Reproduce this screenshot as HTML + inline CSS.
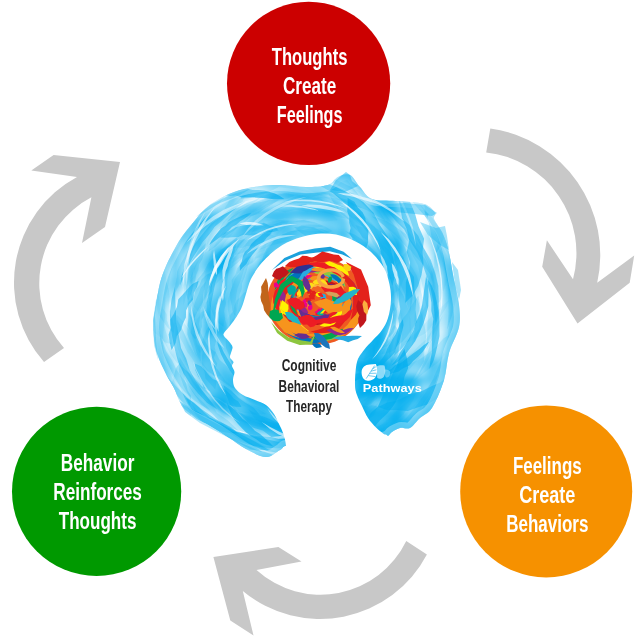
<!DOCTYPE html>
<html><head><meta charset="utf-8"><style>
html,body{margin:0;padding:0;background:#fff;}
svg{display:block;will-change:transform;}
.t{font-family:"Liberation Sans",sans-serif;font-weight:bold;fill:#fff;}
.c{font-family:"Liberation Sans",sans-serif;font-weight:bold;fill:#262626;}
</style></head><body>
<svg width="640" height="640" viewBox="0 0 640 640">
<rect width="640" height="640" fill="#fff"/>
<g fill="#c8c8c8">
<path d="M44,362 A120,120 0 0 1 77,177 L31.3,170.6 L53.6,155 L120,162 L105,227 L82,243 L91.4,197.3 A97,97 0 0 0 64,348 Z"/>
<path d="M490.3,128.4 A127.7,127.7 0 0 1 597.2,282.7 L634.2,255.6 L629.7,282.7 L577.5,323.4 L542.2,266.7 L546.9,240.3 L573,279.3 A101.3,101.3 0 0 0 486.2,152.4 Z"/>
<path d="M426.9,554.4 A120.6,120.6 0 0 1 242.8,591 L253.5,635.6 L230.3,620.6 L213.4,556.9 L278.4,547.1 L301.5,561.6 L256.5,570 A95.2,95.2 0 0 0 406.25,540.9 Z"/>
</g>
<circle cx="308.6" cy="83.4" r="81.6" fill="#cc0000"/>
<circle cx="96.6" cy="491.4" r="84.6" fill="#009900"/>
<circle cx="546.2" cy="491.4" r="86" fill="#f69100"/>
<filter id="bl" x="-10%" y="-10%" width="120%" height="120%"><feGaussianBlur stdDeviation="4"/></filter>
<clipPath id="bc"><path d="M192.0,224.0 C196.0,219.2 200.3,213.2 205.0,209.0 C209.7,204.8 214.2,201.7 220.0,198.5 C225.8,195.3 233.2,192.1 240.0,190.0 C246.8,187.9 254.2,186.8 261.0,186.0 C267.8,185.2 273.5,184.8 281.0,185.0 C288.5,185.2 298.2,187.0 306.0,187.0 C313.8,187.0 322.7,186.7 328.0,185.0 C333.3,183.3 334.3,178.7 338.0,177.0 C341.7,175.3 346.3,173.3 350.0,175.0 C353.7,176.7 356.3,183.0 360.0,187.0 C363.7,191.0 366.0,196.7 372.0,199.0 C378.0,201.3 387.3,200.2 396.0,201.0 C404.7,201.8 417.5,202.0 424.0,204.0 C430.5,206.0 433.3,210.5 435.0,213.0 C436.7,215.5 432.7,215.5 434.0,219.0 C435.3,222.5 440.5,228.3 443.0,234.0 C445.5,239.7 447.2,245.3 449.0,253.0 C450.8,260.7 452.3,271.3 454.0,280.0 C455.7,288.7 458.2,297.2 459.0,305.0 C459.8,312.8 460.7,319.0 459.0,327.0 C457.3,335.0 451.5,344.2 449.0,353.0 C446.5,361.8 446.8,370.8 444.0,380.0 C441.2,389.2 436.0,401.7 432.0,408.0 C428.0,414.3 423.7,414.7 420.0,418.0 C416.3,421.3 413.3,426.3 410.0,428.0 C406.7,429.7 403.0,427.3 400.0,428.0 C397.0,428.7 394.3,430.5 392.0,432.0 C389.7,433.5 389.7,435.5 386.0,437.0 C382.3,438.5 379.3,439.2 370.0,441.0 C360.7,442.8 343.3,447.3 330.0,448.0 C316.7,448.7 298.3,444.7 290.0,445.0 C281.7,445.3 284.0,448.0 280.0,450.0 C276.0,452.0 271.7,457.2 266.0,457.0 C260.3,456.8 252.3,452.3 246.0,449.0 C239.7,445.7 234.2,441.0 228.0,437.0 C221.8,433.0 215.7,428.8 209.0,425.0 C202.3,421.2 192.8,417.8 188.0,414.0 C183.2,410.2 182.3,406.3 180.0,402.0 C177.7,397.7 176.3,392.7 174.0,388.0 C171.7,383.3 168.8,379.8 166.0,374.0 C163.2,368.2 159.2,360.8 157.0,353.0 C154.8,345.2 153.2,335.0 153.0,327.0 C152.8,319.0 154.8,312.3 156.0,305.0 C157.2,297.7 158.3,289.5 160.0,283.0 C161.7,276.5 163.8,271.2 166.0,266.0 C168.2,260.8 170.5,256.7 173.0,252.0 C175.5,247.3 177.8,242.7 181.0,238.0 C184.2,233.3 188.0,228.8 192.0,224.0Z"/></clipPath>
<g clip-path="url(#bc)">
<g fill="#00aeef" filter="url(#bl)"><rect x="148" y="168" width="8" height="8" fill-opacity="0.37"/>
<rect x="156" y="168" width="8" height="8" fill-opacity="0.36"/>
<rect x="164" y="168" width="8" height="8" fill-opacity="0.34"/>
<rect x="172" y="168" width="8" height="8" fill-opacity="0.33"/>
<rect x="180" y="168" width="8" height="8" fill-opacity="0.31"/>
<rect x="188" y="168" width="8" height="8" fill-opacity="0.30"/>
<rect x="196" y="168" width="8" height="8" fill-opacity="0.28"/>
<rect x="204" y="168" width="8" height="8" fill-opacity="0.28"/>
<rect x="212" y="168" width="8" height="8" fill-opacity="0.29"/>
<rect x="220" y="168" width="8" height="8" fill-opacity="0.31"/>
<rect x="228" y="168" width="8" height="8" fill-opacity="0.34"/>
<rect x="236" y="168" width="8" height="8" fill-opacity="0.35"/>
<rect x="244" y="168" width="8" height="8" fill-opacity="0.35"/>
<rect x="252" y="168" width="8" height="8" fill-opacity="0.37"/>
<rect x="260" y="168" width="8" height="8" fill-opacity="0.39"/>
<rect x="268" y="168" width="8" height="8" fill-opacity="0.41"/>
<rect x="276" y="168" width="8" height="8" fill-opacity="0.42"/>
<rect x="284" y="168" width="8" height="8" fill-opacity="0.43"/>
<rect x="292" y="168" width="8" height="8" fill-opacity="0.44"/>
<rect x="300" y="168" width="8" height="8" fill-opacity="0.44"/>
<rect x="308" y="168" width="8" height="8" fill-opacity="0.44"/>
<rect x="316" y="168" width="8" height="8" fill-opacity="0.44"/>
<rect x="324" y="168" width="8" height="8" fill-opacity="1.00"/>
<rect x="332" y="168" width="8" height="8" fill-opacity="1.00"/>
<rect x="340" y="168" width="8" height="8" fill-opacity="1.00"/>
<rect x="348" y="168" width="8" height="8" fill-opacity="0.89"/>
<rect x="356" y="168" width="8" height="8" fill-opacity="1.00"/>
<rect x="364" y="168" width="8" height="8" fill-opacity="0.44"/>
<rect x="372" y="168" width="8" height="8" fill-opacity="0.44"/>
<rect x="380" y="168" width="8" height="8" fill-opacity="0.45"/>
<rect x="388" y="168" width="8" height="8" fill-opacity="0.45"/>
<rect x="396" y="168" width="8" height="8" fill-opacity="0.44"/>
<rect x="404" y="168" width="8" height="8" fill-opacity="0.42"/>
<rect x="412" y="168" width="8" height="8" fill-opacity="0.41"/>
<rect x="420" y="168" width="8" height="8" fill-opacity="0.39"/>
<rect x="428" y="168" width="8" height="8" fill-opacity="0.39"/>
<rect x="436" y="168" width="8" height="8" fill-opacity="0.39"/>
<rect x="444" y="168" width="8" height="8" fill-opacity="0.39"/>
<rect x="452" y="168" width="8" height="8" fill-opacity="0.40"/>
<rect x="460" y="168" width="8" height="8" fill-opacity="0.40"/>
<rect x="148" y="176" width="8" height="8" fill-opacity="0.37"/>
<rect x="156" y="176" width="8" height="8" fill-opacity="0.36"/>
<rect x="164" y="176" width="8" height="8" fill-opacity="0.34"/>
<rect x="172" y="176" width="8" height="8" fill-opacity="0.32"/>
<rect x="180" y="176" width="8" height="8" fill-opacity="0.30"/>
<rect x="188" y="176" width="8" height="8" fill-opacity="0.28"/>
<rect x="196" y="176" width="8" height="8" fill-opacity="0.26"/>
<rect x="204" y="176" width="8" height="8" fill-opacity="0.26"/>
<rect x="212" y="176" width="8" height="8" fill-opacity="0.27"/>
<rect x="220" y="176" width="8" height="8" fill-opacity="0.29"/>
<rect x="228" y="176" width="8" height="8" fill-opacity="0.91"/>
<rect x="236" y="176" width="8" height="8" fill-opacity="0.91"/>
<rect x="244" y="176" width="8" height="8" fill-opacity="1.00"/>
<rect x="252" y="176" width="8" height="8" fill-opacity="1.00"/>
<rect x="260" y="176" width="8" height="8" fill-opacity="1.00"/>
<rect x="268" y="176" width="8" height="8" fill-opacity="1.00"/>
<rect x="276" y="176" width="8" height="8" fill-opacity="1.00"/>
<rect x="284" y="176" width="8" height="8" fill-opacity="1.00"/>
<rect x="292" y="176" width="8" height="8" fill-opacity="1.00"/>
<rect x="300" y="176" width="8" height="8" fill-opacity="1.00"/>
<rect x="308" y="176" width="8" height="8" fill-opacity="1.00"/>
<rect x="316" y="176" width="8" height="8" fill-opacity="1.00"/>
<rect x="324" y="176" width="8" height="8" fill-opacity="0.90"/>
<rect x="332" y="176" width="8" height="8" fill-opacity="0.16"/>
<rect x="340" y="176" width="8" height="8" fill-opacity="0.13"/>
<rect x="348" y="176" width="8" height="8" fill-opacity="0.53"/>
<rect x="356" y="176" width="8" height="8" fill-opacity="1.00"/>
<rect x="364" y="176" width="8" height="8" fill-opacity="1.00"/>
<rect x="372" y="176" width="8" height="8" fill-opacity="1.00"/>
<rect x="380" y="176" width="8" height="8" fill-opacity="0.45"/>
<rect x="388" y="176" width="8" height="8" fill-opacity="0.45"/>
<rect x="396" y="176" width="8" height="8" fill-opacity="0.44"/>
<rect x="404" y="176" width="8" height="8" fill-opacity="0.41"/>
<rect x="412" y="176" width="8" height="8" fill-opacity="0.39"/>
<rect x="420" y="176" width="8" height="8" fill-opacity="0.37"/>
<rect x="428" y="176" width="8" height="8" fill-opacity="0.37"/>
<rect x="436" y="176" width="8" height="8" fill-opacity="0.37"/>
<rect x="444" y="176" width="8" height="8" fill-opacity="0.38"/>
<rect x="452" y="176" width="8" height="8" fill-opacity="0.39"/>
<rect x="460" y="176" width="8" height="8" fill-opacity="0.39"/>
<rect x="148" y="184" width="8" height="8" fill-opacity="0.37"/>
<rect x="156" y="184" width="8" height="8" fill-opacity="0.36"/>
<rect x="164" y="184" width="8" height="8" fill-opacity="0.34"/>
<rect x="172" y="184" width="8" height="8" fill-opacity="0.32"/>
<rect x="180" y="184" width="8" height="8" fill-opacity="0.30"/>
<rect x="188" y="184" width="8" height="8" fill-opacity="0.27"/>
<rect x="196" y="184" width="8" height="8" fill-opacity="0.25"/>
<rect x="204" y="184" width="8" height="8" fill-opacity="0.24"/>
<rect x="212" y="184" width="8" height="8" fill-opacity="0.44"/>
<rect x="260" y="184" width="8" height="8" fill-opacity="0.04"/>
<rect x="268" y="184" width="8" height="8" fill-opacity="0.40"/>
<rect x="276" y="184" width="8" height="8" fill-opacity="0.30"/>
<rect x="284" y="184" width="8" height="8" fill-opacity="0.34"/>
<rect x="292" y="184" width="8" height="8" fill-opacity="0.43"/>
<rect x="300" y="184" width="8" height="8" fill-opacity="0.27"/>
<rect x="308" y="184" width="8" height="8" fill-opacity="0.19"/>
<rect x="316" y="184" width="8" height="8" fill-opacity="0.28"/>
<rect x="324" y="184" width="8" height="8" fill-opacity="0.11"/>
<rect x="348" y="184" width="8" height="8" fill-opacity="0.19"/>
<rect x="356" y="184" width="8" height="8" fill-opacity="1.00"/>
<rect x="364" y="184" width="8" height="8" fill-opacity="1.00"/>
<rect x="372" y="184" width="8" height="8" fill-opacity="1.00"/>
<rect x="380" y="184" width="8" height="8" fill-opacity="1.00"/>
<rect x="388" y="184" width="8" height="8" fill-opacity="1.00"/>
<rect x="396" y="184" width="8" height="8" fill-opacity="0.44"/>
<rect x="404" y="184" width="8" height="8" fill-opacity="0.40"/>
<rect x="412" y="184" width="8" height="8" fill-opacity="0.36"/>
<rect x="420" y="184" width="8" height="8" fill-opacity="0.34"/>
<rect x="428" y="184" width="8" height="8" fill-opacity="0.34"/>
<rect x="436" y="184" width="8" height="8" fill-opacity="0.35"/>
<rect x="444" y="184" width="8" height="8" fill-opacity="0.36"/>
<rect x="452" y="184" width="8" height="8" fill-opacity="0.37"/>
<rect x="460" y="184" width="8" height="8" fill-opacity="0.39"/>
<rect x="148" y="192" width="8" height="8" fill-opacity="0.37"/>
<rect x="156" y="192" width="8" height="8" fill-opacity="0.36"/>
<rect x="164" y="192" width="8" height="8" fill-opacity="0.35"/>
<rect x="172" y="192" width="8" height="8" fill-opacity="0.33"/>
<rect x="180" y="192" width="8" height="8" fill-opacity="0.30"/>
<rect x="188" y="192" width="8" height="8" fill-opacity="0.27"/>
<rect x="196" y="192" width="8" height="8" fill-opacity="0.25"/>
<rect x="204" y="192" width="8" height="8" fill-opacity="0.14"/>
<rect x="212" y="192" width="8" height="8" fill-opacity="0.06"/>
<rect x="220" y="192" width="8" height="8" fill-opacity="0.07"/>
<rect x="228" y="192" width="8" height="8" fill-opacity="0.69"/>
<rect x="236" y="192" width="8" height="8" fill-opacity="0.47"/>
<rect x="244" y="192" width="8" height="8" fill-opacity="0.10"/>
<rect x="268" y="192" width="8" height="8" fill-opacity="0.46"/>
<rect x="276" y="192" width="8" height="8" fill-opacity="0.70"/>
<rect x="284" y="192" width="8" height="8" fill-opacity="0.95"/>
<rect x="292" y="192" width="8" height="8" fill-opacity="1.00"/>
<rect x="300" y="192" width="8" height="8" fill-opacity="1.00"/>
<rect x="308" y="192" width="8" height="8" fill-opacity="1.00"/>
<rect x="316" y="192" width="8" height="8" fill-opacity="0.98"/>
<rect x="324" y="192" width="8" height="8" fill-opacity="0.44"/>
<rect x="356" y="192" width="8" height="8" fill-opacity="0.06"/>
<rect x="364" y="192" width="8" height="8" fill-opacity="0.81"/>
<rect x="372" y="192" width="8" height="8" fill-opacity="1.00"/>
<rect x="380" y="192" width="8" height="8" fill-opacity="1.00"/>
<rect x="388" y="192" width="8" height="8" fill-opacity="1.00"/>
<rect x="396" y="192" width="8" height="8" fill-opacity="0.45"/>
<rect x="404" y="192" width="8" height="8" fill-opacity="0.48"/>
<rect x="412" y="192" width="8" height="8" fill-opacity="0.48"/>
<rect x="420" y="192" width="8" height="8" fill-opacity="0.96"/>
<rect x="428" y="192" width="8" height="8" fill-opacity="1.00"/>
<rect x="436" y="192" width="8" height="8" fill-opacity="0.32"/>
<rect x="444" y="192" width="8" height="8" fill-opacity="0.34"/>
<rect x="452" y="192" width="8" height="8" fill-opacity="0.36"/>
<rect x="460" y="192" width="8" height="8" fill-opacity="0.38"/>
<rect x="148" y="200" width="8" height="8" fill-opacity="0.37"/>
<rect x="156" y="200" width="8" height="8" fill-opacity="0.37"/>
<rect x="164" y="200" width="8" height="8" fill-opacity="0.36"/>
<rect x="172" y="200" width="8" height="8" fill-opacity="0.34"/>
<rect x="180" y="200" width="8" height="8" fill-opacity="0.32"/>
<rect x="212" y="200" width="8" height="8" fill-opacity="0.12"/>
<rect x="220" y="200" width="8" height="8" fill-opacity="0.42"/>
<rect x="228" y="200" width="8" height="8" fill-opacity="0.58"/>
<rect x="268" y="200" width="8" height="8" fill-opacity="0.06"/>
<rect x="284" y="200" width="8" height="8" fill-opacity="0.01"/>
<rect x="292" y="200" width="8" height="8" fill-opacity="0.11"/>
<rect x="300" y="200" width="8" height="8" fill-opacity="0.21"/>
<rect x="308" y="200" width="8" height="8" fill-opacity="0.14"/>
<rect x="316" y="200" width="8" height="8" fill-opacity="0.25"/>
<rect x="324" y="200" width="8" height="8" fill-opacity="0.43"/>
<rect x="332" y="200" width="8" height="8" fill-opacity="0.54"/>
<rect x="372" y="200" width="8" height="8" fill-opacity="0.96"/>
<rect x="380" y="200" width="8" height="8" fill-opacity="1.00"/>
<rect x="388" y="200" width="8" height="8" fill-opacity="0.88"/>
<rect x="396" y="200" width="8" height="8" fill-opacity="0.07"/>
<rect x="444" y="200" width="8" height="8" fill-opacity="0.33"/>
<rect x="452" y="200" width="8" height="8" fill-opacity="0.36"/>
<rect x="460" y="200" width="8" height="8" fill-opacity="0.38"/>
<rect x="148" y="208" width="8" height="8" fill-opacity="0.38"/>
<rect x="156" y="208" width="8" height="8" fill-opacity="0.37"/>
<rect x="164" y="208" width="8" height="8" fill-opacity="0.37"/>
<rect x="172" y="208" width="8" height="8" fill-opacity="0.36"/>
<rect x="180" y="208" width="8" height="8" fill-opacity="0.35"/>
<rect x="188" y="208" width="8" height="8" fill-opacity="0.15"/>
<rect x="196" y="208" width="8" height="8" fill-opacity="0.42"/>
<rect x="204" y="208" width="8" height="8" fill-opacity="0.46"/>
<rect x="212" y="208" width="8" height="8" fill-opacity="0.65"/>
<rect x="220" y="208" width="8" height="8" fill-opacity="0.49"/>
<rect x="228" y="208" width="8" height="8" fill-opacity="0.44"/>
<rect x="236" y="208" width="8" height="8" fill-opacity="0.39"/>
<rect x="244" y="208" width="8" height="8" fill-opacity="0.61"/>
<rect x="252" y="208" width="8" height="8" fill-opacity="0.69"/>
<rect x="260" y="208" width="8" height="8" fill-opacity="0.71"/>
<rect x="268" y="208" width="8" height="8" fill-opacity="0.75"/>
<rect x="276" y="208" width="8" height="8" fill-opacity="0.82"/>
<rect x="284" y="208" width="8" height="8" fill-opacity="0.86"/>
<rect x="292" y="208" width="8" height="8" fill-opacity="0.87"/>
<rect x="300" y="208" width="8" height="8" fill-opacity="1.00"/>
<rect x="308" y="208" width="8" height="8" fill-opacity="1.00"/>
<rect x="316" y="208" width="8" height="8" fill-opacity="1.00"/>
<rect x="324" y="208" width="8" height="8" fill-opacity="1.00"/>
<rect x="332" y="208" width="8" height="8" fill-opacity="0.85"/>
<rect x="340" y="208" width="8" height="8" fill-opacity="0.22"/>
<rect x="372" y="208" width="8" height="8" fill-opacity="0.68"/>
<rect x="380" y="208" width="8" height="8" fill-opacity="0.95"/>
<rect x="388" y="208" width="8" height="8" fill-opacity="1.00"/>
<rect x="396" y="208" width="8" height="8" fill-opacity="0.38"/>
<rect x="436" y="208" width="8" height="8" fill-opacity="0.41"/>
<rect x="444" y="208" width="8" height="8" fill-opacity="0.33"/>
<rect x="452" y="208" width="8" height="8" fill-opacity="0.36"/>
<rect x="460" y="208" width="8" height="8" fill-opacity="0.38"/>
<rect x="148" y="216" width="8" height="8" fill-opacity="0.38"/>
<rect x="156" y="216" width="8" height="8" fill-opacity="0.38"/>
<rect x="164" y="216" width="8" height="8" fill-opacity="0.38"/>
<rect x="172" y="216" width="8" height="8" fill-opacity="0.38"/>
<rect x="188" y="216" width="8" height="8" fill-opacity="1.00"/>
<rect x="196" y="216" width="8" height="8" fill-opacity="0.92"/>
<rect x="204" y="216" width="8" height="8" fill-opacity="1.00"/>
<rect x="212" y="216" width="8" height="8" fill-opacity="0.74"/>
<rect x="220" y="216" width="8" height="8" fill-opacity="0.30"/>
<rect x="236" y="216" width="8" height="8" fill-opacity="0.01"/>
<rect x="244" y="216" width="8" height="8" fill-opacity="0.36"/>
<rect x="252" y="216" width="8" height="8" fill-opacity="0.59"/>
<rect x="260" y="216" width="8" height="8" fill-opacity="0.58"/>
<rect x="268" y="216" width="8" height="8" fill-opacity="0.72"/>
<rect x="276" y="216" width="8" height="8" fill-opacity="0.65"/>
<rect x="284" y="216" width="8" height="8" fill-opacity="0.55"/>
<rect x="292" y="216" width="8" height="8" fill-opacity="0.32"/>
<rect x="300" y="216" width="8" height="8" fill-opacity="0.33"/>
<rect x="308" y="216" width="8" height="8" fill-opacity="0.33"/>
<rect x="316" y="216" width="8" height="8" fill-opacity="0.41"/>
<rect x="324" y="216" width="8" height="8" fill-opacity="0.56"/>
<rect x="332" y="216" width="8" height="8" fill-opacity="0.64"/>
<rect x="340" y="216" width="8" height="8" fill-opacity="0.75"/>
<rect x="348" y="216" width="8" height="8" fill-opacity="0.24"/>
<rect x="372" y="216" width="8" height="8" fill-opacity="0.25"/>
<rect x="380" y="216" width="8" height="8" fill-opacity="0.62"/>
<rect x="388" y="216" width="8" height="8" fill-opacity="0.74"/>
<rect x="396" y="216" width="8" height="8" fill-opacity="0.29"/>
<rect x="436" y="216" width="8" height="8" fill-opacity="0.01"/>
<rect x="444" y="216" width="8" height="8" fill-opacity="1.00"/>
<rect x="452" y="216" width="8" height="8" fill-opacity="0.36"/>
<rect x="460" y="216" width="8" height="8" fill-opacity="0.38"/>
<rect x="148" y="224" width="8" height="8" fill-opacity="0.38"/>
<rect x="156" y="224" width="8" height="8" fill-opacity="0.38"/>
<rect x="164" y="224" width="8" height="8" fill-opacity="0.38"/>
<rect x="172" y="224" width="8" height="8" fill-opacity="0.61"/>
<rect x="180" y="224" width="8" height="8" fill-opacity="0.78"/>
<rect x="188" y="224" width="8" height="8" fill-opacity="1.00"/>
<rect x="196" y="224" width="8" height="8" fill-opacity="0.85"/>
<rect x="204" y="224" width="8" height="8" fill-opacity="0.67"/>
<rect x="212" y="224" width="8" height="8" fill-opacity="0.01"/>
<rect x="236" y="224" width="8" height="8" fill-opacity="0.43"/>
<rect x="244" y="224" width="8" height="8" fill-opacity="0.88"/>
<rect x="252" y="224" width="8" height="8" fill-opacity="0.70"/>
<rect x="260" y="224" width="8" height="8" fill-opacity="0.34"/>
<rect x="268" y="224" width="8" height="8" fill-opacity="0.43"/>
<rect x="276" y="224" width="8" height="8" fill-opacity="0.63"/>
<rect x="284" y="224" width="8" height="8" fill-opacity="0.67"/>
<rect x="292" y="224" width="8" height="8" fill-opacity="0.44"/>
<rect x="300" y="224" width="8" height="8" fill-opacity="0.42"/>
<rect x="308" y="224" width="8" height="8" fill-opacity="0.47"/>
<rect x="316" y="224" width="8" height="8" fill-opacity="0.51"/>
<rect x="324" y="224" width="8" height="8" fill-opacity="0.59"/>
<rect x="332" y="224" width="8" height="8" fill-opacity="0.49"/>
<rect x="340" y="224" width="8" height="8" fill-opacity="0.67"/>
<rect x="348" y="224" width="8" height="8" fill-opacity="0.30"/>
<rect x="372" y="224" width="8" height="8" fill-opacity="0.10"/>
<rect x="380" y="224" width="8" height="8" fill-opacity="0.50"/>
<rect x="388" y="224" width="8" height="8" fill-opacity="0.57"/>
<rect x="396" y="224" width="8" height="8" fill-opacity="0.27"/>
<rect x="428" y="224" width="8" height="8" fill-opacity="0.23"/>
<rect x="444" y="224" width="8" height="8" fill-opacity="0.16"/>
<rect x="452" y="224" width="8" height="8" fill-opacity="1.00"/>
<rect x="460" y="224" width="8" height="8" fill-opacity="0.39"/>
<rect x="148" y="232" width="8" height="8" fill-opacity="0.38"/>
<rect x="156" y="232" width="8" height="8" fill-opacity="0.37"/>
<rect x="164" y="232" width="8" height="8" fill-opacity="1.00"/>
<rect x="172" y="232" width="8" height="8" fill-opacity="0.49"/>
<rect x="180" y="232" width="8" height="8" fill-opacity="0.95"/>
<rect x="188" y="232" width="8" height="8" fill-opacity="0.75"/>
<rect x="196" y="232" width="8" height="8" fill-opacity="0.63"/>
<rect x="204" y="232" width="8" height="8" fill-opacity="0.28"/>
<rect x="212" y="232" width="8" height="8" fill-opacity="0.03"/>
<rect x="220" y="232" width="8" height="8" fill-opacity="0.27"/>
<rect x="228" y="232" width="8" height="8" fill-opacity="0.21"/>
<rect x="236" y="232" width="8" height="8" fill-opacity="0.56"/>
<rect x="244" y="232" width="8" height="8" fill-opacity="0.21"/>
<rect x="252" y="232" width="8" height="8" fill-opacity="0.02"/>
<rect x="268" y="232" width="8" height="8" fill-opacity="0.32"/>
<rect x="276" y="232" width="8" height="8" fill-opacity="0.59"/>
<rect x="284" y="232" width="8" height="8" fill-opacity="0.63"/>
<rect x="292" y="232" width="8" height="8" fill-opacity="0.44"/>
<rect x="300" y="232" width="8" height="8" fill-opacity="0.25"/>
<rect x="308" y="232" width="8" height="8" fill-opacity="0.31"/>
<rect x="316" y="232" width="8" height="8" fill-opacity="0.55"/>
<rect x="324" y="232" width="8" height="8" fill-opacity="0.93"/>
<rect x="332" y="232" width="8" height="8" fill-opacity="0.74"/>
<rect x="340" y="232" width="8" height="8" fill-opacity="0.92"/>
<rect x="348" y="232" width="8" height="8" fill-opacity="0.41"/>
<rect x="356" y="232" width="8" height="8" fill-opacity="0.01"/>
<rect x="364" y="232" width="8" height="8" fill-opacity="0.04"/>
<rect x="372" y="232" width="8" height="8" fill-opacity="0.18"/>
<rect x="380" y="232" width="8" height="8" fill-opacity="0.67"/>
<rect x="388" y="232" width="8" height="8" fill-opacity="0.76"/>
<rect x="396" y="232" width="8" height="8" fill-opacity="0.62"/>
<rect x="420" y="232" width="8" height="8" fill-opacity="0.25"/>
<rect x="428" y="232" width="8" height="8" fill-opacity="0.49"/>
<rect x="436" y="232" width="8" height="8" fill-opacity="0.19"/>
<rect x="452" y="232" width="8" height="8" fill-opacity="1.00"/>
<rect x="460" y="232" width="8" height="8" fill-opacity="0.39"/>
<rect x="148" y="240" width="8" height="8" fill-opacity="0.37"/>
<rect x="156" y="240" width="8" height="8" fill-opacity="0.36"/>
<rect x="164" y="240" width="8" height="8" fill-opacity="1.00"/>
<rect x="172" y="240" width="8" height="8" fill-opacity="0.37"/>
<rect x="180" y="240" width="8" height="8" fill-opacity="0.82"/>
<rect x="188" y="240" width="8" height="8" fill-opacity="0.35"/>
<rect x="196" y="240" width="8" height="8" fill-opacity="0.75"/>
<rect x="204" y="240" width="8" height="8" fill-opacity="0.10"/>
<rect x="212" y="240" width="8" height="8" fill-opacity="0.34"/>
<rect x="220" y="240" width="8" height="8" fill-opacity="0.51"/>
<rect x="228" y="240" width="8" height="8" fill-opacity="0.51"/>
<rect x="236" y="240" width="8" height="8" fill-opacity="0.42"/>
<rect x="244" y="240" width="8" height="8" fill-opacity="0.12"/>
<rect x="252" y="240" width="8" height="8" fill-opacity="0.19"/>
<rect x="260" y="240" width="8" height="8" fill-opacity="0.36"/>
<rect x="268" y="240" width="8" height="8" fill-opacity="0.43"/>
<rect x="276" y="240" width="8" height="8" fill-opacity="0.51"/>
<rect x="284" y="240" width="8" height="8" fill-opacity="0.13"/>
<rect x="340" y="240" width="8" height="8" fill-opacity="0.41"/>
<rect x="348" y="240" width="8" height="8" fill-opacity="0.52"/>
<rect x="356" y="240" width="8" height="8" fill-opacity="0.32"/>
<rect x="364" y="240" width="8" height="8" fill-opacity="0.37"/>
<rect x="372" y="240" width="8" height="8" fill-opacity="0.37"/>
<rect x="380" y="240" width="8" height="8" fill-opacity="0.75"/>
<rect x="388" y="240" width="8" height="8" fill-opacity="0.88"/>
<rect x="396" y="240" width="8" height="8" fill-opacity="1.00"/>
<rect x="420" y="240" width="8" height="8" fill-opacity="0.11"/>
<rect x="428" y="240" width="8" height="8" fill-opacity="0.41"/>
<rect x="436" y="240" width="8" height="8" fill-opacity="0.59"/>
<rect x="452" y="240" width="8" height="8" fill-opacity="1.00"/>
<rect x="460" y="240" width="8" height="8" fill-opacity="0.40"/>
<rect x="148" y="248" width="8" height="8" fill-opacity="0.37"/>
<rect x="156" y="248" width="8" height="8" fill-opacity="1.00"/>
<rect x="164" y="248" width="8" height="8" fill-opacity="0.88"/>
<rect x="172" y="248" width="8" height="8" fill-opacity="0.48"/>
<rect x="180" y="248" width="8" height="8" fill-opacity="0.54"/>
<rect x="188" y="248" width="8" height="8" fill-opacity="0.22"/>
<rect x="196" y="248" width="8" height="8" fill-opacity="0.52"/>
<rect x="204" y="248" width="8" height="8" fill-opacity="0.24"/>
<rect x="212" y="248" width="8" height="8" fill-opacity="0.80"/>
<rect x="220" y="248" width="8" height="8" fill-opacity="0.87"/>
<rect x="228" y="248" width="8" height="8" fill-opacity="0.81"/>
<rect x="236" y="248" width="8" height="8" fill-opacity="0.14"/>
<rect x="252" y="248" width="8" height="8" fill-opacity="0.08"/>
<rect x="260" y="248" width="8" height="8" fill-opacity="0.37"/>
<rect x="268" y="248" width="8" height="8" fill-opacity="0.29"/>
<rect x="340" y="248" width="8" height="8" fill-opacity="0.19"/>
<rect x="348" y="248" width="8" height="8" fill-opacity="1.00"/>
<rect x="356" y="248" width="8" height="8" fill-opacity="1.00"/>
<rect x="364" y="248" width="8" height="8" fill-opacity="0.92"/>
<rect x="372" y="248" width="8" height="8" fill-opacity="0.52"/>
<rect x="380" y="248" width="8" height="8" fill-opacity="0.53"/>
<rect x="388" y="248" width="8" height="8" fill-opacity="0.68"/>
<rect x="396" y="248" width="8" height="8" fill-opacity="1.00"/>
<rect x="404" y="248" width="8" height="8" fill-opacity="0.21"/>
<rect x="428" y="248" width="8" height="8" fill-opacity="0.29"/>
<rect x="436" y="248" width="8" height="8" fill-opacity="0.86"/>
<rect x="444" y="248" width="8" height="8" fill-opacity="0.09"/>
<rect x="452" y="248" width="8" height="8" fill-opacity="1.00"/>
<rect x="460" y="248" width="8" height="8" fill-opacity="0.40"/>
<rect x="148" y="256" width="8" height="8" fill-opacity="0.36"/>
<rect x="156" y="256" width="8" height="8" fill-opacity="1.00"/>
<rect x="164" y="256" width="8" height="8" fill-opacity="0.51"/>
<rect x="172" y="256" width="8" height="8" fill-opacity="0.68"/>
<rect x="180" y="256" width="8" height="8" fill-opacity="0.27"/>
<rect x="188" y="256" width="8" height="8" fill-opacity="0.43"/>
<rect x="196" y="256" width="8" height="8" fill-opacity="0.38"/>
<rect x="204" y="256" width="8" height="8" fill-opacity="0.68"/>
<rect x="212" y="256" width="8" height="8" fill-opacity="0.90"/>
<rect x="220" y="256" width="8" height="8" fill-opacity="1.00"/>
<rect x="228" y="256" width="8" height="8" fill-opacity="0.71"/>
<rect x="236" y="256" width="8" height="8" fill-opacity="0.01"/>
<rect x="244" y="256" width="8" height="8" fill-opacity="0.36"/>
<rect x="252" y="256" width="8" height="8" fill-opacity="0.27"/>
<rect x="260" y="256" width="8" height="8" fill-opacity="0.94"/>
<rect x="268" y="256" width="8" height="8" fill-opacity="0.95"/>
<rect x="276" y="256" width="8" height="8" fill-opacity="1.00"/>
<rect x="348" y="256" width="8" height="8" fill-opacity="1.00"/>
<rect x="356" y="256" width="8" height="8" fill-opacity="1.00"/>
<rect x="364" y="256" width="8" height="8" fill-opacity="0.79"/>
<rect x="372" y="256" width="8" height="8" fill-opacity="1.00"/>
<rect x="380" y="256" width="8" height="8" fill-opacity="0.57"/>
<rect x="388" y="256" width="8" height="8" fill-opacity="0.84"/>
<rect x="396" y="256" width="8" height="8" fill-opacity="0.72"/>
<rect x="404" y="256" width="8" height="8" fill-opacity="0.43"/>
<rect x="428" y="256" width="8" height="8" fill-opacity="0.15"/>
<rect x="436" y="256" width="8" height="8" fill-opacity="0.74"/>
<rect x="444" y="256" width="8" height="8" fill-opacity="0.71"/>
<rect x="452" y="256" width="8" height="8" fill-opacity="1.00"/>
<rect x="460" y="256" width="8" height="8" fill-opacity="1.00"/>
<rect x="148" y="264" width="8" height="8" fill-opacity="0.37"/>
<rect x="156" y="264" width="8" height="8" fill-opacity="1.00"/>
<rect x="164" y="264" width="8" height="8" fill-opacity="0.22"/>
<rect x="172" y="264" width="8" height="8" fill-opacity="0.70"/>
<rect x="180" y="264" width="8" height="8" fill-opacity="0.09"/>
<rect x="188" y="264" width="8" height="8" fill-opacity="0.78"/>
<rect x="196" y="264" width="8" height="8" fill-opacity="0.31"/>
<rect x="204" y="264" width="8" height="8" fill-opacity="0.76"/>
<rect x="212" y="264" width="8" height="8" fill-opacity="0.84"/>
<rect x="220" y="264" width="8" height="8" fill-opacity="0.99"/>
<rect x="228" y="264" width="8" height="8" fill-opacity="0.66"/>
<rect x="236" y="264" width="8" height="8" fill-opacity="0.08"/>
<rect x="244" y="264" width="8" height="8" fill-opacity="0.56"/>
<rect x="252" y="264" width="8" height="8" fill-opacity="0.51"/>
<rect x="260" y="264" width="8" height="8" fill-opacity="1.00"/>
<rect x="268" y="264" width="8" height="8" fill-opacity="1.00"/>
<rect x="276" y="264" width="8" height="8" fill-opacity="0.90"/>
<rect x="284" y="264" width="8" height="8" fill-opacity="0.05"/>
<rect x="340" y="264" width="8" height="8" fill-opacity="0.52"/>
<rect x="348" y="264" width="8" height="8" fill-opacity="0.53"/>
<rect x="356" y="264" width="8" height="8" fill-opacity="0.54"/>
<rect x="364" y="264" width="8" height="8" fill-opacity="0.55"/>
<rect x="372" y="264" width="8" height="8" fill-opacity="1.00"/>
<rect x="380" y="264" width="8" height="8" fill-opacity="0.63"/>
<rect x="388" y="264" width="8" height="8" fill-opacity="0.67"/>
<rect x="396" y="264" width="8" height="8" fill-opacity="0.38"/>
<rect x="404" y="264" width="8" height="8" fill-opacity="0.49"/>
<rect x="412" y="264" width="8" height="8" fill-opacity="0.03"/>
<rect x="428" y="264" width="8" height="8" fill-opacity="0.32"/>
<rect x="436" y="264" width="8" height="8" fill-opacity="0.29"/>
<rect x="444" y="264" width="8" height="8" fill-opacity="0.99"/>
<rect x="452" y="264" width="8" height="8" fill-opacity="1.00"/>
<rect x="460" y="264" width="8" height="8" fill-opacity="1.00"/>
<rect x="148" y="272" width="8" height="8" fill-opacity="1.00"/>
<rect x="156" y="272" width="8" height="8" fill-opacity="0.90"/>
<rect x="164" y="272" width="8" height="8" fill-opacity="0.20"/>
<rect x="172" y="272" width="8" height="8" fill-opacity="0.73"/>
<rect x="180" y="272" width="8" height="8" fill-opacity="0.13"/>
<rect x="188" y="272" width="8" height="8" fill-opacity="0.88"/>
<rect x="196" y="272" width="8" height="8" fill-opacity="0.04"/>
<rect x="204" y="272" width="8" height="8" fill-opacity="0.54"/>
<rect x="212" y="272" width="8" height="8" fill-opacity="0.43"/>
<rect x="220" y="272" width="8" height="8" fill-opacity="0.66"/>
<rect x="228" y="272" width="8" height="8" fill-opacity="0.49"/>
<rect x="236" y="272" width="8" height="8" fill-opacity="0.26"/>
<rect x="244" y="272" width="8" height="8" fill-opacity="0.60"/>
<rect x="252" y="272" width="8" height="8" fill-opacity="0.85"/>
<rect x="260" y="272" width="8" height="8" fill-opacity="1.00"/>
<rect x="268" y="272" width="8" height="8" fill-opacity="1.00"/>
<rect x="276" y="272" width="8" height="8" fill-opacity="0.80"/>
<rect x="316" y="272" width="8" height="8" fill-opacity="0.50"/>
<rect x="324" y="272" width="8" height="8" fill-opacity="0.51"/>
<rect x="332" y="272" width="8" height="8" fill-opacity="0.51"/>
<rect x="340" y="272" width="8" height="8" fill-opacity="0.52"/>
<rect x="348" y="272" width="8" height="8" fill-opacity="0.53"/>
<rect x="356" y="272" width="8" height="8" fill-opacity="0.53"/>
<rect x="364" y="272" width="8" height="8" fill-opacity="0.54"/>
<rect x="372" y="272" width="8" height="8" fill-opacity="1.00"/>
<rect x="380" y="272" width="8" height="8" fill-opacity="0.95"/>
<rect x="388" y="272" width="8" height="8" fill-opacity="0.72"/>
<rect x="396" y="272" width="8" height="8" fill-opacity="0.54"/>
<rect x="404" y="272" width="8" height="8" fill-opacity="0.38"/>
<rect x="412" y="272" width="8" height="8" fill-opacity="0.46"/>
<rect x="428" y="272" width="8" height="8" fill-opacity="0.49"/>
<rect x="444" y="272" width="8" height="8" fill-opacity="1.00"/>
<rect x="452" y="272" width="8" height="8" fill-opacity="0.91"/>
<rect x="460" y="272" width="8" height="8" fill-opacity="1.00"/>
<rect x="148" y="280" width="8" height="8" fill-opacity="1.00"/>
<rect x="156" y="280" width="8" height="8" fill-opacity="0.60"/>
<rect x="164" y="280" width="8" height="8" fill-opacity="0.37"/>
<rect x="172" y="280" width="8" height="8" fill-opacity="0.79"/>
<rect x="180" y="280" width="8" height="8" fill-opacity="0.26"/>
<rect x="188" y="280" width="8" height="8" fill-opacity="0.55"/>
<rect x="204" y="280" width="8" height="8" fill-opacity="0.15"/>
<rect x="212" y="280" width="8" height="8" fill-opacity="0.35"/>
<rect x="220" y="280" width="8" height="8" fill-opacity="0.50"/>
<rect x="228" y="280" width="8" height="8" fill-opacity="0.66"/>
<rect x="236" y="280" width="8" height="8" fill-opacity="0.37"/>
<rect x="244" y="280" width="8" height="8" fill-opacity="0.64"/>
<rect x="252" y="280" width="8" height="8" fill-opacity="1.00"/>
<rect x="260" y="280" width="8" height="8" fill-opacity="0.45"/>
<rect x="268" y="280" width="8" height="8" fill-opacity="0.46"/>
<rect x="276" y="280" width="8" height="8" fill-opacity="0.47"/>
<rect x="284" y="280" width="8" height="8" fill-opacity="0.47"/>
<rect x="316" y="280" width="8" height="8" fill-opacity="0.50"/>
<rect x="324" y="280" width="8" height="8" fill-opacity="0.51"/>
<rect x="332" y="280" width="8" height="8" fill-opacity="0.52"/>
<rect x="364" y="280" width="8" height="8" fill-opacity="0.54"/>
<rect x="372" y="280" width="8" height="8" fill-opacity="0.55"/>
<rect x="380" y="280" width="8" height="8" fill-opacity="0.24"/>
<rect x="388" y="280" width="8" height="8" fill-opacity="0.60"/>
<rect x="396" y="280" width="8" height="8" fill-opacity="0.42"/>
<rect x="404" y="280" width="8" height="8" fill-opacity="0.49"/>
<rect x="412" y="280" width="8" height="8" fill-opacity="0.48"/>
<rect x="428" y="280" width="8" height="8" fill-opacity="0.34"/>
<rect x="444" y="280" width="8" height="8" fill-opacity="0.97"/>
<rect x="452" y="280" width="8" height="8" fill-opacity="0.73"/>
<rect x="460" y="280" width="8" height="8" fill-opacity="1.00"/>
<rect x="148" y="288" width="8" height="8" fill-opacity="1.00"/>
<rect x="156" y="288" width="8" height="8" fill-opacity="0.51"/>
<rect x="164" y="288" width="8" height="8" fill-opacity="0.41"/>
<rect x="172" y="288" width="8" height="8" fill-opacity="0.51"/>
<rect x="180" y="288" width="8" height="8" fill-opacity="0.04"/>
<rect x="188" y="288" width="8" height="8" fill-opacity="0.04"/>
<rect x="204" y="288" width="8" height="8" fill-opacity="0.06"/>
<rect x="212" y="288" width="8" height="8" fill-opacity="0.42"/>
<rect x="220" y="288" width="8" height="8" fill-opacity="0.58"/>
<rect x="228" y="288" width="8" height="8" fill-opacity="0.60"/>
<rect x="236" y="288" width="8" height="8" fill-opacity="0.37"/>
<rect x="244" y="288" width="8" height="8" fill-opacity="0.71"/>
<rect x="252" y="288" width="8" height="8" fill-opacity="1.00"/>
<rect x="260" y="288" width="8" height="8" fill-opacity="0.46"/>
<rect x="268" y="288" width="8" height="8" fill-opacity="0.46"/>
<rect x="276" y="288" width="8" height="8" fill-opacity="0.47"/>
<rect x="284" y="288" width="8" height="8" fill-opacity="0.48"/>
<rect x="292" y="288" width="8" height="8" fill-opacity="0.49"/>
<rect x="300" y="288" width="8" height="8" fill-opacity="0.50"/>
<rect x="308" y="288" width="8" height="8" fill-opacity="0.50"/>
<rect x="316" y="288" width="8" height="8" fill-opacity="0.51"/>
<rect x="364" y="288" width="8" height="8" fill-opacity="0.53"/>
<rect x="372" y="288" width="8" height="8" fill-opacity="0.54"/>
<rect x="380" y="288" width="8" height="8" fill-opacity="0.48"/>
<rect x="388" y="288" width="8" height="8" fill-opacity="0.88"/>
<rect x="396" y="288" width="8" height="8" fill-opacity="0.39"/>
<rect x="404" y="288" width="8" height="8" fill-opacity="0.53"/>
<rect x="412" y="288" width="8" height="8" fill-opacity="0.22"/>
<rect x="428" y="288" width="8" height="8" fill-opacity="0.15"/>
<rect x="444" y="288" width="8" height="8" fill-opacity="0.83"/>
<rect x="452" y="288" width="8" height="8" fill-opacity="0.60"/>
<rect x="460" y="288" width="8" height="8" fill-opacity="1.00"/>
<rect x="148" y="296" width="8" height="8" fill-opacity="0.59"/>
<rect x="156" y="296" width="8" height="8" fill-opacity="0.59"/>
<rect x="164" y="296" width="8" height="8" fill-opacity="0.30"/>
<rect x="172" y="296" width="8" height="8" fill-opacity="0.26"/>
<rect x="204" y="296" width="8" height="8" fill-opacity="0.42"/>
<rect x="212" y="296" width="8" height="8" fill-opacity="0.64"/>
<rect x="220" y="296" width="8" height="8" fill-opacity="0.75"/>
<rect x="228" y="296" width="8" height="8" fill-opacity="0.51"/>
<rect x="236" y="296" width="8" height="8" fill-opacity="0.37"/>
<rect x="244" y="296" width="8" height="8" fill-opacity="0.84"/>
<rect x="252" y="296" width="8" height="8" fill-opacity="1.00"/>
<rect x="260" y="296" width="8" height="8" fill-opacity="0.47"/>
<rect x="268" y="296" width="8" height="8" fill-opacity="0.47"/>
<rect x="276" y="296" width="8" height="8" fill-opacity="0.48"/>
<rect x="284" y="296" width="8" height="8" fill-opacity="0.48"/>
<rect x="292" y="296" width="8" height="8" fill-opacity="0.49"/>
<rect x="300" y="296" width="8" height="8" fill-opacity="0.50"/>
<rect x="364" y="296" width="8" height="8" fill-opacity="0.53"/>
<rect x="372" y="296" width="8" height="8" fill-opacity="0.53"/>
<rect x="380" y="296" width="8" height="8" fill-opacity="0.70"/>
<rect x="388" y="296" width="8" height="8" fill-opacity="0.75"/>
<rect x="404" y="296" width="8" height="8" fill-opacity="0.44"/>
<rect x="428" y="296" width="8" height="8" fill-opacity="0.03"/>
<rect x="444" y="296" width="8" height="8" fill-opacity="0.73"/>
<rect x="452" y="296" width="8" height="8" fill-opacity="0.60"/>
<rect x="460" y="296" width="8" height="8" fill-opacity="1.00"/>
<rect x="148" y="304" width="8" height="8" fill-opacity="0.25"/>
<rect x="156" y="304" width="8" height="8" fill-opacity="0.66"/>
<rect x="188" y="304" width="8" height="8" fill-opacity="0.17"/>
<rect x="196" y="304" width="8" height="8" fill-opacity="0.10"/>
<rect x="204" y="304" width="8" height="8" fill-opacity="0.70"/>
<rect x="212" y="304" width="8" height="8" fill-opacity="0.62"/>
<rect x="220" y="304" width="8" height="8" fill-opacity="0.64"/>
<rect x="228" y="304" width="8" height="8" fill-opacity="0.37"/>
<rect x="236" y="304" width="8" height="8" fill-opacity="0.47"/>
<rect x="244" y="304" width="8" height="8" fill-opacity="1.00"/>
<rect x="252" y="304" width="8" height="8" fill-opacity="0.48"/>
<rect x="260" y="304" width="8" height="8" fill-opacity="0.48"/>
<rect x="268" y="304" width="8" height="8" fill-opacity="0.48"/>
<rect x="276" y="304" width="8" height="8" fill-opacity="0.49"/>
<rect x="284" y="304" width="8" height="8" fill-opacity="0.49"/>
<rect x="292" y="304" width="8" height="8" fill-opacity="0.50"/>
<rect x="300" y="304" width="8" height="8" fill-opacity="0.51"/>
<rect x="356" y="304" width="8" height="8" fill-opacity="0.54"/>
<rect x="364" y="304" width="8" height="8" fill-opacity="0.53"/>
<rect x="372" y="304" width="8" height="8" fill-opacity="0.51"/>
<rect x="380" y="304" width="8" height="8" fill-opacity="0.71"/>
<rect x="388" y="304" width="8" height="8" fill-opacity="0.58"/>
<rect x="396" y="304" width="8" height="8" fill-opacity="0.07"/>
<rect x="404" y="304" width="8" height="8" fill-opacity="0.28"/>
<rect x="436" y="304" width="8" height="8" fill-opacity="0.10"/>
<rect x="444" y="304" width="8" height="8" fill-opacity="0.53"/>
<rect x="452" y="304" width="8" height="8" fill-opacity="0.53"/>
<rect x="460" y="304" width="8" height="8" fill-opacity="1.00"/>
<rect x="156" y="312" width="8" height="8" fill-opacity="0.57"/>
<rect x="188" y="312" width="8" height="8" fill-opacity="0.50"/>
<rect x="196" y="312" width="8" height="8" fill-opacity="0.27"/>
<rect x="204" y="312" width="8" height="8" fill-opacity="0.88"/>
<rect x="212" y="312" width="8" height="8" fill-opacity="0.60"/>
<rect x="220" y="312" width="8" height="8" fill-opacity="0.75"/>
<rect x="228" y="312" width="8" height="8" fill-opacity="0.26"/>
<rect x="236" y="312" width="8" height="8" fill-opacity="0.81"/>
<rect x="244" y="312" width="8" height="8" fill-opacity="1.00"/>
<rect x="252" y="312" width="8" height="8" fill-opacity="0.49"/>
<rect x="260" y="312" width="8" height="8" fill-opacity="0.49"/>
<rect x="268" y="312" width="8" height="8" fill-opacity="0.49"/>
<rect x="276" y="312" width="8" height="8" fill-opacity="0.49"/>
<rect x="284" y="312" width="8" height="8" fill-opacity="0.50"/>
<rect x="292" y="312" width="8" height="8" fill-opacity="0.51"/>
<rect x="300" y="312" width="8" height="8" fill-opacity="0.52"/>
<rect x="332" y="312" width="8" height="8" fill-opacity="0.56"/>
<rect x="340" y="312" width="8" height="8" fill-opacity="0.57"/>
<rect x="348" y="312" width="8" height="8" fill-opacity="0.57"/>
<rect x="356" y="312" width="8" height="8" fill-opacity="0.56"/>
<rect x="364" y="312" width="8" height="8" fill-opacity="0.55"/>
<rect x="372" y="312" width="8" height="8" fill-opacity="1.00"/>
<rect x="380" y="312" width="8" height="8" fill-opacity="1.00"/>
<rect x="388" y="312" width="8" height="8" fill-opacity="0.70"/>
<rect x="396" y="312" width="8" height="8" fill-opacity="0.42"/>
<rect x="428" y="312" width="8" height="8" fill-opacity="0.03"/>
<rect x="436" y="312" width="8" height="8" fill-opacity="0.26"/>
<rect x="444" y="312" width="8" height="8" fill-opacity="0.47"/>
<rect x="452" y="312" width="8" height="8" fill-opacity="0.68"/>
<rect x="460" y="312" width="8" height="8" fill-opacity="0.87"/>
<rect x="148" y="320" width="8" height="8" fill-opacity="0.02"/>
<rect x="156" y="320" width="8" height="8" fill-opacity="0.52"/>
<rect x="188" y="320" width="8" height="8" fill-opacity="0.63"/>
<rect x="196" y="320" width="8" height="8" fill-opacity="0.13"/>
<rect x="204" y="320" width="8" height="8" fill-opacity="0.83"/>
<rect x="212" y="320" width="8" height="8" fill-opacity="0.72"/>
<rect x="220" y="320" width="8" height="8" fill-opacity="0.93"/>
<rect x="228" y="320" width="8" height="8" fill-opacity="0.16"/>
<rect x="236" y="320" width="8" height="8" fill-opacity="1.00"/>
<rect x="244" y="320" width="8" height="8" fill-opacity="0.50"/>
<rect x="252" y="320" width="8" height="8" fill-opacity="0.50"/>
<rect x="260" y="320" width="8" height="8" fill-opacity="0.49"/>
<rect x="268" y="320" width="8" height="8" fill-opacity="0.50"/>
<rect x="276" y="320" width="8" height="8" fill-opacity="0.50"/>
<rect x="284" y="320" width="8" height="8" fill-opacity="0.51"/>
<rect x="292" y="320" width="8" height="8" fill-opacity="0.52"/>
<rect x="300" y="320" width="8" height="8" fill-opacity="0.53"/>
<rect x="308" y="320" width="8" height="8" fill-opacity="0.54"/>
<rect x="316" y="320" width="8" height="8" fill-opacity="0.56"/>
<rect x="324" y="320" width="8" height="8" fill-opacity="0.57"/>
<rect x="332" y="320" width="8" height="8" fill-opacity="0.58"/>
<rect x="340" y="320" width="8" height="8" fill-opacity="0.60"/>
<rect x="348" y="320" width="8" height="8" fill-opacity="0.60"/>
<rect x="356" y="320" width="8" height="8" fill-opacity="0.60"/>
<rect x="364" y="320" width="8" height="8" fill-opacity="0.59"/>
<rect x="372" y="320" width="8" height="8" fill-opacity="0.86"/>
<rect x="380" y="320" width="8" height="8" fill-opacity="1.00"/>
<rect x="388" y="320" width="8" height="8" fill-opacity="0.36"/>
<rect x="396" y="320" width="8" height="8" fill-opacity="0.11"/>
<rect x="428" y="320" width="8" height="8" fill-opacity="0.34"/>
<rect x="436" y="320" width="8" height="8" fill-opacity="0.19"/>
<rect x="444" y="320" width="8" height="8" fill-opacity="0.42"/>
<rect x="452" y="320" width="8" height="8" fill-opacity="0.70"/>
<rect x="460" y="320" width="8" height="8" fill-opacity="0.89"/>
<rect x="148" y="328" width="8" height="8" fill-opacity="0.25"/>
<rect x="156" y="328" width="8" height="8" fill-opacity="0.51"/>
<rect x="172" y="328" width="8" height="8" fill-opacity="0.03"/>
<rect x="188" y="328" width="8" height="8" fill-opacity="0.72"/>
<rect x="196" y="328" width="8" height="8" fill-opacity="0.17"/>
<rect x="204" y="328" width="8" height="8" fill-opacity="0.95"/>
<rect x="212" y="328" width="8" height="8" fill-opacity="0.77"/>
<rect x="220" y="328" width="8" height="8" fill-opacity="1.00"/>
<rect x="228" y="328" width="8" height="8" fill-opacity="0.17"/>
<rect x="236" y="328" width="8" height="8" fill-opacity="1.00"/>
<rect x="244" y="328" width="8" height="8" fill-opacity="0.51"/>
<rect x="252" y="328" width="8" height="8" fill-opacity="0.50"/>
<rect x="260" y="328" width="8" height="8" fill-opacity="0.50"/>
<rect x="268" y="328" width="8" height="8" fill-opacity="0.50"/>
<rect x="276" y="328" width="8" height="8" fill-opacity="0.51"/>
<rect x="284" y="328" width="8" height="8" fill-opacity="0.52"/>
<rect x="292" y="328" width="8" height="8" fill-opacity="0.53"/>
<rect x="300" y="328" width="8" height="8" fill-opacity="0.54"/>
<rect x="308" y="328" width="8" height="8" fill-opacity="0.55"/>
<rect x="316" y="328" width="8" height="8" fill-opacity="0.57"/>
<rect x="324" y="328" width="8" height="8" fill-opacity="0.59"/>
<rect x="340" y="328" width="8" height="8" fill-opacity="0.96"/>
<rect x="348" y="328" width="8" height="8" fill-opacity="1.00"/>
<rect x="356" y="328" width="8" height="8" fill-opacity="1.00"/>
<rect x="364" y="328" width="8" height="8" fill-opacity="0.82"/>
<rect x="372" y="328" width="8" height="8" fill-opacity="0.96"/>
<rect x="380" y="328" width="8" height="8" fill-opacity="0.84"/>
<rect x="428" y="328" width="8" height="8" fill-opacity="0.25"/>
<rect x="436" y="328" width="8" height="8" fill-opacity="0.03"/>
<rect x="444" y="328" width="8" height="8" fill-opacity="0.43"/>
<rect x="452" y="328" width="8" height="8" fill-opacity="0.80"/>
<rect x="460" y="328" width="8" height="8" fill-opacity="0.96"/>
<rect x="148" y="336" width="8" height="8" fill-opacity="0.37"/>
<rect x="156" y="336" width="8" height="8" fill-opacity="0.57"/>
<rect x="172" y="336" width="8" height="8" fill-opacity="0.08"/>
<rect x="188" y="336" width="8" height="8" fill-opacity="0.67"/>
<rect x="196" y="336" width="8" height="8" fill-opacity="0.21"/>
<rect x="204" y="336" width="8" height="8" fill-opacity="0.58"/>
<rect x="212" y="336" width="8" height="8" fill-opacity="0.42"/>
<rect x="220" y="336" width="8" height="8" fill-opacity="0.79"/>
<rect x="228" y="336" width="8" height="8" fill-opacity="0.55"/>
<rect x="236" y="336" width="8" height="8" fill-opacity="0.73"/>
<rect x="244" y="336" width="8" height="8" fill-opacity="0.51"/>
<rect x="252" y="336" width="8" height="8" fill-opacity="0.51"/>
<rect x="260" y="336" width="8" height="8" fill-opacity="0.51"/>
<rect x="268" y="336" width="8" height="8" fill-opacity="0.51"/>
<rect x="276" y="336" width="8" height="8" fill-opacity="0.51"/>
<rect x="284" y="336" width="8" height="8" fill-opacity="0.52"/>
<rect x="292" y="336" width="8" height="8" fill-opacity="0.53"/>
<rect x="300" y="336" width="8" height="8" fill-opacity="0.55"/>
<rect x="308" y="336" width="8" height="8" fill-opacity="0.57"/>
<rect x="316" y="336" width="8" height="8" fill-opacity="1.00"/>
<rect x="324" y="336" width="8" height="8" fill-opacity="1.00"/>
<rect x="332" y="336" width="8" height="8" fill-opacity="1.00"/>
<rect x="340" y="336" width="8" height="8" fill-opacity="1.00"/>
<rect x="348" y="336" width="8" height="8" fill-opacity="1.00"/>
<rect x="356" y="336" width="8" height="8" fill-opacity="1.00"/>
<rect x="364" y="336" width="8" height="8" fill-opacity="0.80"/>
<rect x="372" y="336" width="8" height="8" fill-opacity="1.00"/>
<rect x="380" y="336" width="8" height="8" fill-opacity="0.89"/>
<rect x="420" y="336" width="8" height="8" fill-opacity="0.09"/>
<rect x="428" y="336" width="8" height="8" fill-opacity="0.23"/>
<rect x="436" y="336" width="8" height="8" fill-opacity="0.13"/>
<rect x="444" y="336" width="8" height="8" fill-opacity="0.52"/>
<rect x="452" y="336" width="8" height="8" fill-opacity="1.00"/>
<rect x="460" y="336" width="8" height="8" fill-opacity="1.00"/>
<rect x="148" y="344" width="8" height="8" fill-opacity="0.60"/>
<rect x="156" y="344" width="8" height="8" fill-opacity="0.68"/>
<rect x="172" y="344" width="8" height="8" fill-opacity="0.16"/>
<rect x="188" y="344" width="8" height="8" fill-opacity="0.49"/>
<rect x="196" y="344" width="8" height="8" fill-opacity="0.58"/>
<rect x="204" y="344" width="8" height="8" fill-opacity="0.61"/>
<rect x="212" y="344" width="8" height="8" fill-opacity="0.53"/>
<rect x="220" y="344" width="8" height="8" fill-opacity="0.51"/>
<rect x="228" y="344" width="8" height="8" fill-opacity="0.79"/>
<rect x="236" y="344" width="8" height="8" fill-opacity="1.00"/>
<rect x="244" y="344" width="8" height="8" fill-opacity="0.51"/>
<rect x="252" y="344" width="8" height="8" fill-opacity="0.51"/>
<rect x="260" y="344" width="8" height="8" fill-opacity="0.51"/>
<rect x="268" y="344" width="8" height="8" fill-opacity="0.52"/>
<rect x="276" y="344" width="8" height="8" fill-opacity="0.52"/>
<rect x="284" y="344" width="8" height="8" fill-opacity="0.53"/>
<rect x="292" y="344" width="8" height="8" fill-opacity="0.54"/>
<rect x="300" y="344" width="8" height="8" fill-opacity="0.56"/>
<rect x="308" y="344" width="8" height="8" fill-opacity="0.58"/>
<rect x="316" y="344" width="8" height="8" fill-opacity="1.00"/>
<rect x="324" y="344" width="8" height="8" fill-opacity="1.00"/>
<rect x="332" y="344" width="8" height="8" fill-opacity="1.00"/>
<rect x="340" y="344" width="8" height="8" fill-opacity="1.00"/>
<rect x="348" y="344" width="8" height="8" fill-opacity="1.00"/>
<rect x="356" y="344" width="8" height="8" fill-opacity="1.00"/>
<rect x="364" y="344" width="8" height="8" fill-opacity="0.79"/>
<rect x="372" y="344" width="8" height="8" fill-opacity="1.00"/>
<rect x="380" y="344" width="8" height="8" fill-opacity="0.76"/>
<rect x="420" y="344" width="8" height="8" fill-opacity="0.01"/>
<rect x="428" y="344" width="8" height="8" fill-opacity="0.31"/>
<rect x="436" y="344" width="8" height="8" fill-opacity="0.08"/>
<rect x="444" y="344" width="8" height="8" fill-opacity="0.67"/>
<rect x="452" y="344" width="8" height="8" fill-opacity="1.00"/>
<rect x="460" y="344" width="8" height="8" fill-opacity="1.00"/>
<rect x="148" y="352" width="8" height="8" fill-opacity="0.79"/>
<rect x="156" y="352" width="8" height="8" fill-opacity="0.78"/>
<rect x="164" y="352" width="8" height="8" fill-opacity="0.33"/>
<rect x="172" y="352" width="8" height="8" fill-opacity="0.22"/>
<rect x="180" y="352" width="8" height="8" fill-opacity="0.07"/>
<rect x="188" y="352" width="8" height="8" fill-opacity="0.25"/>
<rect x="196" y="352" width="8" height="8" fill-opacity="0.69"/>
<rect x="204" y="352" width="8" height="8" fill-opacity="0.44"/>
<rect x="212" y="352" width="8" height="8" fill-opacity="0.62"/>
<rect x="220" y="352" width="8" height="8" fill-opacity="0.35"/>
<rect x="228" y="352" width="8" height="8" fill-opacity="0.67"/>
<rect x="236" y="352" width="8" height="8" fill-opacity="0.96"/>
<rect x="244" y="352" width="8" height="8" fill-opacity="0.51"/>
<rect x="252" y="352" width="8" height="8" fill-opacity="0.52"/>
<rect x="260" y="352" width="8" height="8" fill-opacity="0.52"/>
<rect x="268" y="352" width="8" height="8" fill-opacity="0.52"/>
<rect x="276" y="352" width="8" height="8" fill-opacity="0.53"/>
<rect x="284" y="352" width="8" height="8" fill-opacity="1.00"/>
<rect x="292" y="352" width="8" height="8" fill-opacity="1.00"/>
<rect x="300" y="352" width="8" height="8" fill-opacity="1.00"/>
<rect x="308" y="352" width="8" height="8" fill-opacity="1.00"/>
<rect x="316" y="352" width="8" height="8" fill-opacity="1.00"/>
<rect x="324" y="352" width="8" height="8" fill-opacity="1.00"/>
<rect x="332" y="352" width="8" height="8" fill-opacity="1.00"/>
<rect x="340" y="352" width="8" height="8" fill-opacity="0.69"/>
<rect x="348" y="352" width="8" height="8" fill-opacity="0.80"/>
<rect x="356" y="352" width="8" height="8" fill-opacity="0.47"/>
<rect x="364" y="352" width="8" height="8" fill-opacity="0.84"/>
<rect x="372" y="352" width="8" height="8" fill-opacity="0.92"/>
<rect x="380" y="352" width="8" height="8" fill-opacity="0.64"/>
<rect x="388" y="352" width="8" height="8" fill-opacity="0.38"/>
<rect x="396" y="352" width="8" height="8" fill-opacity="0.12"/>
<rect x="412" y="352" width="8" height="8" fill-opacity="0.36"/>
<rect x="420" y="352" width="8" height="8" fill-opacity="0.30"/>
<rect x="428" y="352" width="8" height="8" fill-opacity="0.43"/>
<rect x="436" y="352" width="8" height="8" fill-opacity="0.13"/>
<rect x="444" y="352" width="8" height="8" fill-opacity="1.00"/>
<rect x="452" y="352" width="8" height="8" fill-opacity="1.00"/>
<rect x="460" y="352" width="8" height="8" fill-opacity="0.41"/>
<rect x="148" y="360" width="8" height="8" fill-opacity="1.00"/>
<rect x="156" y="360" width="8" height="8" fill-opacity="0.90"/>
<rect x="164" y="360" width="8" height="8" fill-opacity="0.55"/>
<rect x="172" y="360" width="8" height="8" fill-opacity="0.13"/>
<rect x="180" y="360" width="8" height="8" fill-opacity="0.24"/>
<rect x="196" y="360" width="8" height="8" fill-opacity="0.47"/>
<rect x="204" y="360" width="8" height="8" fill-opacity="0.24"/>
<rect x="212" y="360" width="8" height="8" fill-opacity="0.52"/>
<rect x="220" y="360" width="8" height="8" fill-opacity="0.42"/>
<rect x="228" y="360" width="8" height="8" fill-opacity="0.51"/>
<rect x="236" y="360" width="8" height="8" fill-opacity="0.94"/>
<rect x="244" y="360" width="8" height="8" fill-opacity="0.53"/>
<rect x="252" y="360" width="8" height="8" fill-opacity="0.53"/>
<rect x="260" y="360" width="8" height="8" fill-opacity="0.53"/>
<rect x="268" y="360" width="8" height="8" fill-opacity="0.54"/>
<rect x="276" y="360" width="8" height="8" fill-opacity="0.54"/>
<rect x="284" y="360" width="8" height="8" fill-opacity="1.00"/>
<rect x="292" y="360" width="8" height="8" fill-opacity="1.00"/>
<rect x="300" y="360" width="8" height="8" fill-opacity="1.00"/>
<rect x="308" y="360" width="8" height="8" fill-opacity="1.00"/>
<rect x="316" y="360" width="8" height="8" fill-opacity="1.00"/>
<rect x="324" y="360" width="8" height="8" fill-opacity="1.00"/>
<rect x="332" y="360" width="8" height="8" fill-opacity="1.00"/>
<rect x="340" y="360" width="8" height="8" fill-opacity="1.00"/>
<rect x="348" y="360" width="8" height="8" fill-opacity="0.94"/>
<rect x="356" y="360" width="8" height="8" fill-opacity="1.00"/>
<rect x="364" y="360" width="8" height="8" fill-opacity="1.00"/>
<rect x="372" y="360" width="8" height="8" fill-opacity="1.00"/>
<rect x="380" y="360" width="8" height="8" fill-opacity="1.00"/>
<rect x="388" y="360" width="8" height="8" fill-opacity="1.00"/>
<rect x="396" y="360" width="8" height="8" fill-opacity="0.81"/>
<rect x="404" y="360" width="8" height="8" fill-opacity="0.43"/>
<rect x="412" y="360" width="8" height="8" fill-opacity="0.41"/>
<rect x="420" y="360" width="8" height="8" fill-opacity="0.45"/>
<rect x="428" y="360" width="8" height="8" fill-opacity="0.85"/>
<rect x="436" y="360" width="8" height="8" fill-opacity="0.56"/>
<rect x="444" y="360" width="8" height="8" fill-opacity="1.00"/>
<rect x="452" y="360" width="8" height="8" fill-opacity="1.00"/>
<rect x="460" y="360" width="8" height="8" fill-opacity="0.44"/>
<rect x="148" y="368" width="8" height="8" fill-opacity="0.99"/>
<rect x="156" y="368" width="8" height="8" fill-opacity="0.99"/>
<rect x="164" y="368" width="8" height="8" fill-opacity="0.74"/>
<rect x="172" y="368" width="8" height="8" fill-opacity="0.24"/>
<rect x="180" y="368" width="8" height="8" fill-opacity="0.18"/>
<rect x="188" y="368" width="8" height="8" fill-opacity="0.12"/>
<rect x="196" y="368" width="8" height="8" fill-opacity="0.21"/>
<rect x="204" y="368" width="8" height="8" fill-opacity="0.40"/>
<rect x="212" y="368" width="8" height="8" fill-opacity="0.41"/>
<rect x="220" y="368" width="8" height="8" fill-opacity="0.73"/>
<rect x="228" y="368" width="8" height="8" fill-opacity="0.45"/>
<rect x="236" y="368" width="8" height="8" fill-opacity="0.80"/>
<rect x="244" y="368" width="8" height="8" fill-opacity="0.55"/>
<rect x="252" y="368" width="8" height="8" fill-opacity="0.55"/>
<rect x="260" y="368" width="8" height="8" fill-opacity="0.55"/>
<rect x="268" y="368" width="8" height="8" fill-opacity="0.55"/>
<rect x="276" y="368" width="8" height="8" fill-opacity="1.00"/>
<rect x="284" y="368" width="8" height="8" fill-opacity="1.00"/>
<rect x="292" y="368" width="8" height="8" fill-opacity="1.00"/>
<rect x="300" y="368" width="8" height="8" fill-opacity="1.00"/>
<rect x="308" y="368" width="8" height="8" fill-opacity="1.00"/>
<rect x="316" y="368" width="8" height="8" fill-opacity="1.00"/>
<rect x="324" y="368" width="8" height="8" fill-opacity="1.00"/>
<rect x="332" y="368" width="8" height="8" fill-opacity="1.00"/>
<rect x="340" y="368" width="8" height="8" fill-opacity="1.00"/>
<rect x="348" y="368" width="8" height="8" fill-opacity="0.50"/>
<rect x="356" y="368" width="8" height="8" fill-opacity="1.00"/>
<rect x="364" y="368" width="8" height="8" fill-opacity="1.00"/>
<rect x="372" y="368" width="8" height="8" fill-opacity="1.00"/>
<rect x="380" y="368" width="8" height="8" fill-opacity="1.00"/>
<rect x="388" y="368" width="8" height="8" fill-opacity="0.54"/>
<rect x="396" y="368" width="8" height="8" fill-opacity="0.14"/>
<rect x="404" y="368" width="8" height="8" fill-opacity="0.14"/>
<rect x="420" y="368" width="8" height="8" fill-opacity="0.35"/>
<rect x="428" y="368" width="8" height="8" fill-opacity="0.70"/>
<rect x="436" y="368" width="8" height="8" fill-opacity="0.55"/>
<rect x="444" y="368" width="8" height="8" fill-opacity="1.00"/>
<rect x="452" y="368" width="8" height="8" fill-opacity="1.00"/>
<rect x="460" y="368" width="8" height="8" fill-opacity="0.46"/>
<rect x="148" y="376" width="8" height="8" fill-opacity="0.37"/>
<rect x="156" y="376" width="8" height="8" fill-opacity="1.00"/>
<rect x="164" y="376" width="8" height="8" fill-opacity="0.57"/>
<rect x="172" y="376" width="8" height="8" fill-opacity="0.07"/>
<rect x="188" y="376" width="8" height="8" fill-opacity="0.19"/>
<rect x="196" y="376" width="8" height="8" fill-opacity="0.25"/>
<rect x="204" y="376" width="8" height="8" fill-opacity="0.28"/>
<rect x="212" y="376" width="8" height="8" fill-opacity="0.30"/>
<rect x="220" y="376" width="8" height="8" fill-opacity="0.76"/>
<rect x="228" y="376" width="8" height="8" fill-opacity="0.74"/>
<rect x="236" y="376" width="8" height="8" fill-opacity="0.89"/>
<rect x="244" y="376" width="8" height="8" fill-opacity="0.57"/>
<rect x="252" y="376" width="8" height="8" fill-opacity="0.57"/>
<rect x="260" y="376" width="8" height="8" fill-opacity="0.57"/>
<rect x="268" y="376" width="8" height="8" fill-opacity="0.57"/>
<rect x="276" y="376" width="8" height="8" fill-opacity="1.00"/>
<rect x="284" y="376" width="8" height="8" fill-opacity="1.00"/>
<rect x="292" y="376" width="8" height="8" fill-opacity="1.00"/>
<rect x="300" y="376" width="8" height="8" fill-opacity="1.00"/>
<rect x="308" y="376" width="8" height="8" fill-opacity="1.00"/>
<rect x="316" y="376" width="8" height="8" fill-opacity="1.00"/>
<rect x="324" y="376" width="8" height="8" fill-opacity="1.00"/>
<rect x="332" y="376" width="8" height="8" fill-opacity="1.00"/>
<rect x="340" y="376" width="8" height="8" fill-opacity="1.00"/>
<rect x="348" y="376" width="8" height="8" fill-opacity="0.73"/>
<rect x="356" y="376" width="8" height="8" fill-opacity="1.00"/>
<rect x="364" y="376" width="8" height="8" fill-opacity="1.00"/>
<rect x="372" y="376" width="8" height="8" fill-opacity="1.00"/>
<rect x="380" y="376" width="8" height="8" fill-opacity="1.00"/>
<rect x="388" y="376" width="8" height="8" fill-opacity="1.00"/>
<rect x="396" y="376" width="8" height="8" fill-opacity="1.00"/>
<rect x="404" y="376" width="8" height="8" fill-opacity="1.00"/>
<rect x="412" y="376" width="8" height="8" fill-opacity="1.00"/>
<rect x="420" y="376" width="8" height="8" fill-opacity="0.67"/>
<rect x="428" y="376" width="8" height="8" fill-opacity="0.72"/>
<rect x="436" y="376" width="8" height="8" fill-opacity="0.53"/>
<rect x="444" y="376" width="8" height="8" fill-opacity="1.00"/>
<rect x="452" y="376" width="8" height="8" fill-opacity="1.00"/>
<rect x="460" y="376" width="8" height="8" fill-opacity="0.49"/>
<rect x="148" y="384" width="8" height="8" fill-opacity="0.36"/>
<rect x="156" y="384" width="8" height="8" fill-opacity="1.00"/>
<rect x="164" y="384" width="8" height="8" fill-opacity="0.89"/>
<rect x="172" y="384" width="8" height="8" fill-opacity="0.22"/>
<rect x="188" y="384" width="8" height="8" fill-opacity="0.44"/>
<rect x="196" y="384" width="8" height="8" fill-opacity="0.46"/>
<rect x="204" y="384" width="8" height="8" fill-opacity="0.07"/>
<rect x="212" y="384" width="8" height="8" fill-opacity="0.05"/>
<rect x="220" y="384" width="8" height="8" fill-opacity="0.63"/>
<rect x="228" y="384" width="8" height="8" fill-opacity="0.72"/>
<rect x="236" y="384" width="8" height="8" fill-opacity="0.91"/>
<rect x="244" y="384" width="8" height="8" fill-opacity="1.00"/>
<rect x="252" y="384" width="8" height="8" fill-opacity="1.00"/>
<rect x="260" y="384" width="8" height="8" fill-opacity="0.59"/>
<rect x="268" y="384" width="8" height="8" fill-opacity="0.59"/>
<rect x="276" y="384" width="8" height="8" fill-opacity="1.00"/>
<rect x="284" y="384" width="8" height="8" fill-opacity="1.00"/>
<rect x="292" y="384" width="8" height="8" fill-opacity="1.00"/>
<rect x="300" y="384" width="8" height="8" fill-opacity="1.00"/>
<rect x="308" y="384" width="8" height="8" fill-opacity="1.00"/>
<rect x="316" y="384" width="8" height="8" fill-opacity="1.00"/>
<rect x="324" y="384" width="8" height="8" fill-opacity="1.00"/>
<rect x="332" y="384" width="8" height="8" fill-opacity="1.00"/>
<rect x="340" y="384" width="8" height="8" fill-opacity="1.00"/>
<rect x="348" y="384" width="8" height="8" fill-opacity="0.45"/>
<rect x="356" y="384" width="8" height="8" fill-opacity="1.00"/>
<rect x="364" y="384" width="8" height="8" fill-opacity="1.00"/>
<rect x="372" y="384" width="8" height="8" fill-opacity="1.00"/>
<rect x="380" y="384" width="8" height="8" fill-opacity="1.00"/>
<rect x="388" y="384" width="8" height="8" fill-opacity="0.60"/>
<rect x="396" y="384" width="8" height="8" fill-opacity="0.62"/>
<rect x="404" y="384" width="8" height="8" fill-opacity="0.84"/>
<rect x="412" y="384" width="8" height="8" fill-opacity="0.66"/>
<rect x="420" y="384" width="8" height="8" fill-opacity="0.28"/>
<rect x="428" y="384" width="8" height="8" fill-opacity="0.49"/>
<rect x="436" y="384" width="8" height="8" fill-opacity="0.61"/>
<rect x="444" y="384" width="8" height="8" fill-opacity="1.00"/>
<rect x="452" y="384" width="8" height="8" fill-opacity="0.51"/>
<rect x="460" y="384" width="8" height="8" fill-opacity="0.51"/>
<rect x="148" y="392" width="8" height="8" fill-opacity="0.37"/>
<rect x="156" y="392" width="8" height="8" fill-opacity="0.35"/>
<rect x="164" y="392" width="8" height="8" fill-opacity="1.00"/>
<rect x="172" y="392" width="8" height="8" fill-opacity="0.19"/>
<rect x="188" y="392" width="8" height="8" fill-opacity="0.28"/>
<rect x="196" y="392" width="8" height="8" fill-opacity="0.53"/>
<rect x="212" y="392" width="8" height="8" fill-opacity="0.50"/>
<rect x="220" y="392" width="8" height="8" fill-opacity="0.59"/>
<rect x="228" y="392" width="8" height="8" fill-opacity="0.45"/>
<rect x="236" y="392" width="8" height="8" fill-opacity="0.41"/>
<rect x="244" y="392" width="8" height="8" fill-opacity="1.00"/>
<rect x="252" y="392" width="8" height="8" fill-opacity="1.00"/>
<rect x="260" y="392" width="8" height="8" fill-opacity="0.80"/>
<rect x="268" y="392" width="8" height="8" fill-opacity="0.87"/>
<rect x="276" y="392" width="8" height="8" fill-opacity="1.00"/>
<rect x="284" y="392" width="8" height="8" fill-opacity="1.00"/>
<rect x="292" y="392" width="8" height="8" fill-opacity="1.00"/>
<rect x="300" y="392" width="8" height="8" fill-opacity="1.00"/>
<rect x="308" y="392" width="8" height="8" fill-opacity="1.00"/>
<rect x="316" y="392" width="8" height="8" fill-opacity="1.00"/>
<rect x="324" y="392" width="8" height="8" fill-opacity="1.00"/>
<rect x="332" y="392" width="8" height="8" fill-opacity="1.00"/>
<rect x="340" y="392" width="8" height="8" fill-opacity="1.00"/>
<rect x="348" y="392" width="8" height="8" fill-opacity="1.00"/>
<rect x="356" y="392" width="8" height="8" fill-opacity="1.00"/>
<rect x="364" y="392" width="8" height="8" fill-opacity="1.00"/>
<rect x="372" y="392" width="8" height="8" fill-opacity="1.00"/>
<rect x="380" y="392" width="8" height="8" fill-opacity="1.00"/>
<rect x="388" y="392" width="8" height="8" fill-opacity="1.00"/>
<rect x="396" y="392" width="8" height="8" fill-opacity="1.00"/>
<rect x="404" y="392" width="8" height="8" fill-opacity="1.00"/>
<rect x="412" y="392" width="8" height="8" fill-opacity="0.84"/>
<rect x="420" y="392" width="8" height="8" fill-opacity="0.58"/>
<rect x="428" y="392" width="8" height="8" fill-opacity="0.52"/>
<rect x="436" y="392" width="8" height="8" fill-opacity="1.00"/>
<rect x="444" y="392" width="8" height="8" fill-opacity="1.00"/>
<rect x="452" y="392" width="8" height="8" fill-opacity="0.53"/>
<rect x="460" y="392" width="8" height="8" fill-opacity="0.52"/>
<rect x="148" y="400" width="8" height="8" fill-opacity="0.37"/>
<rect x="156" y="400" width="8" height="8" fill-opacity="0.36"/>
<rect x="164" y="400" width="8" height="8" fill-opacity="1.00"/>
<rect x="172" y="400" width="8" height="8" fill-opacity="0.38"/>
<rect x="196" y="400" width="8" height="8" fill-opacity="0.26"/>
<rect x="204" y="400" width="8" height="8" fill-opacity="0.52"/>
<rect x="212" y="400" width="8" height="8" fill-opacity="1.00"/>
<rect x="220" y="400" width="8" height="8" fill-opacity="1.00"/>
<rect x="228" y="400" width="8" height="8" fill-opacity="0.45"/>
<rect x="236" y="400" width="8" height="8" fill-opacity="0.05"/>
<rect x="244" y="400" width="8" height="8" fill-opacity="0.67"/>
<rect x="252" y="400" width="8" height="8" fill-opacity="0.80"/>
<rect x="260" y="400" width="8" height="8" fill-opacity="0.94"/>
<rect x="268" y="400" width="8" height="8" fill-opacity="1.00"/>
<rect x="276" y="400" width="8" height="8" fill-opacity="1.00"/>
<rect x="284" y="400" width="8" height="8" fill-opacity="1.00"/>
<rect x="292" y="400" width="8" height="8" fill-opacity="1.00"/>
<rect x="300" y="400" width="8" height="8" fill-opacity="1.00"/>
<rect x="308" y="400" width="8" height="8" fill-opacity="1.00"/>
<rect x="316" y="400" width="8" height="8" fill-opacity="1.00"/>
<rect x="324" y="400" width="8" height="8" fill-opacity="1.00"/>
<rect x="332" y="400" width="8" height="8" fill-opacity="1.00"/>
<rect x="340" y="400" width="8" height="8" fill-opacity="0.69"/>
<rect x="348" y="400" width="8" height="8" fill-opacity="1.00"/>
<rect x="356" y="400" width="8" height="8" fill-opacity="0.67"/>
<rect x="364" y="400" width="8" height="8" fill-opacity="0.69"/>
<rect x="372" y="400" width="8" height="8" fill-opacity="0.36"/>
<rect x="380" y="400" width="8" height="8" fill-opacity="0.41"/>
<rect x="388" y="400" width="8" height="8" fill-opacity="0.43"/>
<rect x="396" y="400" width="8" height="8" fill-opacity="0.92"/>
<rect x="404" y="400" width="8" height="8" fill-opacity="0.62"/>
<rect x="412" y="400" width="8" height="8" fill-opacity="0.25"/>
<rect x="420" y="400" width="8" height="8" fill-opacity="0.65"/>
<rect x="428" y="400" width="8" height="8" fill-opacity="0.94"/>
<rect x="436" y="400" width="8" height="8" fill-opacity="1.00"/>
<rect x="444" y="400" width="8" height="8" fill-opacity="1.00"/>
<rect x="452" y="400" width="8" height="8" fill-opacity="0.55"/>
<rect x="460" y="400" width="8" height="8" fill-opacity="0.54"/>
<rect x="148" y="408" width="8" height="8" fill-opacity="0.39"/>
<rect x="156" y="408" width="8" height="8" fill-opacity="0.38"/>
<rect x="164" y="408" width="8" height="8" fill-opacity="0.38"/>
<rect x="172" y="408" width="8" height="8" fill-opacity="0.66"/>
<rect x="220" y="408" width="8" height="8" fill-opacity="0.85"/>
<rect x="228" y="408" width="8" height="8" fill-opacity="0.52"/>
<rect x="236" y="408" width="8" height="8" fill-opacity="0.04"/>
<rect x="244" y="408" width="8" height="8" fill-opacity="0.47"/>
<rect x="252" y="408" width="8" height="8" fill-opacity="0.67"/>
<rect x="260" y="408" width="8" height="8" fill-opacity="0.73"/>
<rect x="268" y="408" width="8" height="8" fill-opacity="0.61"/>
<rect x="276" y="408" width="8" height="8" fill-opacity="1.00"/>
<rect x="284" y="408" width="8" height="8" fill-opacity="1.00"/>
<rect x="292" y="408" width="8" height="8" fill-opacity="1.00"/>
<rect x="300" y="408" width="8" height="8" fill-opacity="1.00"/>
<rect x="308" y="408" width="8" height="8" fill-opacity="1.00"/>
<rect x="316" y="408" width="8" height="8" fill-opacity="1.00"/>
<rect x="324" y="408" width="8" height="8" fill-opacity="1.00"/>
<rect x="332" y="408" width="8" height="8" fill-opacity="1.00"/>
<rect x="340" y="408" width="8" height="8" fill-opacity="0.68"/>
<rect x="348" y="408" width="8" height="8" fill-opacity="1.00"/>
<rect x="356" y="408" width="8" height="8" fill-opacity="1.00"/>
<rect x="364" y="408" width="8" height="8" fill-opacity="1.00"/>
<rect x="372" y="408" width="8" height="8" fill-opacity="0.86"/>
<rect x="380" y="408" width="8" height="8" fill-opacity="0.85"/>
<rect x="388" y="408" width="8" height="8" fill-opacity="0.84"/>
<rect x="396" y="408" width="8" height="8" fill-opacity="1.00"/>
<rect x="404" y="408" width="8" height="8" fill-opacity="0.34"/>
<rect x="412" y="408" width="8" height="8" fill-opacity="0.53"/>
<rect x="420" y="408" width="8" height="8" fill-opacity="1.00"/>
<rect x="428" y="408" width="8" height="8" fill-opacity="1.00"/>
<rect x="436" y="408" width="8" height="8" fill-opacity="1.00"/>
<rect x="444" y="408" width="8" height="8" fill-opacity="0.57"/>
<rect x="452" y="408" width="8" height="8" fill-opacity="0.56"/>
<rect x="460" y="408" width="8" height="8" fill-opacity="0.55"/>
<rect x="148" y="416" width="8" height="8" fill-opacity="0.40"/>
<rect x="156" y="416" width="8" height="8" fill-opacity="0.39"/>
<rect x="164" y="416" width="8" height="8" fill-opacity="0.40"/>
<rect x="172" y="416" width="8" height="8" fill-opacity="1.00"/>
<rect x="236" y="416" width="8" height="8" fill-opacity="0.61"/>
<rect x="244" y="416" width="8" height="8" fill-opacity="1.00"/>
<rect x="252" y="416" width="8" height="8" fill-opacity="0.72"/>
<rect x="260" y="416" width="8" height="8" fill-opacity="0.94"/>
<rect x="268" y="416" width="8" height="8" fill-opacity="0.69"/>
<rect x="276" y="416" width="8" height="8" fill-opacity="0.78"/>
<rect x="284" y="416" width="8" height="8" fill-opacity="0.59"/>
<rect x="292" y="416" width="8" height="8" fill-opacity="0.58"/>
<rect x="300" y="416" width="8" height="8" fill-opacity="0.58"/>
<rect x="308" y="416" width="8" height="8" fill-opacity="1.00"/>
<rect x="316" y="416" width="8" height="8" fill-opacity="1.00"/>
<rect x="324" y="416" width="8" height="8" fill-opacity="0.62"/>
<rect x="332" y="416" width="8" height="8" fill-opacity="0.64"/>
<rect x="340" y="416" width="8" height="8" fill-opacity="0.66"/>
<rect x="348" y="416" width="8" height="8" fill-opacity="0.68"/>
<rect x="356" y="416" width="8" height="8" fill-opacity="0.95"/>
<rect x="364" y="416" width="8" height="8" fill-opacity="0.69"/>
<rect x="372" y="416" width="8" height="8" fill-opacity="0.66"/>
<rect x="380" y="416" width="8" height="8" fill-opacity="0.71"/>
<rect x="388" y="416" width="8" height="8" fill-opacity="0.94"/>
<rect x="396" y="416" width="8" height="8" fill-opacity="0.93"/>
<rect x="404" y="416" width="8" height="8" fill-opacity="0.65"/>
<rect x="412" y="416" width="8" height="8" fill-opacity="1.00"/>
<rect x="420" y="416" width="8" height="8" fill-opacity="1.00"/>
<rect x="428" y="416" width="8" height="8" fill-opacity="1.00"/>
<rect x="436" y="416" width="8" height="8" fill-opacity="0.59"/>
<rect x="444" y="416" width="8" height="8" fill-opacity="0.58"/>
<rect x="452" y="416" width="8" height="8" fill-opacity="0.57"/>
<rect x="460" y="416" width="8" height="8" fill-opacity="0.56"/>
<rect x="148" y="424" width="8" height="8" fill-opacity="0.41"/>
<rect x="156" y="424" width="8" height="8" fill-opacity="0.41"/>
<rect x="164" y="424" width="8" height="8" fill-opacity="0.41"/>
<rect x="172" y="424" width="8" height="8" fill-opacity="0.41"/>
<rect x="180" y="424" width="8" height="8" fill-opacity="0.40"/>
<rect x="188" y="424" width="8" height="8" fill-opacity="0.81"/>
<rect x="244" y="424" width="8" height="8" fill-opacity="0.28"/>
<rect x="252" y="424" width="8" height="8" fill-opacity="0.61"/>
<rect x="260" y="424" width="8" height="8" fill-opacity="0.74"/>
<rect x="268" y="424" width="8" height="8" fill-opacity="0.95"/>
<rect x="276" y="424" width="8" height="8" fill-opacity="1.00"/>
<rect x="284" y="424" width="8" height="8" fill-opacity="1.00"/>
<rect x="292" y="424" width="8" height="8" fill-opacity="0.56"/>
<rect x="300" y="424" width="8" height="8" fill-opacity="0.57"/>
<rect x="308" y="424" width="8" height="8" fill-opacity="0.58"/>
<rect x="316" y="424" width="8" height="8" fill-opacity="0.59"/>
<rect x="324" y="424" width="8" height="8" fill-opacity="0.61"/>
<rect x="332" y="424" width="8" height="8" fill-opacity="0.63"/>
<rect x="340" y="424" width="8" height="8" fill-opacity="0.65"/>
<rect x="348" y="424" width="8" height="8" fill-opacity="0.66"/>
<rect x="356" y="424" width="8" height="8" fill-opacity="0.70"/>
<rect x="364" y="424" width="8" height="8" fill-opacity="0.93"/>
<rect x="372" y="424" width="8" height="8" fill-opacity="0.86"/>
<rect x="380" y="424" width="8" height="8" fill-opacity="0.91"/>
<rect x="388" y="424" width="8" height="8" fill-opacity="0.95"/>
<rect x="396" y="424" width="8" height="8" fill-opacity="0.96"/>
<rect x="404" y="424" width="8" height="8" fill-opacity="1.00"/>
<rect x="412" y="424" width="8" height="8" fill-opacity="1.00"/>
<rect x="420" y="424" width="8" height="8" fill-opacity="1.00"/>
<rect x="428" y="424" width="8" height="8" fill-opacity="0.59"/>
<rect x="436" y="424" width="8" height="8" fill-opacity="0.59"/>
<rect x="444" y="424" width="8" height="8" fill-opacity="0.58"/>
<rect x="452" y="424" width="8" height="8" fill-opacity="0.58"/>
<rect x="460" y="424" width="8" height="8" fill-opacity="0.57"/>
<rect x="148" y="432" width="8" height="8" fill-opacity="0.41"/>
<rect x="156" y="432" width="8" height="8" fill-opacity="0.41"/>
<rect x="164" y="432" width="8" height="8" fill-opacity="0.41"/>
<rect x="172" y="432" width="8" height="8" fill-opacity="0.41"/>
<rect x="180" y="432" width="8" height="8" fill-opacity="0.40"/>
<rect x="188" y="432" width="8" height="8" fill-opacity="0.38"/>
<rect x="196" y="432" width="8" height="8" fill-opacity="1.00"/>
<rect x="276" y="432" width="8" height="8" fill-opacity="0.47"/>
<rect x="284" y="432" width="8" height="8" fill-opacity="1.00"/>
<rect x="292" y="432" width="8" height="8" fill-opacity="0.55"/>
<rect x="300" y="432" width="8" height="8" fill-opacity="0.55"/>
<rect x="308" y="432" width="8" height="8" fill-opacity="0.57"/>
<rect x="316" y="432" width="8" height="8" fill-opacity="0.58"/>
<rect x="324" y="432" width="8" height="8" fill-opacity="0.60"/>
<rect x="332" y="432" width="8" height="8" fill-opacity="0.62"/>
<rect x="340" y="432" width="8" height="8" fill-opacity="0.63"/>
<rect x="348" y="432" width="8" height="8" fill-opacity="0.65"/>
<rect x="356" y="432" width="8" height="8" fill-opacity="0.66"/>
<rect x="364" y="432" width="8" height="8" fill-opacity="0.80"/>
<rect x="372" y="432" width="8" height="8" fill-opacity="1.00"/>
<rect x="380" y="432" width="8" height="8" fill-opacity="1.00"/>
<rect x="388" y="432" width="8" height="8" fill-opacity="1.00"/>
<rect x="396" y="432" width="8" height="8" fill-opacity="1.00"/>
<rect x="404" y="432" width="8" height="8" fill-opacity="1.00"/>
<rect x="412" y="432" width="8" height="8" fill-opacity="1.00"/>
<rect x="420" y="432" width="8" height="8" fill-opacity="0.59"/>
<rect x="428" y="432" width="8" height="8" fill-opacity="0.59"/>
<rect x="436" y="432" width="8" height="8" fill-opacity="0.59"/>
<rect x="444" y="432" width="8" height="8" fill-opacity="0.59"/>
<rect x="452" y="432" width="8" height="8" fill-opacity="0.58"/>
<rect x="460" y="432" width="8" height="8" fill-opacity="0.57"/>
<rect x="148" y="440" width="8" height="8" fill-opacity="0.42"/>
<rect x="156" y="440" width="8" height="8" fill-opacity="0.42"/>
<rect x="164" y="440" width="8" height="8" fill-opacity="0.42"/>
<rect x="172" y="440" width="8" height="8" fill-opacity="0.41"/>
<rect x="180" y="440" width="8" height="8" fill-opacity="0.40"/>
<rect x="188" y="440" width="8" height="8" fill-opacity="0.38"/>
<rect x="196" y="440" width="8" height="8" fill-opacity="0.36"/>
<rect x="204" y="440" width="8" height="8" fill-opacity="0.35"/>
<rect x="212" y="440" width="8" height="8" fill-opacity="0.72"/>
<rect x="276" y="440" width="8" height="8" fill-opacity="0.79"/>
<rect x="284" y="440" width="8" height="8" fill-opacity="1.00"/>
<rect x="292" y="440" width="8" height="8" fill-opacity="0.53"/>
<rect x="300" y="440" width="8" height="8" fill-opacity="0.54"/>
<rect x="308" y="440" width="8" height="8" fill-opacity="0.56"/>
<rect x="316" y="440" width="8" height="8" fill-opacity="0.57"/>
<rect x="324" y="440" width="8" height="8" fill-opacity="0.59"/>
<rect x="332" y="440" width="8" height="8" fill-opacity="0.61"/>
<rect x="340" y="440" width="8" height="8" fill-opacity="0.62"/>
<rect x="348" y="440" width="8" height="8" fill-opacity="0.63"/>
<rect x="356" y="440" width="8" height="8" fill-opacity="0.64"/>
<rect x="364" y="440" width="8" height="8" fill-opacity="0.65"/>
<rect x="372" y="440" width="8" height="8" fill-opacity="0.65"/>
<rect x="380" y="440" width="8" height="8" fill-opacity="1.00"/>
<rect x="388" y="440" width="8" height="8" fill-opacity="1.00"/>
<rect x="396" y="440" width="8" height="8" fill-opacity="1.00"/>
<rect x="404" y="440" width="8" height="8" fill-opacity="0.61"/>
<rect x="412" y="440" width="8" height="8" fill-opacity="0.60"/>
<rect x="420" y="440" width="8" height="8" fill-opacity="0.60"/>
<rect x="428" y="440" width="8" height="8" fill-opacity="0.60"/>
<rect x="436" y="440" width="8" height="8" fill-opacity="0.59"/>
<rect x="444" y="440" width="8" height="8" fill-opacity="0.59"/>
<rect x="452" y="440" width="8" height="8" fill-opacity="0.58"/>
<rect x="460" y="440" width="8" height="8" fill-opacity="0.57"/>
<rect x="148" y="448" width="8" height="8" fill-opacity="0.42"/>
<rect x="156" y="448" width="8" height="8" fill-opacity="0.42"/>
<rect x="164" y="448" width="8" height="8" fill-opacity="0.42"/>
<rect x="172" y="448" width="8" height="8" fill-opacity="0.41"/>
<rect x="180" y="448" width="8" height="8" fill-opacity="0.41"/>
<rect x="188" y="448" width="8" height="8" fill-opacity="0.39"/>
<rect x="196" y="448" width="8" height="8" fill-opacity="0.38"/>
<rect x="204" y="448" width="8" height="8" fill-opacity="0.38"/>
<rect x="212" y="448" width="8" height="8" fill-opacity="0.38"/>
<rect x="220" y="448" width="8" height="8" fill-opacity="0.39"/>
<rect x="276" y="448" width="8" height="8" fill-opacity="0.26"/>
<rect x="284" y="448" width="8" height="8" fill-opacity="0.96"/>
<rect x="292" y="448" width="8" height="8" fill-opacity="0.51"/>
<rect x="300" y="448" width="8" height="8" fill-opacity="0.53"/>
<rect x="308" y="448" width="8" height="8" fill-opacity="0.55"/>
<rect x="316" y="448" width="8" height="8" fill-opacity="0.56"/>
<rect x="324" y="448" width="8" height="8" fill-opacity="0.58"/>
<rect x="332" y="448" width="8" height="8" fill-opacity="0.59"/>
<rect x="340" y="448" width="8" height="8" fill-opacity="0.61"/>
<rect x="348" y="448" width="8" height="8" fill-opacity="0.62"/>
<rect x="356" y="448" width="8" height="8" fill-opacity="0.63"/>
<rect x="364" y="448" width="8" height="8" fill-opacity="0.64"/>
<rect x="372" y="448" width="8" height="8" fill-opacity="0.64"/>
<rect x="380" y="448" width="8" height="8" fill-opacity="0.64"/>
<rect x="388" y="448" width="8" height="8" fill-opacity="0.63"/>
<rect x="396" y="448" width="8" height="8" fill-opacity="0.62"/>
<rect x="404" y="448" width="8" height="8" fill-opacity="0.61"/>
<rect x="412" y="448" width="8" height="8" fill-opacity="0.61"/>
<rect x="420" y="448" width="8" height="8" fill-opacity="0.60"/>
<rect x="428" y="448" width="8" height="8" fill-opacity="0.60"/>
<rect x="436" y="448" width="8" height="8" fill-opacity="0.59"/>
<rect x="444" y="448" width="8" height="8" fill-opacity="0.59"/>
<rect x="452" y="448" width="8" height="8" fill-opacity="0.58"/>
<rect x="460" y="448" width="8" height="8" fill-opacity="0.57"/>
<rect x="148" y="456" width="8" height="8" fill-opacity="0.43"/>
<rect x="156" y="456" width="8" height="8" fill-opacity="0.43"/>
<rect x="164" y="456" width="8" height="8" fill-opacity="0.42"/>
<rect x="172" y="456" width="8" height="8" fill-opacity="0.42"/>
<rect x="180" y="456" width="8" height="8" fill-opacity="0.41"/>
<rect x="188" y="456" width="8" height="8" fill-opacity="0.41"/>
<rect x="196" y="456" width="8" height="8" fill-opacity="0.40"/>
<rect x="204" y="456" width="8" height="8" fill-opacity="0.40"/>
<rect x="212" y="456" width="8" height="8" fill-opacity="0.40"/>
<rect x="220" y="456" width="8" height="8" fill-opacity="0.39"/>
<rect x="228" y="456" width="8" height="8" fill-opacity="0.39"/>
<rect x="236" y="456" width="8" height="8" fill-opacity="0.98"/>
<rect x="244" y="456" width="8" height="8" fill-opacity="0.59"/>
<rect x="252" y="456" width="8" height="8" fill-opacity="0.54"/>
<rect x="260" y="456" width="8" height="8" fill-opacity="0.95"/>
<rect x="268" y="456" width="8" height="8" fill-opacity="1.00"/>
<rect x="276" y="456" width="8" height="8" fill-opacity="1.00"/>
<rect x="284" y="456" width="8" height="8" fill-opacity="1.00"/>
<rect x="292" y="456" width="8" height="8" fill-opacity="0.50"/>
<rect x="300" y="456" width="8" height="8" fill-opacity="0.52"/>
<rect x="308" y="456" width="8" height="8" fill-opacity="0.54"/>
<rect x="316" y="456" width="8" height="8" fill-opacity="0.55"/>
<rect x="324" y="456" width="8" height="8" fill-opacity="0.57"/>
<rect x="332" y="456" width="8" height="8" fill-opacity="0.58"/>
<rect x="340" y="456" width="8" height="8" fill-opacity="0.60"/>
<rect x="348" y="456" width="8" height="8" fill-opacity="0.61"/>
<rect x="356" y="456" width="8" height="8" fill-opacity="0.62"/>
<rect x="364" y="456" width="8" height="8" fill-opacity="0.62"/>
<rect x="372" y="456" width="8" height="8" fill-opacity="0.63"/>
<rect x="380" y="456" width="8" height="8" fill-opacity="0.63"/>
<rect x="388" y="456" width="8" height="8" fill-opacity="0.62"/>
<rect x="396" y="456" width="8" height="8" fill-opacity="0.62"/>
<rect x="404" y="456" width="8" height="8" fill-opacity="0.61"/>
<rect x="412" y="456" width="8" height="8" fill-opacity="0.61"/>
<rect x="420" y="456" width="8" height="8" fill-opacity="0.60"/>
<rect x="428" y="456" width="8" height="8" fill-opacity="0.60"/>
<rect x="436" y="456" width="8" height="8" fill-opacity="0.59"/>
<rect x="444" y="456" width="8" height="8" fill-opacity="0.59"/>
<rect x="452" y="456" width="8" height="8" fill-opacity="0.58"/>
<rect x="460" y="456" width="8" height="8" fill-opacity="0.57"/>
<rect x="148" y="464" width="8" height="8" fill-opacity="0.43"/>
<rect x="156" y="464" width="8" height="8" fill-opacity="0.43"/>
<rect x="164" y="464" width="8" height="8" fill-opacity="0.43"/>
<rect x="172" y="464" width="8" height="8" fill-opacity="0.42"/>
<rect x="180" y="464" width="8" height="8" fill-opacity="0.42"/>
<rect x="188" y="464" width="8" height="8" fill-opacity="0.42"/>
<rect x="196" y="464" width="8" height="8" fill-opacity="0.41"/>
<rect x="204" y="464" width="8" height="8" fill-opacity="0.41"/>
<rect x="212" y="464" width="8" height="8" fill-opacity="0.41"/>
<rect x="220" y="464" width="8" height="8" fill-opacity="0.40"/>
<rect x="228" y="464" width="8" height="8" fill-opacity="0.40"/>
<rect x="236" y="464" width="8" height="8" fill-opacity="0.39"/>
<rect x="244" y="464" width="8" height="8" fill-opacity="0.38"/>
<rect x="252" y="464" width="8" height="8" fill-opacity="0.39"/>
<rect x="260" y="464" width="8" height="8" fill-opacity="0.41"/>
<rect x="268" y="464" width="8" height="8" fill-opacity="0.43"/>
<rect x="276" y="464" width="8" height="8" fill-opacity="0.45"/>
<rect x="284" y="464" width="8" height="8" fill-opacity="0.48"/>
<rect x="292" y="464" width="8" height="8" fill-opacity="0.50"/>
<rect x="300" y="464" width="8" height="8" fill-opacity="0.51"/>
<rect x="308" y="464" width="8" height="8" fill-opacity="0.53"/>
<rect x="316" y="464" width="8" height="8" fill-opacity="0.55"/>
<rect x="324" y="464" width="8" height="8" fill-opacity="0.56"/>
<rect x="332" y="464" width="8" height="8" fill-opacity="0.58"/>
<rect x="340" y="464" width="8" height="8" fill-opacity="0.59"/>
<rect x="348" y="464" width="8" height="8" fill-opacity="0.60"/>
<rect x="356" y="464" width="8" height="8" fill-opacity="0.61"/>
<rect x="364" y="464" width="8" height="8" fill-opacity="0.61"/>
<rect x="372" y="464" width="8" height="8" fill-opacity="0.62"/>
<rect x="380" y="464" width="8" height="8" fill-opacity="0.62"/>
<rect x="388" y="464" width="8" height="8" fill-opacity="0.62"/>
<rect x="396" y="464" width="8" height="8" fill-opacity="0.61"/>
<rect x="404" y="464" width="8" height="8" fill-opacity="0.61"/>
<rect x="412" y="464" width="8" height="8" fill-opacity="0.60"/>
<rect x="420" y="464" width="8" height="8" fill-opacity="0.60"/>
<rect x="428" y="464" width="8" height="8" fill-opacity="0.59"/>
<rect x="436" y="464" width="8" height="8" fill-opacity="0.59"/>
<rect x="444" y="464" width="8" height="8" fill-opacity="0.58"/>
<rect x="452" y="464" width="8" height="8" fill-opacity="0.58"/>
<rect x="460" y="464" width="8" height="8" fill-opacity="0.57"/></g>
<path d="M164.2,361.4 L163.6,350.1 L162.7,339.1 L163.9,328.1 L165.1,317.4 L165.2,306.7 L165.4,295.9 L168.4,285.6 L170.2,274.9 L173.1,264.5 L177.4,254.5 L180.6,243.7 L180.6,243.7 L172.4,251.9 L166.9,261.8 L162.5,272.3 L159.2,283.2 L156.7,294.3 L153.4,305.5 L152.1,317.0 L155.1,328.6 L155.3,340.1 L159.2,351.0 L164.2,361.4Z" fill="#00aeef" opacity="0.11"/>
<path d="M194.3,318.2 L198.6,309.5 L203.2,301.5 L207.3,293.7 L211.7,286.5 L213.2,277.7 L220.4,272.4 L225.3,266.0 L228.3,257.6 L235.0,252.7 L239.7,245.5 L245.4,238.8 L245.4,238.8 L236.6,240.9 L228.8,245.2 L220.7,249.8 L214.4,256.6 L208.1,263.6 L203.7,272.0 L197.5,279.6 L195.7,289.3 L193.5,298.7 L193.2,308.4 L194.3,318.2Z" fill="#00aeef" opacity="0.22"/>
<path d="M364.8,372.8 L360.1,373.0 L355.9,373.8 L351.8,374.3 L347.4,373.3 L344.1,375.5 L340.4,376.4 L336.6,375.5 L333.1,377.9 L329.5,378.4 L325.9,378.5 L322.1,380.8 L322.1,380.8 L325.5,383.4 L329.4,384.5 L333.4,386.8 L337.6,386.3 L341.8,385.5 L346.2,386.0 L350.4,384.5 L354.2,381.5 L358.2,379.6 L362.0,377.1 L364.8,372.8Z" fill="#00aeef" opacity="0.54"/>
<path d="M374.7,362.3 L369.6,366.7 L364.0,370.3 L360.4,375.4 L354.8,378.6 L350.9,383.5 L344.8,385.7 L340.4,390.2 L335.4,394.4 L329.5,397.1 L323.7,400.2 L317.7,403.9 L317.7,403.9 L325.1,405.1 L332.1,404.0 L339.2,402.6 L344.8,398.0 L351.6,395.6 L357.8,392.2 L363.0,387.3 L366.2,380.7 L371.0,375.8 L373.1,369.0 L374.7,362.3Z" fill="#00aeef" opacity="0.24"/>
<path d="M335.2,377.6 L329.1,378.0 L323.3,377.9 L317.7,378.4 L312.3,377.4 L306.9,377.3 L302.0,375.3 L296.8,374.8 L291.5,374.3 L286.5,372.8 L282.0,370.2 L276.6,368.9 L276.6,368.9 L279.7,373.9 L284.0,377.5 L289.5,379.2 L294.5,382.4 L300.1,384.2 L306.0,385.6 L312.1,384.4 L318.1,384.3 L324.0,382.6 L329.9,380.9 L335.2,377.6Z" fill="#00aeef" opacity="0.18"/>
<path d="M223.5,327.1 L225.1,318.5 L224.1,311.1 L226.0,303.3 L224.7,295.8 L227.2,288.2 L227.3,280.4 L228.5,272.4 L228.7,263.6 L233.7,256.4 L235.6,247.2 L237.4,237.1 L237.4,237.1 L228.8,243.0 L221.2,250.1 L216.6,258.9 L212.7,267.9 L211.0,277.4 L209.0,286.6 L208.2,295.9 L209.4,305.0 L212.7,313.4 L216.4,321.2 L223.5,327.1Z" fill="#00aeef" opacity="0.21"/>
<path d="M240.2,343.4 L238.9,336.5 L236.9,329.9 L235.8,323.2 L234.9,316.3 L236.0,309.4 L235.5,302.4 L236.2,295.3 L237.5,288.2 L240.3,281.4 L242.7,274.3 L245.0,266.8 L245.0,266.8 L239.6,272.6 L234.9,279.1 L232.2,286.5 L229.6,293.9 L227.8,301.6 L227.8,309.3 L229.2,316.9 L229.8,324.3 L233.0,331.1 L235.3,338.0 L240.2,343.4Z" fill="#00aeef" opacity="0.16"/>
<path d="M378.5,402.6 L372.5,408.3 L366.2,413.8 L360.1,419.5 L352.8,423.9 L346.5,429.9 L338.4,433.3 L330.7,437.7 L322.7,442.0 L314.3,445.6 L305.2,448.1 L296.0,451.1 L296.0,451.1 L305.8,450.6 L315.2,448.9 L324.7,447.1 L333.4,443.5 L341.4,438.7 L349.2,434.0 L356.8,429.2 L363.8,423.7 L369.4,416.9 L374.5,410.1 L378.5,402.6Z" fill="#00aeef" opacity="0.13"/>
<path d="M377.2,406.2 L371.6,405.2 L368.1,406.8 L363.0,405.6 L360.1,408.1 L355.8,407.8 L352.6,409.6 L349.7,412.3 L345.9,412.5 L342.8,415.1 L340.3,420.0 L337.3,424.2 L337.3,424.2 L342.2,427.1 L346.9,428.5 L350.7,426.4 L355.9,428.3 L360.0,427.0 L363.5,424.3 L366.9,421.4 L370.0,418.1 L373.5,415.8 L375.7,411.4 L377.2,406.2Z" fill="#00aeef" opacity="0.22"/>
<path d="M210.6,410.3 L203.4,402.6 L195.9,395.5 L189.8,386.8 L182.9,378.8 L176.7,370.1 L172.0,360.3 L166.0,351.0 L162.3,340.4 L158.5,329.7 L155.6,318.5 L152.3,307.1 L152.3,307.1 L152.6,319.0 L154.5,330.7 L156.4,342.4 L160.7,353.3 L165.7,363.6 L170.6,374.0 L177.3,383.1 L184.4,391.6 L192.5,399.0 L201.2,405.3 L210.6,410.3Z" fill="#00aeef" opacity="0.19"/>
<path d="M261.4,391.7 L258.2,383.5 L253.2,377.8 L249.6,371.2 L247.4,364.1 L245.3,357.4 L241.3,351.6 L241.0,344.7 L237.3,338.6 L237.8,331.9 L235.5,325.2 L233.2,318.0 L233.2,318.0 L229.5,324.6 L227.2,332.0 L225.7,339.8 L226.0,347.9 L229.3,355.4 L231.6,363.2 L235.6,370.5 L240.0,377.6 L246.3,383.4 L253.6,388.1 L261.4,391.7Z" fill="#00aeef" opacity="0.22"/>
<path d="M188.4,227.3 L193.5,224.9 L198.2,222.5 L201.0,218.4 L204.4,215.0 L209.4,213.0 L212.3,209.1 L215.3,205.2 L219.9,203.1 L223.0,199.1 L225.9,194.5 L228.9,190.0 L228.9,190.0 L223.5,190.9 L218.9,193.3 L214.2,195.7 L209.1,197.6 L205.5,201.4 L200.6,203.8 L197.9,208.6 L194.7,212.6 L191.2,216.5 L189.6,221.8 L188.4,227.3Z" fill="#00aeef" opacity="0.18"/>
<path d="M261.1,374.3 L257.1,369.9 L253.0,365.7 L248.7,361.8 L245.5,356.9 L242.2,352.1 L239.0,347.2 L235.8,342.2 L233.1,336.8 L229.8,331.5 L227.4,325.6 L224.9,319.5 L224.9,319.5 L224.2,326.3 L225.1,333.0 L227.5,339.1 L229.3,345.5 L233.1,350.8 L236.2,356.5 L240.4,361.3 L244.9,365.7 L250.3,369.1 L255.3,372.4 L261.1,374.3Z" fill="#00aeef" opacity="0.12"/>
<path d="M311.3,412.3 L303.1,410.0 L295.4,406.8 L288.2,403.2 L281.0,400.2 L274.4,396.1 L268.0,392.0 L262.2,387.3 L257.4,381.7 L252.6,376.3 L248.0,370.8 L243.7,365.0 L243.7,365.0 L246.0,372.0 L249.6,378.5 L253.7,385.0 L259.3,390.3 L265.1,395.7 L271.1,401.1 L278.3,405.3 L286.3,407.8 L294.1,411.1 L302.7,412.1 L311.3,412.3Z" fill="#00aeef" opacity="0.21"/>
<path d="M379.3,281.2 L376.8,284.7 L375.2,288.0 L375.2,291.3 L372.9,294.2 L373.4,297.5 L371.9,300.3 L370.5,303.0 L370.5,306.1 L370.4,309.2 L370.3,312.4 L371.3,316.2 L371.3,316.2 L374.9,314.6 L377.1,312.0 L380.0,309.6 L381.6,306.5 L380.9,302.6 L382.1,299.3 L383.1,295.9 L383.2,292.2 L383.5,288.6 L381.2,284.8 L379.3,281.2Z" fill="#00aeef" opacity="0.14"/>
<path d="M299.0,433.2 L287.0,429.1 L275.4,426.3 L263.8,424.0 L252.1,421.0 L242.1,413.7 L230.7,409.3 L221.3,401.2 L211.3,393.7 L201.3,385.5 L192.7,375.7 L181.6,366.5 L181.6,366.5 L185.4,380.6 L192.9,392.6 L201.2,404.2 L211.8,413.3 L221.7,423.7 L234.6,429.3 L247.7,433.2 L260.7,436.7 L274.0,436.9 L286.7,437.1 L299.0,433.2Z" fill="#00aeef" opacity="0.23"/>
<path d="M448.8,299.9 L444.3,304.3 L440.0,308.6 L435.5,312.5 L431.4,316.5 L427.6,320.6 L423.9,324.6 L420.4,329.0 L416.3,332.3 L412.1,335.7 L407.9,338.7 L404.1,342.7 L404.1,342.7 L409.3,341.2 L414.5,339.3 L419.3,336.5 L424.4,333.9 L428.8,330.1 L432.2,325.2 L436.9,321.5 L440.5,316.6 L443.8,311.4 L447.0,306.2 L448.8,299.9Z" fill="#00aeef" opacity="0.09"/>
<path d="M204.1,300.9 L209.3,294.2 L213.5,287.5 L218.4,281.5 L223.9,276.3 L229.2,271.3 L231.6,263.8 L237.4,259.5 L243.5,255.8 L247.9,249.8 L253.4,245.1 L258.4,238.8 L258.4,238.8 L250.2,239.1 L242.1,240.6 L236.0,245.8 L228.8,249.8 L221.6,254.2 L215.9,260.4 L213.6,269.1 L207.4,275.2 L204.9,283.4 L204.3,292.3 L204.1,300.9Z" fill="#00aeef" opacity="0.13"/>
<path d="M209.1,245.0 L213.4,242.1 L217.2,239.2 L221.2,236.3 L225.2,233.6 L228.7,230.4 L232.0,226.9 L236.3,224.8 L239.9,221.6 L244.0,219.1 L247.9,216.2 L251.6,212.9 L251.6,212.9 L246.6,213.7 L242.0,215.4 L237.6,217.8 L233.0,219.8 L228.6,222.2 L225.2,226.0 L220.8,228.5 L217.6,232.5 L214.4,236.4 L211.5,240.5 L209.1,245.0Z" fill="#00aeef" opacity="0.53"/>
<path d="M305.8,442.7 L291.8,442.0 L277.8,441.8 L264.0,438.8 L250.1,435.7 L236.3,431.2 L223.5,423.7 L209.8,417.4 L198.5,407.1 L186.7,396.9 L175.3,385.6 L164.6,373.0 L164.6,373.0 L171.9,388.1 L181.6,401.5 L192.3,414.1 L205.5,423.6 L218.1,433.7 L233.0,439.3 L247.6,444.4 L262.6,447.5 L277.5,448.3 L292.1,446.2 L305.8,442.7Z" fill="#00aeef" opacity="0.47"/>
<path d="M258.2,250.4 L266.7,246.9 L275.3,244.4 L283.8,242.4 L292.3,241.0 L300.8,238.9 L309.5,238.4 L318.1,240.4 L327.0,240.8 L335.6,243.0 L344.1,245.9 L353.1,248.8 L353.1,248.8 L345.9,242.5 L337.9,237.0 L328.6,234.4 L319.5,230.9 L309.8,230.7 L300.1,230.1 L290.8,232.8 L281.5,235.0 L272.7,238.5 L265.0,244.0 L258.2,250.4Z" fill="#00aeef" opacity="0.15"/>
<path d="M436.7,244.0 L441.8,259.3 L445.9,274.5 L448.8,289.9 L450.7,305.3 L449.4,320.8 L447.9,336.0 L446.7,351.5 L441.1,365.9 L437.1,381.0 L429.7,394.6 L422.4,408.7 L422.4,408.7 L433.6,397.1 L442.4,383.6 L449.0,368.8 L455.3,353.7 L458.3,337.5 L459.7,321.1 L459.2,304.7 L456.3,288.5 L451.9,272.8 L445.5,257.7 L436.7,244.0Z" fill="#00aeef" opacity="0.13"/>
<path d="M347.6,197.9 L347.6,204.9 L347.2,211.5 L349.3,216.8 L349.2,222.7 L350.6,227.9 L349.3,233.4 L352.3,238.2 L352.7,243.2 L353.6,248.2 L355.8,253.3 L359.7,258.8 L359.7,258.8 L364.5,253.9 L366.0,248.4 L368.2,242.5 L368.0,236.5 L368.2,230.4 L365.6,224.5 L365.4,218.1 L362.6,212.3 L357.6,207.3 L354.4,201.7 L347.6,197.9Z" fill="#00aeef" opacity="0.58"/>
<path d="M391.4,169.3 L402.8,182.9 L413.8,196.0 L423.4,209.7 L431.1,224.2 L438.1,238.8 L442.9,253.9 L444.9,269.4 L448.6,284.4 L448.4,299.5 L448.6,314.6 L447.3,329.5 L447.3,329.5 L452.2,315.1 L456.0,299.9 L456.0,284.0 L454.0,267.9 L451.9,251.5 L445.8,235.8 L440.0,219.6 L429.8,205.5 L418.5,192.1 L406.6,179.0 L391.4,169.3Z" fill="#00aeef" opacity="0.22"/>
<path d="M316.1,438.7 L305.9,433.8 L295.9,431.6 L287.0,426.1 L277.7,423.0 L269.1,418.8 L260.1,415.2 L253.8,407.8 L245.8,403.0 L238.1,397.5 L231.7,390.8 L223.4,385.0 L223.4,385.0 L226.3,394.7 L229.9,404.6 L237.1,412.0 L244.8,419.1 L252.1,427.3 L262.8,430.6 L271.7,437.3 L283.0,438.6 L293.6,441.8 L304.9,441.1 L316.1,438.7Z" fill="#00aeef" opacity="0.44"/>
<path d="M217.3,409.6 L209.9,400.0 L202.4,390.7 L195.7,380.7 L189.7,370.3 L186.3,358.7 L181.0,347.9 L179.0,335.9 L176.5,323.9 L175.9,311.7 L175.3,299.3 L175.0,286.6 L175.0,286.6 L171.6,299.0 L169.9,311.7 L170.1,324.6 L172.3,337.2 L174.9,349.7 L178.1,362.0 L183.6,373.5 L190.4,384.2 L198.4,393.8 L206.9,402.8 L217.3,409.6Z" fill="#00aeef" opacity="0.48"/>
<path d="M438.4,241.1 L436.4,247.7 L434.6,254.1 L434.1,260.0 L434.4,265.9 L432.5,271.6 L430.6,277.0 L433.4,282.9 L430.8,288.1 L431.4,293.7 L432.7,299.7 L433.7,305.8 L433.7,305.8 L439.8,301.7 L442.0,296.3 L443.6,290.5 L445.8,284.7 L448.0,278.7 L449.7,272.5 L447.3,266.0 L447.5,259.6 L445.9,253.2 L442.6,247.0 L438.4,241.1Z" fill="#00aeef" opacity="0.11"/>
<path d="M234.6,255.1 L240.6,253.6 L245.6,251.6 L249.6,248.8 L254.0,246.5 L256.8,242.1 L261.9,241.0 L265.2,236.9 L270.2,235.9 L273.6,231.2 L278.0,228.4 L282.2,224.4 L282.2,224.4 L276.3,223.6 L270.7,224.1 L264.9,224.5 L259.9,227.0 L254.4,228.6 L250.8,233.3 L246.5,236.8 L242.1,240.1 L238.4,244.1 L235.9,249.3 L234.6,255.1Z" fill="#00aeef" opacity="0.15"/>
<path d="M407.7,262.1 L408.9,269.8 L409.8,277.4 L411.6,284.6 L414.0,291.6 L414.2,298.9 L415.3,306.2 L414.8,313.4 L414.3,320.6 L415.2,328.0 L414.0,335.1 L414.5,342.8 L414.5,342.8 L418.4,336.1 L421.0,328.9 L422.4,321.3 L423.6,313.6 L422.8,305.8 L422.7,298.0 L420.7,290.3 L419.2,282.7 L416.6,275.2 L412.8,268.3 L407.7,262.1Z" fill="#00aeef" opacity="0.15"/>
<path d="M389.0,421.8 L377.7,426.2 L366.5,429.7 L356.2,434.4 L345.5,437.6 L335.0,441.4 L324.0,443.7 L312.7,443.6 L301.6,444.7 L290.4,444.4 L278.8,445.1 L266.3,446.9 L266.3,446.9 L277.0,453.9 L288.8,458.9 L301.3,458.7 L313.9,460.3 L326.7,460.7 L339.2,458.5 L350.6,452.3 L362.6,448.5 L372.7,440.8 L381.5,431.8 L389.0,421.8Z" fill="#00aeef" opacity="0.11"/>
<path d="M284.1,402.7 L275.8,399.0 L267.7,395.4 L260.0,391.1 L252.5,386.4 L246.0,380.3 L239.1,374.7 L233.3,367.9 L228.5,360.2 L223.9,352.5 L220.0,344.2 L216.2,335.7 L216.2,335.7 L217.8,345.0 L220.9,353.9 L225.0,362.3 L229.9,370.4 L235.7,377.8 L242.8,383.9 L249.7,390.2 L257.7,395.2 L266.3,398.6 L274.9,401.8 L284.1,402.7Z" fill="#00aeef" opacity="0.54"/>
<path d="M240.6,199.1 L247.2,198.5 L253.3,197.6 L258.3,194.9 L264.0,193.5 L269.3,191.4 L274.5,189.1 L279.8,186.6 L285.6,185.5 L291.0,183.1 L296.5,180.3 L302.0,175.9 L302.0,175.9 L295.4,173.9 L288.9,173.1 L282.2,172.6 L276.6,176.2 L269.6,175.2 L264.1,178.7 L258.0,180.3 L253.3,185.0 L247.9,188.0 L243.4,192.5 L240.6,199.1Z" fill="#00aeef" opacity="0.19"/>
<path d="M379.6,392.1 L373.2,395.4 L366.7,398.1 L360.8,401.4 L354.8,404.5 L348.8,407.4 L342.3,409.1 L336.2,411.9 L329.7,413.6 L323.1,414.0 L316.6,416.1 L310.0,417.7 L310.0,417.7 L316.8,419.2 L323.7,419.0 L330.8,419.2 L337.8,418.5 L344.8,416.9 L351.5,414.2 L358.0,411.1 L364.3,407.5 L370.1,403.2 L374.9,397.6 L379.6,392.1Z" fill="#00aeef" opacity="0.17"/>
<path d="M393.8,249.2 L394.5,260.8 L397.5,270.6 L399.7,280.4 L398.4,290.5 L399.0,299.9 L400.4,309.2 L398.2,318.2 L399.6,327.8 L397.9,337.0 L395.9,346.2 L394.1,355.8 L394.1,355.8 L401.4,348.9 L408.8,341.0 L412.6,331.2 L417.1,321.2 L415.4,310.1 L416.2,299.2 L414.3,288.3 L414.0,277.0 L407.4,267.2 L403.2,256.8 L393.8,249.2Z" fill="#00aeef" opacity="0.41"/>
<path d="M416.7,237.2 L422.2,249.9 L427.4,262.5 L430.6,275.6 L433.3,288.7 L433.8,301.9 L434.7,315.0 L432.6,327.8 L430.9,340.7 L427.6,353.1 L422.7,365.0 L417.5,376.8 L417.5,376.8 L424.8,366.1 L430.9,354.4 L435.0,341.8 L438.1,328.7 L439.1,315.2 L439.5,301.6 L438.1,287.9 L435.2,274.4 L430.2,261.5 L424.3,248.9 L416.7,237.2Z" fill="#00aeef" opacity="0.16"/>
<path d="M239.9,270.9 L243.0,267.3 L246.4,264.0 L248.5,260.0 L251.1,256.2 L254.1,252.7 L257.1,249.1 L259.9,245.3 L263.5,242.1 L266.5,238.1 L270.1,234.5 L273.2,230.0 L273.2,230.0 L267.9,231.6 L263.0,233.8 L258.9,237.2 L254.8,240.4 L251.2,244.1 L248.7,248.6 L244.8,252.0 L242.8,256.6 L241.8,261.6 L239.7,265.8 L239.9,270.9Z" fill="#00aeef" opacity="0.59"/>
<path d="M328.4,193.7 L331.6,199.6 L334.8,204.9 L338.1,209.7 L341.5,214.1 L345.9,217.3 L349.8,221.0 L351.9,225.8 L355.8,229.4 L359.6,233.0 L362.4,237.2 L367.7,240.3 L367.7,240.3 L368.9,234.1 L368.7,228.0 L366.7,222.5 L363.2,217.9 L360.1,212.8 L355.3,209.0 L352.8,203.0 L347.4,199.7 L340.7,197.9 L335.6,194.3 L328.4,193.7Z" fill="#00aeef" opacity="0.21"/>
<path d="M346.9,372.9 L342.4,372.5 L338.5,373.0 L334.3,372.0 L331.4,374.5 L327.7,374.2 L324.0,373.1 L320.9,375.3 L317.6,374.8 L314.2,377.2 L310.7,379.0 L307.0,380.9 L307.0,380.9 L310.4,383.7 L314.2,386.1 L318.1,385.5 L322.3,387.5 L326.0,385.1 L330.1,384.8 L334.1,384.1 L338.2,383.2 L341.7,380.6 L344.5,376.9 L346.9,372.9Z" fill="#00aeef" opacity="0.13"/>
<path d="M215.3,389.5 L216.4,382.2 L216.0,375.8 L215.5,369.7 L217.3,363.5 L213.9,358.0 L215.8,352.3 L214.6,346.7 L216.0,341.3 L215.6,335.8 L214.0,330.0 L212.5,323.9 L212.5,323.9 L207.2,328.3 L205.0,333.9 L202.6,339.7 L201.0,345.9 L202.7,352.3 L201.7,358.8 L201.9,365.4 L204.5,371.8 L205.5,378.5 L210.4,384.1 L215.3,389.5Z" fill="#00aeef" opacity="0.21"/>
<path d="M320.1,386.4 L315.5,384.3 L311.4,383.8 L307.5,384.3 L303.5,383.2 L299.6,384.0 L295.7,383.9 L291.8,383.1 L287.9,382.2 L283.7,382.7 L279.7,381.8 L274.8,383.1 L274.8,383.1 L278.0,386.8 L281.9,388.8 L286.0,390.8 L290.1,393.7 L294.7,392.9 L299.2,392.6 L303.7,393.3 L308.1,392.0 L312.4,391.1 L316.6,390.0 L320.1,386.4Z" fill="#00aeef" opacity="0.45"/>
<path d="M407.3,250.4 L402.8,255.2 L400.7,260.2 L396.5,264.4 L394.8,269.2 L391.7,273.3 L388.9,277.3 L386.7,281.6 L386.2,287.0 L383.8,291.1 L381.7,295.6 L380.8,301.3 L380.8,301.3 L386.5,299.9 L391.7,297.5 L394.7,293.1 L399.6,289.8 L401.6,284.5 L403.8,279.3 L406.8,274.4 L407.2,268.3 L408.5,262.7 L408.9,256.7 L407.3,250.4Z" fill="#00aeef" opacity="0.14"/>
<path d="M281.3,405.4 L279.1,399.1 L275.4,395.4 L273.3,390.2 L271.1,385.7 L267.8,382.5 L264.4,379.3 L260.5,376.3 L258.5,372.3 L255.5,368.8 L252.7,365.1 L248.0,361.9 L248.0,361.9 L246.1,367.5 L247.2,372.4 L247.5,378.0 L249.8,382.8 L252.5,387.6 L256.7,391.3 L260.2,395.7 L263.0,401.0 L268.7,403.3 L274.2,405.7 L281.3,405.4Z" fill="#00aeef" opacity="0.18"/>
<path d="M310.4,401.9 L307.3,399.2 L304.1,398.3 L301.1,397.3 L298.4,394.9 L295.3,394.7 L292.2,394.8 L289.9,391.9 L286.3,393.1 L283.1,392.9 L280.1,392.2 L276.0,393.5 L276.0,393.5 L277.6,397.9 L280.4,399.8 L283.1,402.3 L286.2,403.7 L289.6,404.3 L293.0,404.9 L296.4,405.9 L299.9,406.0 L303.4,405.3 L306.9,404.3 L310.4,401.9Z" fill="#00aeef" opacity="0.20"/>
<path d="M431.1,270.2 L427.9,283.1 L427.9,295.1 L425.2,306.6 L419.9,317.0 L419.2,328.2 L413.4,337.4 L411.0,348.0 L404.7,356.3 L398.9,364.6 L393.0,372.9 L387.5,382.1 L387.5,382.1 L398.1,378.5 L407.2,372.2 L414.3,363.4 L422.2,354.7 L427.1,343.9 L431.7,332.7 L434.7,320.7 L437.2,308.4 L437.7,295.6 L435.1,282.7 L431.1,270.2Z" fill="#00aeef" opacity="0.13"/>
<path d="M418.3,295.5 L414.0,301.8 L410.1,307.7 L407.0,313.6 L402.6,318.5 L400.8,324.6 L397.3,329.5 L393.5,334.0 L391.2,339.7 L387.6,344.2 L384.1,348.8 L381.1,354.2 L381.1,354.2 L387.7,353.2 L393.7,350.8 L397.8,345.8 L402.6,341.4 L407.0,336.3 L410.9,330.7 L414.9,324.8 L416.7,317.7 L419.1,310.9 L419.8,303.4 L418.3,295.5Z" fill="#00aeef" opacity="0.20"/>
<path d="M375.2,432.7 L361.6,434.6 L348.7,436.8 L335.9,436.5 L323.5,436.7 L311.5,434.9 L300.0,432.2 L288.3,430.5 L278.1,425.2 L267.5,421.0 L258.1,414.9 L248.3,409.3 L248.3,409.3 L255.0,418.8 L264.6,425.5 L274.6,432.2 L285.5,437.8 L297.2,442.8 L310.0,445.0 L323.1,445.6 L336.5,445.9 L349.8,443.4 L362.8,438.9 L375.2,432.7Z" fill="#00aeef" opacity="0.22"/>
<path d="M263.4,217.4 L270.9,218.2 L278.2,219.8 L284.7,218.1 L291.3,218.8 L297.8,218.4 L304.2,220.1 L310.8,218.7 L317.1,220.1 L323.4,221.4 L330.3,221.0 L337.8,220.0 L337.8,220.0 L332.6,214.4 L326.2,211.2 L319.7,207.4 L312.5,206.7 L305.3,204.0 L297.9,205.6 L290.5,205.5 L283.4,208.3 L276.3,210.0 L269.3,211.9 L263.4,217.4Z" fill="#00aeef" opacity="0.09"/>
<path d="M367.6,441.1 L361.8,441.1 L356.3,441.7 L350.7,441.9 L345.2,442.4 L339.8,441.5 L334.5,442.2 L329.2,441.5 L323.9,441.4 L318.8,440.7 L313.7,440.0 L308.4,439.9 L308.4,439.9 L313.2,442.0 L318.3,443.5 L323.5,445.1 L328.8,446.0 L334.3,445.7 L339.8,445.9 L345.4,445.5 L351.0,445.2 L356.6,444.4 L362.2,443.0 L367.6,441.1Z" fill="#00aeef" opacity="0.48"/>
<path d="M264.6,257.0 L270.8,254.5 L276.4,251.7 L282.3,249.5 L287.7,246.8 L292.9,243.3 L300.0,244.5 L305.4,240.7 L311.8,239.4 L318.1,236.2 L325.1,235.0 L332.6,231.1 L332.6,231.1 L325.1,226.6 L317.2,224.8 L309.3,224.6 L301.4,225.1 L294.9,229.9 L287.8,231.9 L280.9,234.5 L274.7,238.3 L271.0,245.0 L266.8,250.3 L264.6,257.0Z" fill="#00aeef" opacity="0.16"/>
<path d="M427.2,278.6 L428.3,286.9 L430.1,294.8 L431.4,302.8 L431.3,311.0 L433.3,319.0 L432.4,327.2 L432.3,335.4 L431.9,343.6 L431.9,352.0 L430.4,360.3 L429.4,368.9 L429.4,368.9 L433.5,361.1 L435.8,352.8 L437.7,344.4 L439.5,335.9 L439.4,327.2 L439.4,318.7 L438.5,310.2 L436.8,301.8 L434.9,293.6 L431.9,285.7 L427.2,278.6Z" fill="#00aeef" opacity="0.54"/>
<path d="M221.2,376.2 L218.0,369.9 L213.8,365.2 L210.8,359.2 L206.0,355.1 L203.9,348.4 L197.8,344.8 L196.3,337.9 L191.3,333.0 L187.2,327.2 L182.8,321.1 L177.0,315.1 L177.0,315.1 L175.6,323.8 L178.3,331.1 L180.3,338.6 L184.1,345.2 L187.3,352.1 L191.8,358.0 L195.9,364.2 L202.5,367.7 L207.8,372.1 L213.5,375.9 L221.2,376.2Z" fill="#00aeef" opacity="0.13"/>
<path d="M235.4,315.9 L237.1,310.2 L237.7,304.8 L238.8,299.4 L239.8,294.1 L241.8,288.9 L242.1,283.3 L244.3,278.1 L246.1,272.6 L247.7,266.8 L249.8,260.9 L252.2,254.7 L252.2,254.7 L245.9,258.2 L241.4,263.0 L237.2,268.3 L235.5,274.6 L231.6,280.1 L232.0,286.8 L230.1,292.7 L230.3,298.9 L231.7,304.9 L232.3,310.7 L235.4,315.9Z" fill="#00aeef" opacity="0.19"/>
<path d="M391.3,182.4 L401.5,191.1 L411.0,200.2 L419.7,210.2 L428.3,220.1 L435.9,230.7 L441.6,242.5 L447.9,253.9 L452.0,266.3 L456.2,278.6 L459.0,291.3 L461.7,304.1 L461.7,304.1 L461.3,290.9 L459.9,277.7 L456.6,264.8 L452.2,252.1 L446.2,240.1 L439.6,228.4 L431.9,217.3 L422.8,207.4 L413.4,197.8 L402.9,189.2 L391.3,182.4Z" fill="#00aeef" opacity="0.25"/>
<path d="M478.6,358.9 L468.3,365.3 L458.7,371.5 L448.2,375.5 L440.4,382.6 L430.9,386.5 L422.1,390.9 L412.9,393.5 L404.3,396.9 L395.8,401.1 L387.0,402.6 L378.3,407.0 L378.3,407.0 L387.5,410.3 L397.2,410.1 L407.6,411.0 L417.5,407.5 L427.6,404.2 L437.0,398.6 L447.9,395.0 L457.2,388.1 L465.5,379.6 L473.6,370.7 L478.6,358.9Z" fill="#00aeef" opacity="0.50"/>
<path d="M394.5,283.2 L396.2,291.0 L397.7,298.6 L399.3,306.1 L400.2,313.7 L401.2,321.4 L401.8,329.1 L401.5,337.0 L401.0,345.0 L399.3,352.9 L397.8,361.0 L397.2,369.7 L397.2,369.7 L402.2,362.4 L405.6,354.5 L408.8,346.3 L410.4,337.8 L410.4,329.2 L410.3,320.6 L409.5,312.2 L406.4,304.3 L404.0,296.4 L399.9,289.4 L394.5,283.2Z" fill="#00aeef" opacity="0.21"/>
<path d="M200.1,353.2 L203.0,348.9 L205.5,344.9 L205.5,341.0 L207.7,337.4 L207.7,333.6 L206.6,329.6 L206.9,325.9 L208.0,322.3 L208.7,318.7 L208.5,314.8 L206.2,310.0 L206.2,310.0 L201.2,312.3 L199.6,316.1 L196.5,319.5 L196.0,323.6 L193.1,327.4 L193.7,331.9 L192.6,336.1 L194.6,340.6 L195.7,344.9 L197.3,349.1 L200.1,353.2Z" fill="#00aeef" opacity="0.13"/>
<path d="M195.2,339.5 L199.8,332.7 L201.9,326.4 L201.6,320.1 L204.7,314.2 L205.6,308.2 L207.2,302.4 L208.6,296.5 L212.3,291.6 L212.0,284.8 L214.4,279.2 L214.1,271.7 L214.1,271.7 L206.7,274.5 L201.7,279.3 L199.3,285.6 L194.8,291.1 L192.2,297.6 L187.6,303.7 L188.0,311.1 L188.6,318.4 L187.6,325.5 L190.6,332.7 L195.2,339.5Z" fill="#00aeef" opacity="0.24"/>
<path d="M294.0,227.0 L301.3,233.3 L308.6,237.2 L314.6,242.5 L320.7,246.9 L325.8,251.9 L329.2,258.0 L332.4,263.6 L337.3,267.9 L341.3,272.9 L343.9,278.4 L348.7,283.7 L348.7,283.7 L351.4,276.7 L351.2,269.4 L348.2,262.6 L345.7,255.2 L341.4,248.2 L335.2,242.6 L329.7,235.6 L321.8,231.3 L313.5,227.2 L304.0,225.9 L294.0,227.0Z" fill="#00aeef" opacity="0.24"/>
<path d="M416.2,165.1 L417.4,174.7 L417.9,184.0 L421.6,191.6 L424.0,199.6 L424.7,207.8 L424.9,215.9 L429.0,223.1 L430.4,230.7 L431.7,238.2 L432.8,245.7 L436.1,253.4 L436.1,253.4 L440.6,246.0 L443.9,237.9 L442.7,229.7 L443.2,221.2 L444.1,212.2 L442.7,203.4 L436.4,195.8 L434.4,187.0 L430.3,178.8 L424.7,171.1 L416.2,165.1Z" fill="#00aeef" opacity="0.23"/>
<path d="M426.2,275.6 L424.7,285.7 L423.4,295.4 L422.1,304.8 L419.8,313.8 L416.0,322.1 L413.3,330.5 L409.3,338.2 L404.9,345.5 L400.2,352.2 L396.0,359.4 L391.1,365.9 L391.1,365.9 L398.2,361.5 L404.5,355.7 L409.9,348.8 L415.0,341.4 L419.0,333.2 L423.1,324.7 L426.0,315.5 L428.3,305.9 L428.5,295.9 L428.1,285.7 L426.2,275.6Z" fill="#00aeef" opacity="0.58"/>
<path d="M230.6,268.5 L238.3,262.3 L244.7,255.4 L252.4,249.9 L261.0,246.0 L269.1,241.8 L276.7,236.4 L285.3,232.6 L294.8,232.0 L304.0,228.8 L313.7,228.2 L324.0,226.1 L324.0,226.1 L314.1,221.9 L303.6,220.1 L293.1,221.4 L282.2,221.2 L272.2,225.2 L263.0,230.3 L254.1,235.9 L246.5,243.0 L239.9,250.8 L233.5,258.6 L230.6,268.5Z" fill="#00aeef" opacity="0.18"/>
<path d="M404.4,348.9 L399.9,357.2 L396.8,365.4 L392.7,373.3 L389.4,381.4 L385.4,389.3 L381.9,397.8 L377.9,406.4 L370.8,412.9 L366.0,421.9 L358.6,428.9 L352.3,438.0 L352.3,438.0 L363.0,434.5 L372.8,429.1 L379.5,420.7 L387.3,413.4 L393.8,405.2 L398.7,396.1 L402.8,386.8 L404.4,376.9 L408.2,367.9 L406.9,358.1 L404.4,348.9Z" fill="#00aeef" opacity="0.63"/>
<path d="M266.8,414.3 L256.7,408.2 L246.7,402.8 L237.5,396.1 L228.1,389.8 L219.1,382.6 L209.9,374.9 L202.3,365.4 L195.3,355.1 L188.7,344.1 L183.7,331.9 L176.9,319.5 L176.9,319.5 L176.5,334.0 L179.9,347.7 L184.9,360.8 L190.9,373.4 L198.6,384.9 L208.1,394.6 L219.0,402.4 L230.0,409.4 L242.7,412.4 L254.9,414.4 L266.8,414.3Z" fill="#00aeef" opacity="0.17"/>
<path d="M371.7,216.2 L377.4,221.1 L383.7,225.1 L389.3,230.0 L394.9,234.8 L400.2,240.0 L405.1,245.7 L410.9,250.7 L415.6,256.7 L421.0,262.4 L425.9,268.6 L430.8,275.0 L430.8,275.0 L428.6,267.0 L425.3,259.5 L420.3,253.2 L415.7,246.6 L410.8,240.3 L405.8,234.0 L399.3,229.4 L393.0,224.9 L386.3,220.9 L379.0,218.3 L371.7,216.2Z" fill="#00aeef" opacity="0.20"/>
<path d="M238.6,433.4 L233.2,430.2 L227.7,427.4 L222.3,424.5 L216.6,422.1 L211.3,418.8 L205.2,416.8 L200.1,413.0 L194.1,410.4 L188.7,406.6 L182.9,403.2 L176.8,399.8 L176.8,399.8 L181.0,405.4 L185.9,410.2 L191.3,414.4 L196.5,418.7 L201.6,423.1 L207.6,426.1 L213.9,428.2 L219.6,431.2 L226.0,432.4 L232.4,433.2 L238.6,433.4Z" fill="#00aeef" opacity="0.60"/>
<path d="M292.7,404.3 L288.8,399.4 L284.8,396.7 L281.0,393.9 L276.3,394.2 L272.8,391.2 L268.6,389.8 L264.8,387.6 L261.7,384.4 L256.7,384.0 L251.6,383.3 L245.9,382.7 L245.9,382.7 L246.7,389.3 L250.4,392.8 L253.6,397.0 L257.2,401.1 L262.1,402.9 L266.3,406.3 L271.1,408.4 L277.0,406.9 L281.7,409.0 L287.3,407.3 L292.7,404.3Z" fill="#00aeef" opacity="0.61"/>
<path d="M223.8,194.9 L229.9,196.1 L235.7,195.6 L241.5,197.4 L247.1,197.6 L252.5,197.3 L257.9,197.7 L263.2,198.1 L268.5,198.5 L273.6,199.3 L278.9,199.3 L284.4,199.0 L284.4,199.0 L279.8,196.0 L275.0,193.5 L269.7,192.1 L264.3,190.6 L258.7,190.1 L252.9,189.9 L247.1,188.5 L241.2,189.2 L235.3,190.5 L229.5,192.5 L223.8,194.9Z" fill="#00aeef" opacity="0.65"/>
<path d="M393.4,302.6 L387.5,308.6 L386.0,314.9 L381.0,319.8 L377.7,324.8 L373.3,328.9 L371.8,334.4 L370.2,340.3 L364.8,342.5 L363.6,349.1 L359.2,352.2 L357.2,359.1 L357.2,359.1 L364.5,359.9 L369.5,356.4 L377.3,355.4 L380.1,348.9 L387.6,346.0 L388.4,338.0 L393.4,332.7 L395.8,325.7 L396.3,318.1 L397.1,310.6 L393.4,302.6Z" fill="#00aeef" opacity="0.24"/>
<path d="M307.9,255.8 L313.5,258.2 L318.8,260.6 L323.8,263.5 L328.5,266.4 L333.7,268.3 L338.3,271.3 L342.6,274.8 L346.0,279.1 L350.8,282.2 L354.7,286.4 L359.2,290.4 L359.2,290.4 L358.4,284.1 L356.0,278.3 L352.2,273.4 L348.3,268.4 L343.2,264.9 L338.9,259.8 L332.7,257.9 L326.6,256.0 L320.5,254.4 L314.2,254.0 L307.9,255.8Z" fill="#00aeef" opacity="0.22"/>
<path d="M339.3,396.7 L334.6,395.4 L330.3,394.7 L326.1,394.5 L322.0,392.9 L318.2,394.2 L314.3,392.9 L310.4,394.2 L306.5,394.2 L302.6,393.9 L298.5,394.5 L294.0,396.0 L294.0,396.0 L297.1,400.2 L300.9,402.4 L305.2,403.0 L309.3,405.4 L313.8,406.1 L318.3,404.3 L322.8,406.2 L327.2,403.6 L331.7,403.4 L335.6,400.0 L339.3,396.7Z" fill="#00aeef" opacity="0.21"/>
<path d="M188.6,426.8 L189.5,419.8 L191.5,412.9 L188.7,407.6 L191.1,401.2 L190.9,395.6 L187.7,390.5 L186.4,385.1 L184.7,379.7 L184.4,374.3 L182.8,368.8 L179.6,363.1 L179.6,363.1 L175.8,368.4 L174.4,374.1 L172.9,380.0 L169.5,386.3 L173.0,392.1 L172.4,398.5 L172.9,404.9 L175.4,410.9 L179.8,416.3 L182.3,422.3 L188.6,426.8Z" fill="#00aeef" opacity="0.24"/>
<path d="M180.0,285.6 L184.1,276.5 L187.5,267.3 L192.2,258.7 L197.4,250.4 L202.6,242.1 L208.9,234.7 L214.8,226.8 L222.4,220.5 L229.6,213.8 L237.2,207.3 L245.4,201.5 L245.4,201.5 L236.2,205.7 L227.4,210.9 L219.6,217.3 L211.3,223.4 L204.8,231.2 L198.4,239.2 L192.5,247.5 L188.5,256.9 L184.6,266.2 L181.6,275.7 L180.0,285.6Z" fill="#00aeef" opacity="0.46"/>
<path d="M321.8,386.4 L319.1,387.0 L316.3,387.4 L314.0,388.5 L311.7,389.7 L308.9,390.0 L306.9,391.8 L304.5,392.9 L301.9,393.6 L299.5,395.0 L297.1,396.7 L294.8,399.2 L294.8,399.2 L298.0,399.7 L301.2,400.2 L303.9,399.0 L306.7,398.3 L309.6,397.6 L312.2,396.5 L314.4,394.7 L316.9,393.4 L318.8,391.2 L320.5,389.1 L321.8,386.4Z" fill="#00aeef" opacity="0.16"/>
<path d="M273.2,446.2 L268.8,441.7 L264.3,437.7 L259.8,433.8 L254.9,430.8 L251.0,426.5 L247.3,422.2 L242.6,419.0 L239.2,414.7 L235.8,410.4 L231.4,406.9 L226.9,403.3 L226.9,403.3 L228.7,408.8 L231.2,413.9 L233.9,419.1 L237.6,423.6 L241.7,428.0 L245.9,432.2 L250.7,435.9 L255.9,439.1 L260.9,442.8 L266.9,444.9 L273.2,446.2Z" fill="#00aeef" opacity="0.64"/>
<path d="M355.4,225.1 L360.5,234.4 L365.3,242.9 L370.7,250.3 L372.6,259.5 L375.4,267.6 L379.5,274.9 L382.1,282.8 L384.0,290.7 L386.1,298.6 L389.2,306.8 L391.6,315.5 L391.6,315.5 L397.6,307.5 L398.3,298.3 L398.4,288.9 L400.0,278.8 L397.8,268.9 L394.6,259.1 L389.1,250.3 L380.9,243.1 L374.0,235.4 L366.2,228.3 L355.4,225.1Z" fill="#00aeef" opacity="0.17"/>
<path d="M246.3,406.6 L238.4,399.1 L229.6,393.9 L222.6,385.9 L215.0,378.9 L208.3,370.8 L202.1,362.1 L195.8,353.2 L189.5,343.8 L184.6,333.4 L179.5,322.5 L174.5,310.9 L174.5,310.9 L173.8,323.8 L175.5,336.4 L177.9,349.0 L183.0,360.4 L189.5,370.9 L198.8,379.0 L206.9,387.4 L214.4,396.5 L224.8,401.5 L235.5,404.9 L246.3,406.6Z" fill="#00aeef" opacity="0.09"/>
<path d="M338.1,205.8 L342.5,210.1 L347.2,213.3 L351.2,217.6 L355.4,221.2 L359.6,224.8 L364.5,227.4 L368.3,231.3 L372.9,234.4 L376.3,238.7 L380.1,242.5 L384.8,245.8 L384.8,245.8 L383.0,240.4 L380.5,235.3 L377.7,230.1 L373.6,226.1 L369.2,222.2 L365.4,217.7 L360.4,214.4 L355.0,211.8 L350.2,208.4 L344.4,206.4 L338.1,205.8Z" fill="#00aeef" opacity="0.13"/>
<path d="M309.3,396.5 L305.6,392.7 L302.4,388.5 L298.5,387.0 L295.6,383.7 L292.1,381.7 L289.4,378.8 L285.5,377.6 L282.3,375.6 L279.3,373.3 L274.9,372.1 L270.6,370.5 L270.6,370.5 L270.5,375.6 L273.0,379.1 L275.2,383.0 L276.6,388.3 L281.5,389.6 L284.2,394.1 L289.2,395.3 L293.6,397.2 L299.0,397.0 L303.8,398.0 L309.3,396.5Z" fill="#00aeef" opacity="0.24"/>
<path d="M288.2,203.9 L295.0,203.8 L301.5,202.6 L308.2,202.8 L314.8,202.0 L321.5,202.6 L328.3,202.8 L335.0,203.7 L341.9,203.8 L348.7,205.1 L355.4,206.8 L362.5,208.0 L362.5,208.0 L356.1,204.7 L349.4,202.2 L342.7,199.6 L335.7,198.2 L328.7,197.2 L321.7,196.8 L314.7,197.4 L307.8,198.1 L301.0,199.5 L294.5,201.4 L288.2,203.9Z" fill="#00aeef" opacity="0.15"/>
<path d="M172.1,344.6 L171.8,337.7 L171.0,331.4 L169.1,325.8 L166.8,320.3 L166.6,313.9 L163.1,308.8 L161.2,303.0 L159.4,297.1 L155.6,291.4 L153.0,285.2 L148.1,279.0 L148.1,279.0 L144.9,286.4 L143.3,293.8 L144.6,300.7 L146.0,307.5 L147.3,314.3 L149.6,320.7 L151.3,327.3 L154.8,333.1 L160.6,337.3 L164.6,342.2 L172.1,344.6Z" fill="#00aeef" opacity="0.13"/>
<path d="M203.9,417.9 L194.0,406.7 L184.3,395.5 L175.4,383.4 L168.4,370.0 L161.6,356.3 L155.9,341.9 L153.5,326.3 L150.7,310.7 L149.4,294.5 L149.6,278.0 L151.1,261.2 L151.1,261.2 L145.8,277.5 L143.2,294.4 L144.2,311.2 L145.9,327.7 L149.2,343.8 L154.1,359.4 L160.7,374.2 L169.7,387.3 L179.9,399.2 L191.2,409.7 L203.9,417.9Z" fill="#00aeef" opacity="0.21"/>
<path d="M353.8,216.4 L361.5,224.7 L368.4,233.0 L375.5,240.6 L381.8,248.7 L388.5,256.4 L392.8,265.6 L398.1,274.3 L400.0,284.2 L404.5,293.4 L406.7,303.3 L409.7,313.5 L409.7,313.5 L411.8,303.0 L412.9,292.0 L411.2,281.1 L408.3,270.4 L403.6,260.1 L398.3,250.2 L392.3,240.4 L383.1,233.3 L374.0,226.5 L364.8,219.9 L353.8,216.4Z" fill="#00aeef" opacity="0.21"/>
<path d="M205.2,299.1 L207.8,287.7 L209.9,276.3 L214.0,265.3 L218.5,254.2 L224.1,243.4 L232.4,234.1 L239.7,223.6 L248.9,214.5 L260.0,207.1 L271.2,199.2 L283.5,192.3 L283.5,192.3 L269.6,195.9 L256.6,201.7 L245.5,210.1 L234.9,218.9 L224.7,228.0 L218.1,239.7 L211.4,250.9 L208.1,263.3 L204.8,275.3 L203.8,287.3 L205.2,299.1Z" fill="#00aeef" opacity="0.09"/>
<path d="M345.2,231.0 L352.4,237.3 L359.3,243.7 L365.1,250.8 L371.7,257.1 L376.8,264.4 L380.9,272.4 L384.5,280.5 L386.9,288.9 L390.2,297.1 L391.5,305.8 L393.4,314.6 L393.4,314.6 L394.7,305.6 L394.5,296.4 L393.5,287.1 L391.2,277.9 L386.9,269.4 L382.9,260.6 L376.7,253.1 L369.6,246.5 L362.6,239.8 L354.4,234.4 L345.2,231.0Z" fill="#00aeef" opacity="0.23"/>
<path d="M315.8,390.9 L310.7,389.4 L306.0,388.3 L301.5,387.1 L297.3,388.7 L292.9,388.7 L288.6,388.0 L284.3,386.1 L279.6,387.4 L274.9,387.6 L270.0,387.8 L264.2,389.4 L264.2,389.4 L267.9,394.3 L272.4,397.8 L277.4,399.9 L282.4,402.2 L287.8,401.5 L293.0,403.3 L298.1,400.4 L303.4,401.8 L308.3,399.9 L312.2,395.0 L315.8,390.9Z" fill="#00aeef" opacity="0.09"/>
<path d="M298.9,406.2 L295.9,403.4 L293.0,402.5 L290.2,401.4 L287.4,401.4 L284.6,400.6 L281.8,400.2 L279.1,399.4 L275.9,400.7 L272.9,400.6 L270.0,400.2 L266.2,402.1 L266.2,402.1 L268.5,405.5 L271.5,406.5 L274.4,407.8 L277.1,410.9 L280.3,410.8 L283.5,411.0 L286.7,410.8 L289.9,410.8 L293.0,410.3 L296.1,409.1 L298.9,406.2Z" fill="#00aeef" opacity="0.61"/>
<path d="M394.9,220.6 L401.0,232.4 L408.5,242.5 L412.2,254.6 L417.9,265.5 L420.6,277.4 L423.1,289.1 L425.1,300.9 L428.4,312.7 L427.4,324.8 L427.0,336.9 L426.7,349.5 L426.7,349.5 L433.1,338.2 L435.0,325.6 L437.1,312.8 L436.1,299.9 L434.7,286.9 L432.9,273.8 L427.7,261.5 L422.2,249.4 L414.1,238.8 L406.0,228.3 L394.9,220.6Z" fill="#00aeef" opacity="0.15"/>
<path d="M237.0,273.7 L242.7,270.2 L246.8,265.7 L252.5,262.9 L256.5,258.4 L261.9,255.6 L267.2,253.0 L272.4,250.4 L277.7,248.0 L283.0,245.2 L288.4,241.8 L294.2,239.0 L294.2,239.0 L287.5,237.2 L281.2,238.7 L274.4,238.8 L268.5,241.8 L262.7,244.9 L255.8,246.5 L250.8,251.0 L246.9,256.7 L242.6,261.7 L238.7,267.0 L237.0,273.7Z" fill="#00aeef" opacity="0.12"/>
<path d="M429.2,341.6 L423.6,345.2 L419.0,349.3 L414.1,352.7 L409.5,356.2 L405.0,359.8 L400.5,363.2 L395.3,365.1 L391.2,368.9 L386.4,371.2 L381.6,373.1 L377.1,376.3 L377.1,376.3 L382.7,376.4 L387.9,374.9 L393.1,373.0 L398.7,371.4 L403.5,368.1 L409.1,365.8 L413.2,361.0 L417.8,356.9 L422.2,352.5 L425.9,347.2 L429.2,341.6Z" fill="#00aeef" opacity="0.61"/>
<path d="M219.3,229.1 L227.1,226.5 L233.1,222.1 L240.0,219.1 L246.1,214.8 L253.1,212.4 L259.8,209.6 L266.2,205.8 L273.1,202.9 L280.1,200.5 L287.4,198.8 L294.7,195.3 L294.7,195.3 L286.6,193.1 L278.9,194.2 L270.6,193.8 L262.8,195.8 L255.7,199.6 L247.8,201.5 L241.2,206.2 L234.1,210.0 L229.0,216.6 L223.3,222.1 L219.3,229.1Z" fill="#00aeef" opacity="0.15"/>
<path d="M310.5,239.3 L316.7,243.2 L322.1,247.7 L327.2,252.1 L332.3,256.2 L336.4,261.1 L339.9,266.1 L342.9,271.2 L345.0,276.5 L347.3,281.6 L348.6,286.9 L350.1,292.1 L350.1,292.1 L350.6,286.6 L350.0,280.9 L348.4,275.3 L346.0,269.7 L343.4,263.9 L339.2,258.8 L334.9,253.7 L329.6,249.3 L324.0,244.9 L317.4,241.8 L310.5,239.3Z" fill="#00aeef" opacity="0.41"/>
<path d="M225.8,248.1 L231.7,248.3 L236.9,247.6 L242.2,248.1 L246.6,245.9 L251.5,246.6 L255.9,245.8 L260.3,243.6 L264.7,244.6 L269.2,242.2 L273.5,242.3 L278.3,239.9 L278.3,239.9 L274.2,236.1 L269.6,234.0 L264.6,233.3 L259.6,233.9 L254.3,232.5 L249.2,233.7 L244.3,236.4 L239.5,238.9 L234.1,239.9 L229.6,243.2 L225.8,248.1Z" fill="#00aeef" opacity="0.15"/>
<path d="M411.0,289.9 L410.3,301.8 L409.8,313.0 L409.8,323.9 L410.0,334.8 L409.0,345.8 L403.7,356.0 L403.0,367.4 L397.5,377.4 L392.6,387.8 L388.0,399.0 L382.8,410.9 L382.8,410.9 L394.1,404.0 L402.8,394.5 L410.3,384.0 L416.9,372.9 L424.0,361.6 L424.5,348.5 L426.2,335.9 L424.2,323.3 L421.3,311.4 L417.6,300.0 L411.0,289.9Z" fill="#00aeef" opacity="0.19"/>
<path d="M402.8,319.2 L399.6,324.3 L397.7,329.5 L395.5,334.5 L392.6,339.0 L390.2,343.7 L387.5,348.1 L385.7,353.1 L383.0,357.5 L379.8,361.5 L376.7,365.6 L374.3,370.5 L374.3,370.5 L379.3,368.2 L383.2,364.5 L386.8,360.5 L391.1,356.8 L394.8,352.6 L396.3,346.9 L399.1,342.0 L400.8,336.5 L402.2,330.9 L403.6,325.3 L402.8,319.2Z" fill="#00aeef" opacity="0.58"/>
<path d="M373.5,344.3 L368.8,345.3 L366.9,347.5 L364.9,349.5 L361.8,350.8 L359.9,352.6 L359.3,355.3 L357.1,356.9 L355.6,359.0 L355.6,362.4 L355.0,365.6 L355.8,370.4 L355.8,370.4 L361.2,371.6 L364.7,370.7 L367.1,368.6 L370.2,367.0 L370.5,363.2 L374.6,362.2 L373.7,357.8 L374.5,354.7 L375.0,351.4 L375.0,348.1 L373.5,344.3Z" fill="#00aeef" opacity="0.17"/>
<path d="M262.1,270.7 L267.2,270.1 L271.8,269.4 L274.9,266.7 L279.0,265.8 L282.7,264.2 L286.5,263.1 L290.3,261.7 L294.3,261.6 L298.0,258.8 L302.1,257.7 L306.4,254.9 L306.4,254.9 L302.0,252.8 L297.4,252.2 L292.7,252.2 L287.9,251.9 L283.3,252.8 L278.3,253.1 L274.1,255.6 L270.6,259.1 L266.7,261.7 L263.8,265.6 L262.1,270.7Z" fill="#00aeef" opacity="0.17"/>
<path d="M219.9,254.5 L227.4,248.1 L235.4,242.7 L243.0,237.1 L251.3,232.8 L260.0,229.5 L268.8,226.9 L277.5,224.0 L286.4,222.6 L295.4,222.3 L304.3,222.4 L313.2,222.6 L313.2,222.6 L304.5,220.2 L295.4,219.4 L286.2,219.8 L276.8,220.2 L267.6,222.7 L258.7,226.0 L249.7,229.6 L241.3,234.3 L233.3,240.1 L226.3,247.0 L219.9,254.5Z" fill="#00aeef" opacity="0.12"/>
<path d="M241.3,269.6 L246.8,265.7 L252.4,262.3 L253.9,256.8 L258.1,252.7 L264.6,250.7 L266.4,244.5 L270.8,240.4 L276.0,237.3 L279.7,231.7 L284.9,227.6 L289.1,220.7 L289.1,220.7 L280.8,219.8 L274.0,222.3 L266.6,224.3 L261.8,229.8 L255.3,233.1 L249.4,237.3 L246.4,243.8 L243.3,249.8 L240.3,255.7 L239.6,262.4 L241.3,269.6Z" fill="#00aeef" opacity="0.09"/>
<path d="M415.5,393.8 L411.0,397.9 L406.4,401.9 L401.9,405.9 L397.5,409.8 L393.6,414.2 L389.2,418.2 L384.7,422.0 L380.0,425.7 L375.0,428.9 L370.4,432.8 L365.9,437.1 L365.9,437.1 L372.1,435.8 L377.8,433.3 L382.9,429.9 L388.4,426.9 L393.1,422.8 L398.0,419.1 L402.7,415.0 L406.3,409.9 L410.0,404.9 L413.3,399.7 L415.5,393.8Z" fill="#00aeef" opacity="0.14"/>
<path d="M304.5,385.8 L300.3,385.1 L296.3,385.6 L292.3,385.6 L288.3,385.3 L284.2,385.3 L280.1,384.6 L276.1,383.8 L271.9,383.3 L267.5,382.9 L263.1,382.2 L258.5,381.5 L258.5,381.5 L262.4,384.2 L266.5,386.2 L270.6,388.5 L275.2,388.7 L279.5,389.8 L284.0,390.2 L288.3,390.4 L292.7,390.5 L296.8,389.4 L300.8,387.7 L304.5,385.8Z" fill="#00aeef" opacity="0.14"/>
<path d="M453.6,332.2 L443.3,338.4 L436.5,346.4 L428.6,352.9 L420.7,358.7 L412.1,362.7 L403.2,365.0 L396.0,369.5 L388.7,373.8 L381.5,378.2 L373.8,381.1 L366.1,386.2 L366.1,386.2 L374.8,388.9 L384.3,390.9 L393.7,389.4 L403.8,388.1 L412.6,382.6 L420.6,375.8 L428.9,369.1 L437.9,362.8 L445.3,354.4 L450.5,343.9 L453.6,332.2Z" fill="#00aeef" opacity="0.14"/>
<path d="M183.4,306.1 L186.2,295.6 L188.6,285.2 L192.1,275.1 L196.5,265.4 L201.5,256.0 L206.0,246.2 L212.4,237.5 L219.4,229.2 L227.6,221.9 L235.7,214.5 L244.1,207.1 L244.1,207.1 L234.0,212.1 L224.6,218.5 L216.4,226.2 L208.0,233.9 L201.6,243.2 L195.4,252.6 L191.2,263.1 L187.5,273.6 L184.6,284.3 L183.3,295.2 L183.4,306.1Z" fill="#00aeef" opacity="0.10"/>
<path d="M171.6,350.1 L175.6,343.1 L176.9,336.1 L181.1,329.9 L183.0,323.4 L185.9,317.5 L186.1,310.5 L188.9,304.6 L193.0,299.7 L193.9,292.9 L196.8,287.2 L198.7,280.7 L198.7,280.7 L192.3,283.9 L187.8,288.8 L183.2,294.0 L178.3,299.3 L177.0,306.5 L174.2,313.2 L170.4,319.6 L170.8,327.4 L168.6,334.6 L169.7,342.4 L171.6,350.1Z" fill="#00aeef" opacity="0.53"/>
<path d="M201.0,361.4 L200.4,353.7 L200.1,346.1 L199.1,338.8 L200.7,331.4 L199.0,324.2 L200.2,317.1 L200.5,309.9 L202.8,303.1 L203.0,295.8 L204.4,288.8 L205.9,281.6 L205.9,281.6 L200.9,287.4 L198.3,294.4 L195.3,301.3 L193.0,308.6 L192.4,316.3 L191.9,324.0 L191.0,331.8 L192.8,339.5 L195.1,347.0 L197.1,354.5 L201.0,361.4Z" fill="#00aeef" opacity="0.20"/>
<path d="M324.7,242.9 L326.4,246.5 L328.5,248.9 L330.8,250.5 L332.6,253.0 L334.8,254.7 L337.3,255.7 L340.4,256.0 L342.2,258.2 L345.6,258.3 L347.8,260.0 L351.8,259.8 L351.8,259.8 L351.4,256.1 L350.3,252.7 L348.2,250.4 L345.7,248.6 L342.8,247.3 L340.3,245.5 L337.4,244.2 L335.3,241.6 L332.0,241.2 L328.3,242.0 L324.7,242.9Z" fill="#00aeef" opacity="0.13"/>
<path d="M269.0,449.8 L261.0,445.2 L253.3,440.7 L245.5,436.7 L237.8,432.8 L231.0,427.3 L223.3,423.2 L215.6,419.0 L208.5,413.9 L201.0,408.8 L194.3,402.7 L185.9,397.7 L185.9,397.7 L189.9,406.5 L195.5,414.3 L201.3,422.0 L208.8,427.9 L215.7,434.6 L223.9,439.5 L232.9,442.8 L241.0,447.7 L250.1,449.9 L259.6,450.2 L269.0,449.8Z" fill="#00aeef" opacity="0.46"/>
<path d="M233.4,344.4 L235.3,338.6 L236.5,333.2 L237.2,328.0 L238.1,323.0 L239.3,318.1 L241.4,313.7 L242.7,309.1 L244.0,304.5 L245.1,299.6 L247.4,295.5 L248.9,290.6 L248.9,290.6 L243.8,292.8 L240.5,296.7 L236.6,300.5 L234.4,305.5 L233.3,310.9 L230.1,315.8 L229.6,321.5 L229.5,327.3 L229.4,333.1 L230.5,338.9 L233.4,344.4Z" fill="#00aeef" opacity="0.16"/>
<path d="M361.0,389.5 L353.5,393.7 L346.8,398.7 L339.0,401.9 L331.2,405.0 L323.8,409.3 L315.4,411.2 L306.7,412.0 L298.1,414.4 L289.2,414.6 L280.0,414.6 L270.6,414.2 L270.6,414.2 L279.6,417.5 L288.9,419.5 L298.4,419.8 L307.8,420.1 L316.7,417.1 L325.8,415.3 L334.2,411.9 L341.8,406.9 L349.5,402.6 L355.7,396.3 L361.0,389.5Z" fill="#00aeef" opacity="0.08"/>
<path d="M184.2,370.1 L179.2,360.3 L174.7,350.3 L169.0,340.8 L165.3,330.0 L163.2,318.7 L159.6,307.5 L158.8,295.6 L157.0,283.5 L157.8,271.1 L158.0,258.3 L158.8,245.2 L158.8,245.2 L154.5,257.8 L151.5,270.6 L151.7,283.5 L150.6,296.3 L153.3,308.6 L156.2,320.5 L158.8,332.3 L164.5,342.8 L169.9,353.0 L176.4,362.2 L184.2,370.1Z" fill="#00aeef" opacity="0.12"/>
<path d="M198.5,311.7 L203.2,305.8 L205.5,300.4 L207.1,295.0 L207.6,289.6 L209.6,284.4 L211.2,279.2 L209.1,272.9 L211.7,267.8 L214.0,262.5 L213.6,255.9 L212.5,248.5 L212.5,248.5 L205.6,252.0 L201.6,257.2 L196.4,262.2 L194.0,268.3 L194.7,275.2 L190.0,280.7 L192.6,287.6 L189.8,293.7 L191.0,300.0 L193.1,306.1 L198.5,311.7Z" fill="#00aeef" opacity="0.10"/>
<path d="M221.5,217.7 L226.0,214.7 L230.2,211.6 L233.7,208.0 L237.7,204.8 L242.3,202.3 L244.5,197.1 L249.2,194.6 L253.0,190.9 L256.4,186.7 L260.5,183.1 L263.8,178.0 L263.8,178.0 L258.1,179.3 L252.9,181.7 L247.7,184.1 L242.4,186.5 L237.8,189.7 L234.1,193.9 L230.4,198.0 L228.0,203.1 L225.1,207.5 L223.0,212.5 L221.5,217.7Z" fill="#00aeef" opacity="0.11"/>
<path d="M252.9,226.2 L260.1,220.9 L267.2,215.5 L275.2,211.0 L283.5,206.9 L292.2,203.0 L301.3,200.0 L310.8,197.4 L320.5,194.8 L330.8,193.9 L341.3,193.6 L352.1,193.6 L352.1,193.6 L341.4,191.8 L330.7,190.8 L320.2,191.8 L309.9,193.2 L300.0,195.6 L290.4,198.5 L281.5,202.8 L273.2,207.6 L265.8,213.5 L258.7,219.3 L252.9,226.2Z" fill="#00aeef" opacity="0.16"/>
<path d="M280.0,386.6 L276.8,381.9 L273.5,378.5 L270.1,375.6 L267.2,372.1 L264.0,369.4 L260.1,367.6 L257.8,363.8 L253.8,362.0 L250.1,359.5 L244.1,358.6 L238.7,356.7 L238.7,356.7 L238.9,362.6 L239.5,368.8 L242.4,373.3 L245.2,378.2 L250.3,380.3 L255.1,382.5 L259.2,385.7 L263.7,388.2 L268.4,390.3 L274.6,388.2 L280.0,386.6Z" fill="#00aeef" opacity="0.14"/>
<path d="M392.1,312.1 L386.3,319.5 L385.2,327.1 L381.4,333.7 L377.9,340.1 L374.3,346.2 L368.4,350.6 L364.8,356.2 L362.6,363.4 L358.5,369.3 L353.8,374.6 L349.3,381.0 L349.3,381.0 L357.3,380.1 L365.5,378.0 L373.1,374.3 L379.9,369.2 L385.9,362.9 L389.4,354.8 L392.7,346.8 L393.7,337.9 L396.3,329.7 L395.2,320.8 L392.1,312.1Z" fill="#00aeef" opacity="0.10"/>
<path d="M289.7,244.7 L294.6,248.9 L299.4,251.8 L303.6,255.2 L307.5,258.4 L311.9,260.6 L315.0,264.2 L318.4,267.1 L321.9,269.9 L324.8,273.2 L327.7,276.4 L331.5,279.5 L331.5,279.5 L331.9,274.6 L331.6,269.3 L329.8,264.3 L325.8,260.7 L322.5,256.3 L318.8,251.9 L313.8,248.8 L307.7,247.5 L302.7,244.1 L296.0,244.4 L289.7,244.7Z" fill="#00aeef" opacity="0.22"/>
<path d="M306.4,178.1 L320.2,185.7 L333.1,193.2 L344.1,202.4 L354.5,211.4 L363.4,221.1 L370.4,231.7 L378.1,241.6 L381.0,253.2 L385.6,263.9 L388.8,274.7 L392.3,285.7 L392.3,285.7 L395.5,274.1 L394.0,262.1 L391.0,249.8 L387.9,236.8 L380.1,225.5 L373.5,212.7 L363.3,201.9 L350.3,194.0 L336.5,187.2 L322.2,181.0 L306.4,178.1Z" fill="#00aeef" opacity="0.55"/>
<path d="M366.9,410.3 L355.7,416.2 L344.4,421.4 L333.1,426.3 L321.3,430.0 L308.9,432.2 L296.5,434.9 L283.5,436.4 L270.0,437.1 L256.2,436.0 L242.4,432.7 L227.1,431.2 L227.1,431.2 L240.0,439.7 L253.9,446.3 L268.4,451.5 L283.5,453.2 L298.2,449.7 L312.4,447.4 L326.6,445.1 L338.6,437.6 L349.7,429.8 L360.5,422.2 L366.9,410.3Z" fill="#00aeef" opacity="0.49"/>
<path d="M273.6,178.4 L288.8,182.6 L303.1,186.4 L315.8,193.5 L328.4,198.9 L339.9,205.7 L348.4,215.5 L359.2,222.3 L366.8,231.8 L372.5,242.1 L379.0,251.7 L384.4,261.8 L384.4,261.8 L383.9,249.9 L379.9,238.2 L374.8,226.4 L365.7,216.6 L356.6,206.5 L346.5,196.4 L334.3,188.2 L320.2,182.6 L305.3,178.5 L289.5,177.9 L273.6,178.4Z" fill="#00aeef" opacity="0.13"/>
<path d="M205.7,251.6 L212.4,243.7 L218.3,235.5 L225.4,228.1 L232.4,220.7 L239.0,212.7 L247.7,206.8 L256.5,200.9 L264.8,193.8 L274.8,189.2 L284.7,183.7 L295.1,177.6 L295.1,177.6 L282.8,177.9 L271.3,181.0 L260.1,185.0 L250.5,191.7 L240.7,197.8 L232.7,206.0 L224.7,213.7 L216.9,221.6 L211.3,231.0 L207.4,241.0 L205.7,251.6Z" fill="#00aeef" opacity="0.10"/>
<path d="M437.8,374.1 L430.0,383.9 L422.8,393.6 L415.9,403.3 L407.2,411.6 L399.4,420.5 L390.2,428.1 L381.1,435.9 L370.7,441.8 L359.9,447.0 L349.1,452.5 L338.2,458.7 L338.2,458.7 L350.8,457.7 L363.1,454.4 L374.4,448.7 L385.4,442.6 L395.9,435.3 L405.7,427.3 L415.2,418.8 L422.0,408.0 L429.3,397.7 L435.0,386.5 L437.8,374.1Z" fill="#00aeef" opacity="0.09"/>
<path d="M392.2,179.8 L396.4,193.2 L400.0,205.8 L402.0,218.2 L406.8,229.2 L409.2,240.6 L406.7,251.8 L410.1,262.6 L408.7,272.9 L405.8,282.5 L405.9,292.8 L405.0,303.0 L405.0,303.0 L412.6,295.4 L418.1,285.9 L421.5,275.1 L423.5,263.5 L422.5,251.4 L424.1,238.7 L418.6,226.6 L415.1,214.0 L409.9,201.5 L401.8,190.2 L392.2,179.8Z" fill="#00aeef" opacity="0.51"/>
<path d="M299.5,424.8 L288.4,424.4 L277.4,422.9 L266.2,421.8 L255.2,418.9 L244.3,414.8 L234.2,408.8 L223.8,403.1 L213.5,396.5 L204.0,388.5 L194.6,379.8 L185.7,370.1 L185.7,370.1 L192.1,381.9 L200.0,392.4 L208.9,402.1 L219.0,410.3 L230.0,416.7 L241.8,421.2 L253.3,425.6 L265.2,427.9 L277.1,427.9 L288.5,427.2 L299.5,424.8Z" fill="#00aeef" opacity="0.18"/>
<path d="M227.0,221.2 L239.6,218.6 L251.3,215.8 L262.5,213.2 L273.5,210.0 L284.9,212.2 L295.8,209.8 L306.5,211.4 L317.5,211.6 L328.2,213.6 L338.5,216.9 L349.6,219.3 L349.6,219.3 L341.4,211.1 L331.3,205.1 L320.8,198.8 L308.8,196.7 L296.5,194.6 L283.8,193.2 L271.4,196.9 L259.3,200.9 L247.2,204.9 L236.2,211.7 L227.0,221.2Z" fill="#00aeef" opacity="0.15"/>
<path d="M188.2,300.6 L190.2,295.4 L192.1,290.2 L193.6,285.1 L195.4,280.1 L196.2,274.8 L198.4,269.9 L199.0,264.4 L202.0,259.8 L203.6,254.6 L204.7,248.9 L205.9,243.1 L205.9,243.1 L201.8,247.3 L197.8,251.7 L195.0,256.7 L191.6,261.6 L189.9,267.1 L188.8,272.7 L187.8,278.3 L186.6,283.8 L185.7,289.3 L186.4,295.0 L188.2,300.6Z" fill="#00aeef" opacity="0.18"/>
<path d="M278.8,187.3 L289.6,188.4 L300.1,190.5 L310.1,192.8 L320.4,192.8 L330.1,195.8 L339.1,200.3 L348.6,203.3 L358.0,206.8 L367.4,210.5 L376.2,215.5 L385.2,220.5 L385.2,220.5 L379.6,211.2 L371.8,203.9 L363.4,197.0 L353.1,193.5 L343.1,189.2 L332.8,186.0 L322.3,182.8 L311.3,181.9 L300.3,182.2 L289.3,183.3 L278.8,187.3Z" fill="#00aeef" opacity="0.19"/>
<path d="M254.2,258.4 L260.3,258.1 L265.0,256.1 L270.1,255.3 L274.8,254.0 L279.1,251.4 L284.1,251.5 L288.7,249.6 L293.5,249.3 L298.2,248.6 L303.1,247.5 L308.3,245.2 L308.3,245.2 L303.5,242.0 L298.3,240.9 L292.9,239.9 L287.4,240.4 L282.0,240.9 L276.3,241.2 L270.8,242.6 L266.4,246.6 L261.1,248.5 L257.2,253.0 L254.2,258.4Z" fill="#00aeef" opacity="0.10"/>
<path d="M314.1,430.0 L302.1,426.7 L290.7,423.3 L280.0,418.9 L269.6,414.3 L260.6,407.7 L249.8,404.0 L240.9,397.2 L234.6,388.0 L225.5,381.1 L219.4,371.8 L211.8,363.0 L211.8,363.0 L213.3,375.1 L219.3,385.3 L225.7,395.6 L234.2,404.3 L241.5,415.0 L252.5,421.3 L264.2,426.3 L276.3,430.1 L288.9,432.1 L301.5,433.3 L314.1,430.0Z" fill="#00aeef" opacity="0.15"/>
<path d="M394.2,325.1 L392.1,328.7 L390.7,332.0 L388.7,335.2 L390.0,338.4 L387.8,341.5 L388.2,344.7 L389.2,348.1 L388.5,351.3 L389.4,354.8 L389.3,358.3 L391.3,362.5 L391.3,362.5 L395.4,359.8 L397.6,356.5 L399.3,353.1 L399.0,349.4 L399.4,345.8 L400.2,342.2 L400.7,338.6 L400.1,335.0 L398.3,331.6 L397.3,328.2 L394.2,325.1Z" fill="#00aeef" opacity="0.23"/>
<path d="M443.0,314.9 L437.5,323.6 L431.5,331.5 L426.0,339.4 L419.0,345.6 L412.9,352.2 L405.9,357.4 L398.9,362.2 L391.9,366.4 L384.9,370.4 L377.7,373.2 L370.5,375.9 L370.5,375.9 L378.2,375.1 L385.9,373.0 L393.5,369.7 L401.1,365.8 L408.9,361.5 L415.8,355.5 L422.6,349.0 L428.8,341.6 L434.2,333.4 L439.1,324.5 L443.0,314.9Z" fill="#00aeef" opacity="0.10"/>
<path d="M168.3,378.9 L164.8,364.9 L161.8,351.0 L159.9,337.0 L158.8,322.9 L160.1,308.9 L162.3,295.1 L164.9,281.4 L169.3,268.2 L174.7,255.3 L181.1,242.9 L188.0,230.6 L188.0,230.6 L178.7,241.3 L171.1,253.5 L164.8,266.4 L160.1,280.0 L156.7,294.1 L154.9,308.5 L154.1,323.0 L154.9,337.5 L158.0,351.8 L162.3,365.7 L168.3,378.9Z" fill="#00aeef" opacity="0.15"/>
<path d="M302.3,461.7 L294.5,460.2 L286.8,457.9 L279.0,457.1 L271.7,454.3 L264.3,451.8 L256.7,449.9 L249.8,446.4 L242.6,443.6 L235.6,440.1 L228.5,436.8 L221.4,433.1 L221.4,433.1 L227.3,438.6 L233.5,443.6 L240.2,448.2 L247.6,451.3 L254.7,455.2 L262.7,456.9 L270.4,459.1 L278.1,461.5 L286.2,462.0 L294.2,462.8 L302.3,461.7Z" fill="#00aeef" opacity="0.56"/>
<path d="M208.4,251.5 L215.4,246.7 L221.2,241.3 L226.3,235.4 L233.0,231.2 L239.0,226.3 L245.2,221.7 L251.1,216.4 L258.3,213.2 L264.7,208.4 L271.9,204.6 L279.0,199.8 L279.0,199.8 L270.2,199.7 L262.0,201.8 L253.3,203.3 L246.2,208.2 L238.7,212.2 L231.6,217.0 L225.9,223.3 L220.5,229.8 L214.8,235.9 L210.5,243.0 L208.4,251.5Z" fill="#00aeef" opacity="0.22"/>
<path d="M320.9,176.1 L333.0,182.8 L344.7,189.2 L355.5,196.5 L364.6,205.5 L373.4,214.1 L381.5,223.0 L389.9,231.7 L395.9,241.8 L399.8,252.7 L404.5,263.0 L409.1,273.4 L409.1,273.4 L408.9,261.8 L406.1,250.3 L401.2,239.2 L396.4,227.6 L388.2,217.8 L380.8,207.0 L369.8,199.3 L359.3,191.0 L347.1,185.0 L334.6,179.1 L320.9,176.1Z" fill="#00aeef" opacity="0.19"/>
<path d="M385.2,372.1 L381.2,377.1 L377.9,382.4 L374.0,387.3 L370.0,392.2 L367.0,397.8 L362.4,402.3 L357.9,407.0 L353.0,411.4 L348.8,416.9 L343.3,421.2 L338.2,426.4 L338.2,426.4 L345.5,424.5 L351.9,421.1 L357.6,416.8 L362.5,411.8 L368.7,408.1 L372.6,402.3 L376.0,396.3 L379.9,390.9 L383.0,385.0 L384.7,378.7 L385.2,372.1Z" fill="#00aeef" opacity="0.10"/>
<path d="M211.5,335.5 L211.2,329.0 L210.9,322.5 L210.5,316.0 L210.8,309.5 L211.2,303.0 L212.6,296.6 L213.9,290.1 L215.1,283.7 L217.1,277.3 L219.3,270.9 L221.7,264.5 L221.7,264.5 L217.6,270.1 L214.5,276.2 L211.8,282.6 L210.0,289.2 L208.5,295.8 L206.7,302.5 L206.4,309.3 L206.6,316.1 L207.7,322.8 L209.0,329.3 L211.5,335.5Z" fill="#00aeef" opacity="0.43"/>
<path d="M249.4,390.8 L243.5,383.7 L237.1,378.4 L231.6,371.9 L226.2,365.4 L219.7,360.0 L215.7,352.2 L208.1,346.5 L203.4,338.5 L199.2,330.0 L194.7,321.2 L188.8,312.0 L188.8,312.0 L187.6,323.0 L187.3,334.3 L191.1,344.3 L195.1,354.2 L200.5,363.1 L207.4,370.7 L215.8,376.5 L223.6,382.1 L231.3,387.4 L240.2,390.0 L249.4,390.8Z" fill="#00aeef" opacity="0.22"/>
<path d="M241.6,407.1 L238.3,401.4 L233.7,398.4 L230.0,393.9 L225.9,390.2 L221.3,387.1 L219.0,381.4 L213.2,379.2 L209.0,375.3 L205.5,370.7 L201.3,366.5 L194.9,363.4 L194.9,363.4 L195.4,370.5 L198.1,376.2 L201.6,381.4 L203.8,387.9 L209.4,391.2 L213.1,396.4 L218.9,399.1 L224.0,402.4 L229.5,405.0 L235.3,406.8 L241.6,407.1Z" fill="#00aeef" opacity="0.48"/>
<path d="M397.6,334.3 L395.3,343.4 L393.5,352.5 L390.5,361.4 L387.5,370.4 L382.8,378.7 L378.2,387.4 L372.1,395.3 L365.1,402.5 L357.5,409.3 L349.7,416.3 L341.0,422.8 L341.0,422.8 L351.1,418.5 L360.3,412.9 L368.5,406.0 L376.5,398.9 L382.4,390.3 L388.3,381.8 L392.6,372.5 L395.6,363.0 L397.9,353.4 L398.9,343.8 L397.6,334.3Z" fill="#00aeef" opacity="0.17"/>
<path d="M444.2,350.7 L439.0,365.3 L432.9,379.3 L425.5,392.8 L416.6,405.2 L407.0,417.2 L395.3,427.2 L383.5,436.9 L370.4,445.0 L356.5,451.9 L342.1,457.8 L327.0,462.5 L327.0,462.5 L342.8,460.2 L358.2,456.0 L372.7,449.5 L386.7,441.7 L398.8,431.2 L410.3,420.3 L420.7,408.3 L429.2,395.0 L436.3,380.9 L441.4,366.1 L444.2,350.7Z" fill="#00aeef" opacity="0.20"/>
<path d="M199.0,339.1 L198.0,333.2 L196.6,327.4 L195.1,321.7 L194.8,315.6 L193.1,309.8 L193.5,303.6 L192.3,297.5 L192.1,291.2 L192.4,284.9 L192.6,278.5 L192.7,271.9 L192.7,271.9 L190.5,278.2 L189.3,284.6 L188.1,291.1 L187.3,297.6 L187.8,304.0 L188.5,310.4 L189.7,316.6 L191.6,322.5 L193.3,328.4 L195.7,334.0 L199.0,339.1Z" fill="#00aeef" opacity="0.20"/>
<path d="M261.6,261.6 L268.1,259.1 L272.6,254.8 L279.0,252.9 L283.4,248.4 L289.1,245.6 L295.6,244.3 L301.1,240.2 L308.0,239.7 L314.4,236.0 L321.6,235.6 L329.2,232.1 L329.2,232.1 L321.4,228.7 L313.5,228.2 L305.8,229.3 L298.0,230.0 L290.4,231.4 L283.2,234.1 L277.0,238.3 L271.7,243.4 L266.7,248.5 L263.6,254.9 L261.6,261.6Z" fill="#00aeef" opacity="0.24"/>
<path d="M376.4,200.4 L386.2,209.8 L394.9,219.9 L404.1,229.3 L410.0,241.1 L417.1,251.8 L422.2,263.5 L426.5,275.5 L430.5,287.6 L433.0,300.1 L434.3,312.8 L435.7,325.8 L435.7,325.8 L438.7,312.9 L438.7,299.6 L438.4,286.1 L435.3,272.9 L430.8,260.0 L423.9,248.2 L418.2,235.7 L409.5,224.9 L399.1,215.8 L388.7,206.8 L376.4,200.4Z" fill="#00aeef" opacity="0.44"/>
<path d="M285.8,458.6 L273.1,450.6 L260.7,443.9 L248.3,438.0 L237.6,429.7 L227.9,420.5 L216.8,412.8 L210.3,401.1 L202.3,390.8 L193.5,380.7 L186.9,369.2 L179.6,357.3 L179.6,357.3 L179.0,371.9 L183.3,385.6 L190.2,398.2 L195.2,412.5 L204.7,424.2 L216.8,433.1 L227.9,443.5 L242.1,449.3 L255.8,455.3 L270.7,458.2 L285.8,458.6Z" fill="#00aeef" opacity="0.19"/>
<path d="M239.1,338.9 L240.3,335.7 L240.9,332.8 L241.2,330.2 L240.2,328.0 L239.8,325.7 L239.0,323.4 L239.7,320.9 L238.2,318.7 L237.9,316.3 L235.1,314.1 L232.4,311.7 L232.4,311.7 L230.1,314.5 L228.1,317.5 L227.2,320.4 L227.3,323.3 L228.1,326.0 L228.4,328.8 L229.8,331.2 L231.1,333.7 L233.6,335.7 L236.0,337.5 L239.1,338.9Z" fill="#00aeef" opacity="0.09"/>
<path d="M354.5,418.2 L349.9,418.0 L345.4,418.1 L340.9,417.2 L336.8,417.9 L332.6,417.9 L328.7,419.4 L324.6,420.9 L320.5,420.8 L316.4,421.7 L312.2,422.3 L307.9,423.6 L307.9,423.6 L311.9,426.3 L316.2,426.5 L320.6,428.2 L325.1,429.0 L329.5,428.4 L333.8,426.6 L338.3,426.5 L342.6,425.1 L346.7,422.9 L351.0,421.9 L354.5,418.2Z" fill="#00aeef" opacity="0.17"/>
<path d="M175.2,292.7 L177.6,287.9 L180.1,283.3 L181.8,278.6 L182.8,273.6 L184.9,268.9 L187.4,264.5 L189.0,259.7 L191.5,255.3 L193.4,250.6 L195.2,245.6 L197.1,240.7 L197.1,240.7 L193.0,244.2 L189.2,248.1 L186.7,252.7 L184.3,257.4 L181.6,261.9 L179.2,266.7 L177.1,271.5 L176.8,277.0 L175.8,282.2 L174.9,287.3 L175.2,292.7Z" fill="#00aeef" opacity="0.18"/>
<path d="M220.2,237.4 L226.7,237.7 L232.6,237.2 L238.2,236.9 L243.2,234.7 L248.6,235.2 L253.8,235.4 L258.7,233.5 L263.7,233.1 L268.7,232.0 L273.6,232.0 L278.8,230.2 L278.8,230.2 L274.3,226.6 L269.2,225.5 L263.9,222.7 L258.4,224.4 L252.8,224.1 L247.1,225.1 L241.4,225.7 L235.6,227.2 L230.4,230.4 L224.9,232.9 L220.2,237.4Z" fill="#00aeef" opacity="0.43"/>
<path d="M253.4,278.4 L256.5,276.4 L258.9,274.0 L260.8,271.3 L262.9,268.7 L265.2,266.2 L268.6,264.9 L270.9,262.4 L272.3,258.8 L275.1,256.7 L277.4,253.9 L279.9,250.9 L279.9,250.9 L276.0,251.6 L272.5,253.1 L269.1,254.9 L265.8,256.8 L263.6,259.8 L260.1,261.6 L258.2,264.9 L256.9,268.4 L255.1,271.5 L253.6,274.6 L253.4,278.4Z" fill="#00aeef" opacity="0.23"/>
<path d="M173.9,333.2 L174.2,325.2 L171.8,318.5 L170.1,311.5 L169.1,304.3 L169.7,296.8 L168.8,289.5 L166.7,282.3 L165.4,274.8 L163.9,267.0 L162.4,258.9 L159.8,250.3 L159.8,250.3 L155.5,258.4 L153.2,266.8 L151.3,275.3 L151.5,283.7 L152.2,292.0 L154.1,300.0 L156.6,307.6 L158.9,315.2 L163.4,321.8 L167.9,328.1 L173.9,333.2Z" fill="#00aeef" opacity="0.14"/>
<path d="M332.9,388.7 L326.8,388.6 L321.2,389.0 L316.4,391.2 L310.7,390.6 L305.5,391.6 L300.1,390.7 L294.9,393.0 L289.4,392.9 L283.8,392.6 L277.7,394.5 L271.3,395.6 L271.3,395.6 L276.6,399.5 L282.6,401.5 L288.6,404.8 L295.0,405.7 L301.4,406.0 L307.5,404.1 L313.6,402.9 L319.3,400.7 L324.9,398.5 L329.1,393.4 L332.9,388.7Z" fill="#00aeef" opacity="0.45"/>
<path d="M321.8,430.0 L314.6,431.0 L307.6,432.6 L300.6,434.1 L293.3,434.5 L286.0,435.3 L278.5,436.2 L270.8,437.0 L270.8,437.0 L278.4,438.7 L286.1,438.6 L293.7,438.8 L301.1,437.4 L308.5,436.0 L315.3,433.3 L321.8,430.0Z" fill="#fff" opacity="0.58"/>
<path d="M288.4,404.7 L286.3,402.3 L283.9,400.5 L281.9,398.2 L279.5,396.5 L277.1,394.8 L275.1,392.8 L272.6,391.3 L272.6,391.3 L274.0,393.9 L275.8,396.2 L277.9,398.4 L280.3,400.1 L282.8,402.0 L285.4,403.6 L288.4,404.7Z" fill="#fff" opacity="0.58"/>
<path d="M380.1,288.6 L381.0,291.0 L382.2,293.1 L383.6,295.2 L384.7,297.5 L386.2,299.5 L387.5,301.7 L389.1,303.8 L389.1,303.8 L388.5,301.3 L387.5,298.9 L386.2,296.6 L385.1,294.3 L383.5,292.3 L382.0,290.2 L380.1,288.6Z" fill="#fff" opacity="0.73"/>
<path d="M242.3,236.8 L249.7,229.6 L257.7,222.7 L265.9,215.9 L275.1,209.9 L285.1,204.9 L295.8,200.6 L307.0,196.7 L307.0,196.7 L295.3,199.1 L284.1,202.5 L273.8,207.6 L264.3,213.7 L255.6,220.3 L248.3,228.3 L242.3,236.8Z" fill="#fff" opacity="0.40"/>
<path d="M296.6,389.5 L291.8,389.4 L287.0,389.5 L282.2,389.1 L277.3,388.4 L272.3,387.9 L267.3,386.9 L262.1,385.9 L262.1,385.9 L267.0,387.9 L272.0,389.3 L277.0,390.3 L282.0,390.9 L287.0,390.9 L291.9,390.4 L296.6,389.5Z" fill="#fff" opacity="0.64"/>
<path d="M216.1,366.4 L211.2,358.7 L206.4,350.8 L202.1,342.5 L198.4,333.7 L195.2,324.6 L193.0,314.9 L190.9,305.0 L190.9,305.0 L191.4,315.2 L193.2,325.1 L195.8,334.7 L199.7,343.6 L204.4,352.0 L209.9,359.7 L216.1,366.4Z" fill="#fff" opacity="0.54"/>
<path d="M380.3,253.9 L380.9,257.5 L381.6,261.0 L382.8,264.2 L383.7,267.5 L384.6,270.8 L385.7,274.0 L387.2,277.2 L387.2,277.2 L387.9,273.6 L387.3,270.2 L387.1,266.6 L385.6,263.3 L384.4,260.0 L382.5,256.9 L380.3,253.9Z" fill="#fff" opacity="0.55"/>
<path d="M327.0,435.6 L321.8,437.2 L316.8,439.4 L311.5,440.9 L306.1,442.3 L300.8,444.4 L295.2,445.7 L289.6,447.4 L289.6,447.4 L295.5,447.0 L301.3,446.5 L306.9,445.1 L312.3,443.4 L317.5,441.1 L322.4,438.5 L327.0,435.6Z" fill="#fff" opacity="0.64"/>
<path d="M339.6,200.7 L347.4,207.2 L354.5,214.1 L361.2,220.9 L367.2,228.2 L372.3,235.8 L376.8,243.5 L380.8,251.3 L380.8,251.3 L377.8,243.0 L373.7,234.9 L368.8,227.0 L363.0,219.4 L356.1,212.4 L348.3,206.1 L339.6,200.7Z" fill="#fff" opacity="0.72"/>
<path d="M215.6,329.7 L214.2,327.0 L212.8,324.2 L211.2,321.5 L209.6,318.8 L208.0,316.0 L206.5,313.1 L204.7,310.3 L204.7,310.3 L205.6,313.5 L206.6,316.7 L208.1,319.6 L209.5,322.5 L211.4,325.1 L213.4,327.5 L215.6,329.7Z" fill="#fff" opacity="0.47"/>
<path d="M222.9,281.3 L224.8,276.4 L225.6,271.2 L227.7,266.3 L228.8,261.1 L230.8,256.0 L232.4,250.7 L233.7,245.0 L233.7,245.0 L230.0,249.6 L227.7,254.8 L225.3,259.9 L223.5,265.2 L222.4,270.6 L222.5,276.0 L222.9,281.3Z" fill="#fff" opacity="0.66"/>
<path d="M246.3,254.2 L253.1,250.3 L260.0,246.6 L266.9,243.3 L273.9,240.3 L281.1,237.9 L288.6,236.4 L296.1,234.9 L296.1,234.9 L288.4,234.9 L280.6,235.6 L273.1,237.8 L265.8,240.9 L258.6,244.2 L252.0,248.7 L246.3,254.2Z" fill="#fff" opacity="0.47"/>
<path d="M241.0,423.6 L231.8,416.2 L223.2,408.3 L215.3,399.7 L208.5,390.3 L202.2,380.6 L196.9,370.4 L192.4,359.7 L192.4,359.7 L196.0,370.8 L201.0,381.3 L207.1,391.2 L214.3,400.6 L222.2,409.4 L231.2,417.0 L241.0,423.6Z" fill="#fff" opacity="0.41"/>
<path d="M279.6,206.3 L285.4,206.6 L291.2,206.7 L296.9,207.5 L302.5,207.8 L308.1,208.7 L313.6,209.7 L319.1,210.8 L319.1,210.8 L313.9,208.7 L308.4,207.5 L302.8,206.2 L297.0,205.7 L291.3,205.3 L285.4,205.5 L279.6,206.3Z" fill="#fff" opacity="0.60"/>
<path d="M186.3,243.0 L195.8,234.6 L205.2,226.3 L215.2,219.3 L225.8,213.4 L236.4,208.1 L247.1,203.0 L258.2,198.9 L258.2,198.9 L246.5,201.1 L235.1,205.1 L223.8,209.7 L213.1,216.2 L203.3,224.1 L194.2,232.9 L186.3,243.0Z" fill="#fff" opacity="0.50"/>
<path d="M216.4,336.2 L216.6,328.5 L216.9,321.0 L217.8,313.6 L219.6,306.4 L221.3,299.3 L223.6,292.4 L226.1,285.5 L226.1,285.5 L222.3,291.8 L219.4,298.7 L217.1,305.8 L215.9,313.3 L214.8,320.9 L215.4,328.6 L216.4,336.2Z" fill="#fff" opacity="0.67"/>
<path d="M315.6,391.9 L310.1,389.6 L304.7,387.9 L299.5,386.0 L294.4,384.2 L289.7,381.7 L285.1,379.4 L280.3,377.1 L280.3,377.1 L283.9,381.0 L288.1,384.6 L293.1,387.1 L298.3,389.2 L303.8,390.8 L309.6,392.0 L315.6,391.9Z" fill="#fff" opacity="0.55"/>
<path d="M393.4,309.6 L391.8,317.8 L389.8,325.7 L387.3,333.2 L384.1,340.4 L380.5,347.3 L376.3,353.7 L371.9,359.7 L371.9,359.7 L377.1,354.2 L381.7,348.1 L385.7,341.2 L388.9,333.9 L391.2,326.0 L392.9,318.0 L393.4,309.6Z" fill="#fff" opacity="0.70"/>
<path d="M217.1,275.4 L217.0,271.9 L217.0,268.4 L216.7,264.9 L216.2,261.4 L215.3,257.8 L214.8,254.2 L214.1,250.4 L214.1,250.4 L213.2,254.2 L213.2,257.9 L213.6,261.6 L213.8,265.3 L214.8,268.8 L215.4,272.2 L217.1,275.4Z" fill="#fff" opacity="0.63"/>
<path d="M391.7,262.9 L392.1,266.5 L392.6,269.9 L393.6,273.2 L394.4,276.4 L396.0,279.5 L396.6,282.8 L398.4,285.8 L398.4,285.8 L398.6,282.4 L398.6,278.9 L397.5,275.6 L397.1,272.1 L395.6,268.9 L394.1,265.7 L391.7,262.9Z" fill="#fff" opacity="0.67"/>
<path d="M333.2,446.2 L321.7,444.7 L310.6,442.4 L299.9,439.5 L289.7,436.0 L279.9,432.0 L270.6,427.3 L261.7,422.1 L261.7,422.1 L269.7,428.8 L278.6,434.5 L288.7,438.6 L299.1,442.2 L310.1,444.9 L321.5,446.3 L333.2,446.2Z" fill="#fff" opacity="0.63"/>
<path d="M389.6,183.0 L395.2,191.9 L400.0,200.9 L404.1,209.9 L407.9,218.9 L411.0,227.9 L413.7,236.8 L415.8,245.7 L415.8,245.7 L414.8,236.6 L412.9,227.4 L409.8,218.2 L406.0,209.1 L401.7,199.9 L396.1,191.3 L389.6,183.0Z" fill="#fff" opacity="0.42"/>
<path d="M209.2,283.3 L212.8,276.4 L216.6,269.6 L221.0,263.2 L225.0,256.6 L229.7,250.5 L234.8,244.6 L239.9,238.6 L239.9,238.6 L233.3,243.2 L227.4,248.5 L222.4,254.7 L217.9,261.3 L214.0,268.2 L211.0,275.5 L209.2,283.3Z" fill="#fff" opacity="0.68"/>
<path d="M344.3,399.0 L338.7,401.7 L333.3,404.6 L327.5,407.0 L321.7,409.4 L315.6,411.4 L309.4,413.1 L303.0,414.8 L303.0,414.8 L309.6,414.3 L316.0,412.9 L322.2,411.1 L328.4,409.1 L334.1,406.3 L339.4,402.9 L344.3,399.0Z" fill="#fff" opacity="0.66"/>
<path d="M222.9,300.9 L223.6,297.6 L223.6,294.3 L223.9,291.1 L224.3,287.8 L224.7,284.4 L224.7,281.0 L224.6,277.5 L224.6,277.5 L223.2,280.7 L222.2,284.1 L221.7,287.5 L221.5,290.9 L221.6,294.3 L222.0,297.7 L222.9,300.9Z" fill="#fff" opacity="0.56"/>
<path d="M340.4,420.2 L334.5,419.7 L328.8,419.4 L323.1,419.0 L317.5,418.5 L312.0,417.6 L306.6,417.1 L301.1,416.4 L301.1,416.4 L306.1,418.8 L311.6,420.2 L317.2,421.2 L322.9,422.1 L328.7,422.0 L334.6,421.4 L340.4,420.2Z" fill="#fff" opacity="0.70"/>
<path d="M182.7,288.2 L184.6,276.3 L187.1,264.4 L190.8,252.6 L195.3,240.8 L201.1,229.4 L207.5,218.0 L215.1,207.0 L215.1,207.0 L206.1,217.0 L198.6,228.0 L192.8,239.7 L188.0,251.7 L184.5,263.8 L182.8,276.1 L182.7,288.2Z" fill="#fff" opacity="0.59"/>
<path d="M301.3,205.7 L307.6,206.8 L313.9,207.7 L320.1,208.5 L326.2,209.6 L332.4,210.4 L338.6,211.7 L344.9,212.8 L344.9,212.8 L339.2,209.6 L333.1,207.6 L326.9,206.1 L320.5,205.0 L314.1,204.7 L307.7,204.4 L301.3,205.7Z" fill="#fff" opacity="0.60"/>
<path d="M246.2,240.8 L253.3,237.2 L260.4,233.9 L267.5,230.6 L275.0,228.3 L282.5,226.6 L290.1,225.1 L297.7,224.0 L297.7,224.0 L290.0,223.9 L282.2,224.8 L274.5,226.6 L266.9,228.9 L259.7,232.2 L252.7,236.1 L246.2,240.8Z" fill="#fff" opacity="0.61"/>
<path d="M283.5,201.7 L292.6,201.2 L301.7,201.2 L310.8,201.4 L319.8,202.6 L328.8,203.9 L337.5,206.1 L346.3,208.7 L346.3,208.7 L337.8,205.2 L329.1,202.4 L320.1,200.8 L310.9,199.7 L301.7,199.5 L292.5,200.2 L283.5,201.7Z" fill="#fff" opacity="0.61"/>
<path d="M224.7,348.5 L221.3,343.1 L217.9,337.6 L214.3,332.1 L212.0,325.7 L208.5,319.8 L206.1,313.1 L203.4,306.3 L203.4,306.3 L204.2,313.7 L206.3,320.6 L208.8,327.2 L212.1,333.3 L215.4,339.2 L219.7,344.4 L224.7,348.5Z" fill="#fff" opacity="0.39"/>
<path d="M218.5,332.0 L218.5,326.7 L218.3,321.5 L218.5,316.3 L218.5,311.1 L218.9,305.9 L219.5,300.7 L219.7,295.4 L219.7,295.4 L217.9,300.4 L216.5,305.6 L215.6,310.9 L215.8,316.3 L216.1,321.6 L216.7,326.9 L218.5,332.0Z" fill="#fff" opacity="0.58"/>
<path d="M186.8,285.8 L187.6,275.4 L188.6,264.8 L190.1,254.1 L193.0,243.4 L196.5,232.6 L200.6,221.7 L205.7,210.9 L205.7,210.9 L199.1,221.0 L194.0,231.7 L190.3,242.6 L187.5,253.6 L186.4,264.6 L185.8,275.3 L186.8,285.8Z" fill="#fff" opacity="0.40"/>
<path d="M426.3,229.3 L431.3,241.6 L435.4,254.0 L438.3,266.5 L440.5,279.0 L441.4,291.5 L441.1,303.8 L440.2,316.0 L440.2,316.0 L442.1,303.9 L442.6,291.5 L441.8,278.9 L440.0,266.2 L436.7,253.6 L432.2,241.2 L426.3,229.3Z" fill="#fff" opacity="0.66"/>
<path d="M296.6,436.5 L291.7,432.6 L286.9,428.7 L282.4,424.7 L278.4,420.4 L274.3,416.3 L270.6,412.1 L267.1,407.8 L267.1,407.8 L270.0,412.6 L273.2,417.3 L277.1,421.6 L281.5,425.7 L286.2,429.6 L291.1,433.4 L296.6,436.5Z" fill="#fff" opacity="0.60"/>
<path d="M337.4,193.1 L343.5,194.9 L349.7,196.1 L355.9,197.5 L362.0,199.5 L368.1,201.3 L374.4,203.0 L380.7,205.0 L380.7,205.0 L374.9,201.7 L369.1,198.6 L362.7,196.9 L356.6,194.7 L350.2,193.8 L343.8,193.2 L337.4,193.1Z" fill="#fff" opacity="0.63"/>
<path d="M208.8,286.6 L211.6,280.8 L214.0,274.9 L216.5,269.1 L219.7,263.6 L222.7,257.9 L226.1,252.4 L229.3,246.7 L229.3,246.7 L224.6,251.4 L220.6,256.6 L217.3,262.2 L213.7,267.8 L211.7,274.0 L209.6,280.1 L208.8,286.6Z" fill="#fff" opacity="0.71"/>
<path d="M369.3,198.2 L374.4,201.5 L379.5,204.7 L384.6,207.9 L389.8,211.1 L394.8,214.6 L399.7,218.2 L404.7,221.8 L404.7,221.8 L400.7,217.0 L396.0,212.9 L391.0,209.3 L385.9,205.9 L380.6,202.9 L375.1,200.2 L369.3,198.2Z" fill="#fff" opacity="0.57"/>
<path d="M181.3,278.1 L185.1,273.2 L188.7,268.3 L192.5,263.6 L196.4,259.0 L200.5,254.8 L204.5,250.5 L208.6,246.3 L208.6,246.3 L203.8,249.8 L199.5,253.8 L195.2,257.9 L191.3,262.6 L187.6,267.5 L184.3,272.6 L181.3,278.1Z" fill="#fff" opacity="0.72"/>
<path d="M380.5,231.8 L387.1,240.3 L393.2,249.0 L398.8,257.9 L403.3,267.4 L407.2,277.0 L410.4,286.9 L413.3,296.9 L413.3,296.9 L412.1,286.5 L410.0,276.1 L406.3,266.0 L400.9,256.7 L395.2,247.6 L388.5,239.1 L380.5,231.8Z" fill="#fff" opacity="0.74"/>
<path d="M239.2,223.7 L242.9,224.2 L246.4,225.0 L250.0,224.7 L253.4,225.1 L256.8,225.6 L260.3,225.3 L263.7,225.2 L263.7,225.2 L260.5,223.9 L257.1,222.9 L253.7,222.3 L250.1,221.9 L246.5,222.1 L242.8,222.5 L239.2,223.7Z" fill="#fff" opacity="0.69"/>
<path d="M226.1,395.5 L221.5,386.1 L217.2,376.7 L214.1,367.1 L212.0,357.4 L210.3,347.9 L209.7,338.4 L209.4,329.0 L209.4,329.0 L208.0,338.4 L208.5,348.1 L209.6,357.9 L212.1,367.7 L215.4,377.4 L220.0,386.8 L226.1,395.5Z" fill="#fff" opacity="0.61"/>
<path d="M192.0,224.0 C196.0,219.2 200.3,213.2 205.0,209.0 C209.7,204.8 214.2,201.7 220.0,198.5 C225.8,195.3 233.2,192.1 240.0,190.0 C246.8,187.9 254.2,186.8 261.0,186.0 C267.8,185.2 273.5,184.8 281.0,185.0 C288.5,185.2 298.2,187.0 306.0,187.0 C313.8,187.0 322.7,186.7 328.0,185.0 C333.3,183.3 334.3,178.7 338.0,177.0 C341.7,175.3 346.3,173.3 350.0,175.0 C353.7,176.7 356.3,183.0 360.0,187.0 C363.7,191.0 366.0,196.7 372.0,199.0 C378.0,201.3 387.3,200.2 396.0,201.0 C404.7,201.8 417.5,202.0 424.0,204.0 C430.5,206.0 433.3,210.5 435.0,213.0 C436.7,215.5 432.7,215.5 434.0,219.0 C435.3,222.5 440.5,228.3 443.0,234.0 C445.5,239.7 447.2,245.3 449.0,253.0 C450.8,260.7 452.3,271.3 454.0,280.0 C455.7,288.7 458.2,297.2 459.0,305.0 C459.8,312.8 460.7,319.0 459.0,327.0 C457.3,335.0 451.5,344.2 449.0,353.0 C446.5,361.8 446.8,370.8 444.0,380.0 C441.2,389.2 436.0,401.7 432.0,408.0 C428.0,414.3 423.7,414.7 420.0,418.0 C416.3,421.3 413.3,426.3 410.0,428.0 C406.7,429.7 403.0,427.3 400.0,428.0 C397.0,428.7 394.3,430.5 392.0,432.0 C389.7,433.5 389.7,435.5 386.0,437.0 C382.3,438.5 379.3,439.2 370.0,441.0 C360.7,442.8 343.3,447.3 330.0,448.0 C316.7,448.7 298.3,444.7 290.0,445.0 C281.7,445.3 284.0,448.0 280.0,450.0 C276.0,452.0 271.7,457.2 266.0,457.0 C260.3,456.8 252.3,452.3 246.0,449.0 C239.7,445.7 234.2,441.0 228.0,437.0 C221.8,433.0 215.7,428.8 209.0,425.0 C202.3,421.2 192.8,417.8 188.0,414.0 C183.2,410.2 182.3,406.3 180.0,402.0 C177.7,397.7 176.3,392.7 174.0,388.0 C171.7,383.3 168.8,379.8 166.0,374.0 C163.2,368.2 159.2,360.8 157.0,353.0 C154.8,345.2 153.2,335.0 153.0,327.0 C152.8,319.0 154.8,312.3 156.0,305.0 C157.2,297.7 158.3,289.5 160.0,283.0 C161.7,276.5 163.8,271.2 166.0,266.0 C168.2,260.8 170.5,256.7 173.0,252.0 C175.5,247.3 177.8,242.7 181.0,238.0 C184.2,233.3 188.0,228.8 192.0,224.0Z" fill="none" stroke="#fff" stroke-opacity="0.3" stroke-width="12"/>

</g>
<g fill="#00aeef">
<path d="M330,190 L336,180 L341,176 L346,172 L350,175 L352,181 L358,186 L345,192Z" opacity="0.45"/>
<path d="M385,204 L405,203 L425,205 L437,213 L432,216 L415,214 L395,212Z" opacity="0.4"/>
<path d="M420,222 L436,228 L445,226 L447,236 L449,250 L440,245 L428,235Z" opacity="0.35"/>
<path d="M452,262 L458,270 L461,290 L459,300 L455,285Z" opacity="0.35"/>
<path d="M182,404 L200,415 L225,428 L248,441 L262,452 L250,449 L225,436 L200,423 L185,412Z" opacity="0.3"/>
<path d="M160,288 L156,300 L153,320 L154,345 L158,360 L156,340 L155,315 L157,298Z" opacity="0.3"/>
<path d="M196,217 L210,205 L230,195 L250,189 L240,195 L220,203 L205,212Z" opacity="0.3"/>
</g>
<path d="M287.0,475.0 C268.3,470.0 286.7,453.0 286.0,446.0 C285.3,439.0 284.2,436.7 283.0,433.0 C281.8,429.3 280.5,427.2 279.0,424.0 C277.5,420.8 276.2,417.2 274.0,414.0 C271.8,410.8 269.2,407.3 266.0,405.0 C262.8,402.7 258.8,401.7 255.0,400.0 C251.2,398.3 246.3,397.0 243.0,395.0 C239.7,393.0 236.7,390.5 235.0,388.0 C233.3,385.5 233.1,382.7 233.0,380.0 C232.9,377.3 234.7,374.3 234.5,372.0 C234.3,369.7 232.2,367.7 232.0,366.0 C231.8,364.3 233.8,363.4 233.5,362.0 C233.2,360.6 230.4,359.0 230.0,357.5 C229.6,356.0 230.6,354.8 231.0,353.0 C231.4,351.2 232.8,348.9 232.5,347.0 C232.2,345.1 230.4,343.3 229.0,341.5 C227.6,339.7 224.8,337.4 224.0,336.0 C223.2,334.6 223.2,334.5 224.0,333.0 C224.8,331.5 227.2,329.3 229.0,327.0 C230.8,324.7 233.0,322.0 235.0,319.0 C237.0,316.0 239.4,312.3 241.0,309.0 C242.6,305.7 243.3,302.7 244.5,299.0 C245.7,295.3 246.8,290.7 248.0,287.0 C249.2,283.3 249.7,281.1 252.0,277.0 C254.3,272.9 257.7,267.3 262.0,262.5 C266.3,257.7 272.2,252.0 278.0,248.0 C283.8,244.0 289.9,241.0 296.5,238.6 C303.1,236.2 311.0,234.5 317.6,233.8 C324.2,233.1 329.8,233.4 336.0,234.6 C342.2,235.8 349.2,238.3 355.0,241.2 C360.8,244.2 366.2,247.5 371.0,252.0 C375.8,256.5 380.9,262.7 384.0,268.0 C387.1,273.3 388.2,278.7 389.4,284.0 C390.6,289.3 391.2,294.3 391.0,300.0 C390.8,305.7 389.5,313.0 388.0,318.0 C386.5,323.0 384.5,326.3 382.0,330.0 C379.5,333.7 376.0,336.7 373.0,340.0 C370.0,343.3 366.7,346.3 364.0,350.0 C361.3,353.7 358.5,356.3 357.0,362.0 C355.5,367.7 355.0,378.5 355.0,384.0 C355.0,389.5 355.8,391.3 357.0,395.0 C358.2,398.7 360.2,402.2 362.0,406.0 C363.8,409.8 365.7,414.4 368.0,418.0 C370.3,421.6 373.5,424.9 376.0,427.5 C378.5,430.1 380.7,431.4 383.0,433.5 C385.3,435.6 387.5,432.9 390.0,440.0 C392.5,447.1 415.2,470.2 398.0,476.0 C380.8,481.8 305.7,480.0 287.0,475.0Z" fill="#fff"/>
<g>
<ellipse cx="316" cy="301" rx="49" ry="44" fill="#ef5a22"/>
<path d="M314.4,273.2 L319.6,274.3 L324.6,275.4 L329.1,277.6 L333.3,280.1 L337.3,282.8 L340.8,286.1 L344.2,289.6 L344.2,289.6 L342.4,284.9 L339.1,280.8 L335.1,277.3 L330.5,274.4 L325.3,272.7 L319.8,272.6 L314.4,273.2Z" fill="#fbb040"/>
<path d="M339.1,293.3 L339.4,296.7 L339.5,299.9 L338.9,303.0 L338.6,306.1 L337.6,309.2 L336.2,312.1 L334.8,315.3 L334.8,315.3 L337.7,313.1 L340.3,310.4 L342.0,307.1 L342.6,303.4 L342.0,299.7 L341.0,296.3 L339.1,293.3Z" fill="#f7941d"/>
<path d="M316.5,323.3 L313.3,321.8 L310.3,320.4 L307.4,319.4 L304.5,318.5 L301.7,317.2 L298.9,315.8 L296.0,314.2 L296.0,314.2 L297.4,317.4 L299.5,320.4 L302.8,321.8 L306.0,323.3 L309.5,324.0 L313.0,324.5 L316.5,323.3Z" fill="#662d91"/>
<path d="M286.5,318.3 L285.8,315.4 L285.2,312.7 L284.7,310.0 L283.8,307.6 L282.9,305.2 L282.1,302.6 L280.8,299.9 L280.8,299.9 L280.0,302.7 L279.5,305.7 L279.7,308.7 L281.2,311.3 L282.2,314.1 L283.8,316.6 L286.5,318.3Z" fill="#0072bc"/>
<path d="M340.4,327.1 L335.3,329.0 L330.3,330.6 L325.3,332.6 L320.0,332.8 L314.7,333.5 L309.2,333.8 L303.7,333.3 L303.7,333.3 L308.9,335.8 L314.6,336.9 L320.3,336.3 L326.1,335.7 L331.5,333.8 L336.4,331.0 L340.4,327.1Z" fill="#f7941d"/>
<path d="M360.9,302.3 L358.3,308.7 L355.4,314.6 L351.1,319.5 L347.6,324.8 L342.7,329.3 L337.9,334.6 L331.8,338.8 L331.8,338.8 L339.7,338.0 L346.1,333.8 L352.7,329.7 L357.5,323.7 L361.0,317.0 L361.5,309.4 L360.9,302.3Z" fill="#f7941d"/>
<path d="M333.1,297.2 L332.2,299.5 L332.4,301.4 L331.4,303.3 L330.9,305.1 L330.6,307.0 L329.9,309.0 L329.3,311.3 L329.3,311.3 L331.5,310.2 L333.6,308.6 L334.1,306.2 L335.1,304.0 L335.2,301.5 L334.4,299.2 L333.1,297.2Z" fill="#f26522"/>
<path d="M330.7,339.0 L322.1,339.7 L313.6,339.0 L305.5,337.4 L297.7,335.2 L290.6,331.4 L283.9,327.0 L277.7,321.8 L277.7,321.8 L282.0,328.9 L288.5,334.5 L296.1,338.8 L304.3,342.5 L313.4,343.5 L322.4,342.1 L330.7,339.0Z" fill="#0072bc"/>
<path d="M326.3,316.9 L324.4,316.6 L322.7,316.5 L321.2,316.9 L319.6,316.6 L318.1,316.9 L316.7,318.3 L315.0,319.4 L315.0,319.4 L316.7,320.6 L318.5,320.8 L320.5,321.5 L322.2,320.5 L323.7,319.5 L325.4,318.9 L326.3,316.9Z" fill="#c1161c"/>
<path d="M282.8,283.1 L286.8,279.7 L290.7,276.3 L295.1,273.6 L299.8,271.4 L304.7,269.6 L309.8,267.5 L315.2,266.2 L315.2,266.2 L309.5,265.6 L303.9,266.6 L298.4,268.2 L293.1,270.4 L289.1,274.3 L285.5,278.4 L282.8,283.1Z" fill="#00a651"/>
<path d="M309.0,318.1 L306.7,315.7 L304.9,313.3 L302.9,311.6 L301.1,309.7 L299.5,307.6 L297.8,305.5 L295.9,303.1 L295.9,303.1 L295.1,306.3 L295.2,309.8 L296.7,312.9 L299.0,315.5 L302.0,317.3 L305.3,318.6 L309.0,318.1Z" fill="#f7941d"/>
<path d="M348.0,311.8 L343.7,316.3 L339.0,319.9 L334.6,323.8 L328.6,325.0 L323.2,328.0 L317.2,329.9 L310.6,331.4 L310.6,331.4 L317.3,333.6 L324.3,333.1 L331.6,332.4 L338.2,329.4 L342.9,323.9 L346.9,318.5 L348.0,311.8Z" fill="#e3211b"/>
<path d="M299.3,311.3 L298.7,308.7 L299.1,306.0 L297.9,304.0 L297.8,301.8 L297.3,299.6 L297.9,297.4 L297.0,294.5 L297.0,294.5 L294.8,296.6 L293.6,299.2 L293.5,302.1 L294.0,304.9 L294.9,307.6 L296.9,309.7 L299.3,311.3Z" fill="#27aae1"/>
<path d="M345.1,302.5 L343.1,304.0 L342.9,305.7 L341.1,306.9 L341.7,308.9 L341.3,310.5 L340.8,312.2 L341.0,314.4 L341.0,314.4 L343.3,313.6 L345.0,312.2 L346.6,310.7 L347.0,308.7 L346.8,306.6 L346.4,304.5 L345.1,302.5Z" fill="#f7941d"/>
<path d="M348.4,328.0 L344.5,329.7 L341.3,332.0 L337.7,333.7 L334.0,335.2 L330.1,336.3 L326.5,338.3 L322.6,340.3 L322.6,340.3 L327.1,341.1 L331.4,340.1 L335.4,338.6 L339.3,336.8 L342.8,334.3 L346.0,331.5 L348.4,328.0Z" fill="#8dc63f"/>
<path d="M296.1,298.2 L298.8,295.9 L300.0,293.4 L302.1,291.6 L304.2,289.8 L306.5,288.2 L308.8,286.2 L311.3,283.3 L311.3,283.3 L307.4,282.5 L303.6,283.2 L300.5,285.3 L298.1,288.1 L296.1,291.1 L295.3,294.6 L296.1,298.2Z" fill="#e3211b"/>
<path d="M291.0,325.8 L290.0,321.7 L287.5,319.4 L285.9,316.4 L285.7,312.9 L283.9,310.3 L281.9,307.6 L279.0,304.8 L279.0,304.8 L277.8,308.6 L278.3,312.4 L279.6,315.9 L281.4,319.3 L283.3,322.8 L286.9,324.7 L291.0,325.8Z" fill="#27aae1"/>
<path d="M310.8,308.3 L310.6,306.4 L309.8,305.5 L309.2,304.6 L308.7,303.8 L308.2,302.9 L308.1,301.8 L306.4,300.8 L306.4,300.8 L305.1,302.3 L305.0,303.8 L305.1,305.5 L306.2,306.8 L307.1,308.2 L309.0,308.4 L310.8,308.3Z" fill="#f7941d"/>
<path d="M274.7,290.2 L277.5,286.9 L279.4,283.4 L282.4,280.6 L284.6,277.2 L287.4,274.2 L290.6,271.5 L293.5,268.0 L293.5,268.0 L289.2,269.5 L285.1,271.6 L281.9,274.7 L278.7,277.8 L276.9,281.9 L275.3,285.9 L274.7,290.2Z" fill="#00a651"/>
<path d="M289.5,276.6 L295.1,274.5 L300.3,272.3 L306.0,271.6 L311.5,270.2 L317.1,269.3 L323.0,268.9 L329.2,269.0 L329.2,269.0 L323.7,265.4 L317.3,263.3 L310.7,263.5 L304.5,266.0 L298.0,267.0 L293.3,271.7 L289.5,276.6Z" fill="#ffde17"/>
<path d="M327.9,304.4 L325.6,305.6 L324.0,306.8 L321.5,306.6 L320.7,308.9 L318.6,308.5 L316.9,310.5 L314.5,312.1 L314.5,312.1 L317.2,314.7 L320.3,315.1 L322.7,313.1 L325.8,312.6 L327.8,310.4 L328.9,307.6 L327.9,304.4Z" fill="#ec008c"/>
<path d="M315.6,294.5 L316.3,295.8 L316.9,296.2 L317.5,296.4 L318.0,296.8 L318.6,296.9 L319.3,296.9 L320.7,296.0 L320.7,296.0 L320.9,294.3 L320.5,292.9 L319.6,292.4 L318.7,291.7 L317.5,292.5 L316.4,293.3 L315.6,294.5Z" fill="#fff200"/>
<path d="M337.5,308.1 L333.8,310.3 L331.3,312.8 L328.3,314.9 L325.3,317.2 L321.6,318.0 L317.9,319.1 L313.8,321.5 L313.8,321.5 L318.3,323.9 L322.9,323.0 L327.5,321.9 L331.9,320.1 L335.5,317.1 L337.3,312.7 L337.5,308.1Z" fill="#ed1c24"/>
<path d="M321.2,317.8 L317.2,315.9 L313.9,315.3 L310.7,314.9 L307.6,313.8 L305.2,311.7 L302.0,310.5 L298.7,308.8 L298.7,308.8 L299.5,312.7 L301.2,316.9 L304.9,319.1 L309.2,319.8 L313.3,321.4 L317.5,320.4 L321.2,317.8Z" fill="#662d91"/>
<path d="M323.4,273.7 L325.3,275.8 L327.4,276.5 L329.2,278.0 L331.1,279.1 L332.9,280.3 L335.2,280.7 L337.9,281.0 L337.9,281.0 L336.7,278.7 L335.6,276.1 L333.3,275.0 L330.9,274.3 L328.6,273.2 L326.0,273.3 L323.4,273.7Z" fill="#27aae1"/>
<path d="M308.7,304.6 L310.4,303.0 L310.5,302.6 L312.1,301.7 L311.4,301.6 L311.4,301.3 L309.7,301.0 L307.7,300.4 L307.7,300.4 L306.1,301.1 L304.4,302.0 L305.0,302.8 L304.6,303.8 L305.8,304.4 L306.3,305.0 L308.7,304.6Z" fill="#f7941d"/>
<path d="M291.9,302.6 L292.9,299.2 L294.2,296.1 L295.4,293.0 L297.4,290.4 L299.4,287.7 L301.6,284.9 L304.2,282.0 L304.2,282.0 L300.3,283.1 L297.2,285.4 L294.5,288.3 L292.1,291.4 L290.4,295.0 L290.9,299.0 L291.9,302.6Z" fill="#00a99d"/>
<path d="M336.2,288.1 L335.8,290.5 L336.0,292.3 L336.2,293.9 L337.4,295.1 L337.7,296.6 L338.1,298.1 L340.7,299.4 L340.7,299.4 L343.1,297.2 L342.6,295.3 L343.3,293.0 L341.5,291.5 L341.0,289.5 L338.6,288.6 L336.2,288.1Z" fill="#ec008c"/>
<path d="M284.9,301.1 L286.2,298.2 L288.1,295.7 L288.4,292.8 L289.6,290.2 L291.3,288.0 L292.5,285.2 L293.4,281.8 L293.4,281.8 L290.4,283.4 L287.0,285.1 L286.0,288.4 L283.6,291.1 L283.6,294.6 L283.8,297.9 L284.9,301.1Z" fill="#c1161c"/>
<path d="M290.6,293.9 L293.1,291.6 L295.9,289.8 L298.3,288.2 L299.8,285.5 L302.1,283.7 L304.3,281.0 L306.9,278.5 L306.9,278.5 L302.9,278.0 L299.2,279.0 L295.8,280.7 L293.6,283.8 L292.0,287.1 L290.1,290.0 L290.6,293.9Z" fill="#c1161c"/>
<path d="M303.4,269.7 L309.1,269.8 L314.6,270.0 L319.9,269.9 L325.0,271.7 L330.5,271.9 L335.2,274.5 L340.6,276.1 L340.6,276.1 L336.7,271.9 L331.8,268.7 L326.1,267.3 L320.3,266.4 L314.4,265.5 L308.5,266.6 L303.4,269.7Z" fill="#ffde17"/>
<path d="M309.4,331.2 L305.7,328.4 L302.5,325.4 L299.4,323.1 L296.0,321.4 L292.6,319.6 L289.3,317.4 L285.6,315.1 L285.6,315.1 L286.0,319.9 L288.5,323.6 L292.1,326.4 L295.9,329.0 L299.6,332.1 L304.7,331.8 L309.4,331.2Z" fill="#ffde17"/>
<path d="M324.5,316.9 L320.9,316.9 L317.5,315.9 L314.4,316.4 L311.5,315.2 L308.2,315.3 L305.1,314.3 L301.9,313.2 L301.9,313.2 L303.6,316.8 L306.8,318.6 L310.1,321.0 L314.0,321.4 L318.0,321.4 L321.5,319.2 L324.5,316.9Z" fill="#00a99d"/>
<path d="M308.4,288.3 L310.7,288.9 L312.7,289.5 L314.4,288.9 L316.2,288.6 L317.9,289.4 L319.7,289.0 L322.1,287.6 L322.1,287.6 L320.6,285.1 L318.4,284.9 L316.2,284.4 L313.8,283.5 L311.5,284.0 L309.7,286.0 L308.4,288.3Z" fill="#fbb040"/>
<path d="M294.1,328.9 L290.6,324.6 L287.7,320.2 L285.1,316.0 L282.3,312.0 L281.0,307.4 L279.6,302.7 L278.3,297.6 L278.3,297.6 L276.4,302.9 L277.4,308.2 L278.0,313.8 L281.1,318.5 L284.7,322.8 L288.9,326.5 L294.1,328.9Z" fill="#27aae1"/>
<path d="M343.2,274.9 L345.9,280.3 L348.8,285.0 L350.6,289.9 L352.6,294.7 L353.4,299.9 L353.0,305.1 L354.2,310.9 L354.2,310.9 L357.3,305.6 L359.2,299.7 L358.7,293.4 L356.9,287.4 L353.4,282.1 L348.8,277.8 L343.2,274.9Z" fill="#92278f"/>
<path d="M289.7,296.6 L292.5,295.3 L292.8,293.4 L294.6,292.2 L296.2,291.1 L295.9,288.6 L296.9,286.9 L297.0,284.1 L297.0,284.1 L294.0,284.3 L291.2,285.0 L289.6,286.8 L288.8,289.2 L288.2,291.5 L288.9,294.2 L289.7,296.6Z" fill="#92278f"/>
<path d="M307.0,279.9 L311.1,280.1 L314.9,279.8 L318.7,279.9 L322.4,281.0 L326.1,281.7 L329.7,283.0 L333.3,284.6 L333.3,284.6 L330.8,281.2 L327.4,278.6 L323.3,277.5 L319.1,276.3 L314.8,277.2 L310.7,277.9 L307.0,279.9Z" fill="#27aae1"/>
<path d="M283.5,284.7 L287.7,281.4 L291.8,278.2 L295.9,275.0 L300.7,272.7 L305.6,270.3 L310.9,268.8 L316.5,267.5 L316.5,267.5 L310.6,266.9 L304.8,267.6 L299.1,269.0 L294.0,271.9 L289.6,275.6 L285.6,279.5 L283.5,284.7Z" fill="#27aae1"/>
<path d="M334.9,282.2 L336.0,284.9 L337.5,286.9 L338.8,289.0 L340.3,290.9 L340.6,293.4 L342.1,295.4 L343.9,297.5 L343.9,297.5 L344.5,294.7 L344.1,292.0 L342.9,289.5 L341.6,287.1 L340.2,284.7 L337.7,283.2 L334.9,282.2Z" fill="#e3211b"/>
<path d="M295.0,282.4 L297.9,282.1 L300.1,281.2 L302.4,280.5 L304.7,280.1 L306.7,278.9 L308.5,276.9 L310.7,274.9 L310.7,274.9 L307.7,273.5 L305.0,274.0 L302.1,274.0 L299.8,275.7 L298.0,277.8 L296.2,279.8 L295.0,282.4Z" fill="#f7941d"/>
<path d="M308.4,302.2 L310.6,301.4 L310.6,301.0 L311.9,300.7 L311.5,300.3 L311.2,299.9 L311.1,299.4 L309.2,297.8 L309.2,297.8 L307.2,297.7 L305.3,297.9 L304.8,298.9 L305.1,299.9 L305.0,300.9 L305.9,301.8 L308.4,302.2Z" fill="#ed1c24"/>
<path d="M326.2,299.1 L325.5,300.4 L325.2,301.4 L324.5,302.4 L324.4,303.3 L324.6,304.6 L323.9,305.4 L324.0,307.0 L324.0,307.0 L325.7,306.7 L326.7,305.7 L327.6,304.5 L327.9,303.1 L328.0,301.6 L327.3,300.2 L326.2,299.1Z" fill="#ec008c"/>
<path d="M298.0,316.1 L296.8,312.8 L295.1,310.2 L294.1,307.3 L294.1,304.2 L293.5,301.4 L292.4,298.4 L292.3,295.1 L292.3,295.1 L290.7,298.1 L289.4,301.5 L290.0,305.0 L290.7,308.5 L292.7,311.5 L294.7,314.5 L298.0,316.1Z" fill="#662d91"/>
<path d="M291.6,323.2 L290.3,319.5 L289.5,315.9 L287.5,313.5 L285.4,310.9 L285.1,307.7 L283.7,304.7 L281.3,301.6 L281.3,301.6 L279.8,305.3 L278.9,309.3 L279.7,313.2 L281.9,316.5 L284.0,319.9 L288.0,321.6 L291.6,323.2Z" fill="#fff200"/>
<path d="M300.8,267.1 L306.4,267.1 L311.7,266.4 L317.1,266.7 L322.2,268.1 L327.6,267.9 L332.5,269.7 L338.2,270.3 L338.2,270.3 L333.8,266.7 L328.8,263.6 L323.0,262.7 L317.2,261.9 L311.4,262.8 L305.8,264.2 L300.8,267.1Z" fill="#ed1c24"/>
<path d="M310.9,316.6 L309.2,314.6 L307.3,313.5 L305.8,311.9 L304.4,310.5 L303.1,309.1 L300.9,308.2 L299.1,306.7 L299.1,306.7 L298.8,309.4 L299.5,311.9 L301.2,313.9 L303.3,315.4 L305.5,316.7 L308.3,316.9 L310.9,316.6Z" fill="#662d91"/>
<path d="M329.8,314.1 L327.3,314.4 L324.7,314.1 L322.9,315.1 L320.9,315.3 L319.1,317.0 L316.9,317.7 L314.6,319.0 L314.6,319.0 L317.0,320.7 L319.7,321.1 L322.4,321.1 L324.9,320.2 L327.3,319.1 L328.8,316.6 L329.8,314.1Z" fill="#662d91"/>
<path d="M329.0,315.6 L325.8,315.7 L323.2,316.4 L320.4,316.2 L317.8,316.6 L315.2,317.0 L312.4,317.8 L309.3,318.7 L309.3,318.7 L312.0,320.4 L315.0,321.7 L318.3,322.1 L321.4,320.9 L324.6,320.3 L327.2,318.3 L329.0,315.6Z" fill="#662d91"/>
<path d="M325.4,310.3 L323.5,309.5 L322.6,309.6 L322.0,310.3 L321.1,310.5 L320.3,311.0 L319.7,312.0 L318.9,313.3 L318.9,313.3 L320.3,314.3 L321.5,314.5 L322.5,313.9 L324.1,314.6 L324.8,313.2 L325.4,312.1 L325.4,310.3Z" fill="#e3211b"/>
<path d="M332.5,292.4 L332.1,295.2 L332.3,297.3 L332.3,299.4 L331.9,301.3 L332.9,303.3 L332.2,305.3 L333.3,308.1 L333.3,308.1 L336.1,306.6 L337.4,304.1 L338.1,301.4 L338.3,298.6 L337.1,296.0 L335.2,293.8 L332.5,292.4Z" fill="#00a651"/>
<path d="M286.4,327.4 L284.5,322.7 L282.2,318.9 L280.4,314.9 L278.9,310.9 L277.0,307.0 L275.5,302.8 L274.5,298.4 L274.5,298.4 L272.8,303.0 L272.7,307.9 L274.3,312.5 L275.6,317.2 L278.4,321.4 L281.8,325.0 L286.4,327.4Z" fill="#f7941d"/>
<path d="M309.5,279.1 L312.6,280.6 L315.3,280.8 L317.9,281.0 L320.5,281.5 L323.0,282.1 L325.9,281.8 L329.0,281.6 L329.0,281.6 L327.1,278.9 L324.4,277.2 L321.4,276.4 L318.3,275.9 L315.1,275.9 L312.0,276.5 L309.5,279.1Z" fill="#f7941d"/>
<path d="M332.3,299.2 L331.6,301.2 L331.2,302.9 L330.3,304.5 L329.7,306.1 L329.0,307.8 L328.3,309.5 L327.5,311.5 L327.5,311.5 L329.6,310.7 L331.5,309.4 L332.7,307.5 L332.9,305.3 L333.3,303.2 L333.1,301.2 L332.3,299.2Z" fill="#27aae1"/>
<path d="M300.5,337.9 L293.6,333.6 L288.0,328.2 L282.4,323.3 L279.3,316.7 L276.1,310.4 L273.9,303.7 L272.5,296.3 L272.5,296.3 L271.0,303.9 L271.0,311.9 L274.3,319.4 L279.3,325.9 L284.7,332.2 L292.4,335.7 L300.5,337.9Z" fill="#f7941d"/>
<path d="M308.2,294.2 L309.8,294.3 L310.9,293.9 L312.1,293.9 L313.0,292.9 L314.2,292.6 L315.3,292.3 L316.6,291.2 L316.6,291.2 L315.2,290.5 L313.7,290.3 L312.1,289.8 L310.8,290.7 L309.6,291.6 L308.6,292.7 L308.2,294.2Z" fill="#ffde17"/>
<path d="M307.1,307.5 L307.4,305.6 L307.5,304.2 L307.3,303.2 L306.3,302.4 L306.0,301.3 L306.2,300.2 L304.8,298.7 L304.8,298.7 L303.3,299.9 L302.4,301.4 L302.9,303.0 L302.8,304.7 L303.8,306.1 L305.5,306.9 L307.1,307.5Z" fill="#ec008c"/>
<path d="M324.6,262.7 L328.2,265.2 L331.9,266.9 L334.8,269.9 L338.7,270.6 L342.0,272.5 L345.5,274.2 L349.3,275.9 L349.3,275.9 L347.8,271.6 L344.8,268.6 L341.6,265.7 L337.3,264.5 L333.4,262.8 L329.3,261.3 L324.6,262.7Z" fill="#fff200"/>
<path d="M308.2,331.6 L304.3,329.2 L300.4,327.3 L297.1,324.7 L293.7,322.5 L291.2,319.3 L287.8,317.0 L284.4,314.3 L284.4,314.3 L285.4,318.7 L288.1,322.2 L291.0,325.8 L294.3,329.3 L298.8,330.8 L303.4,331.9 L308.2,331.6Z" fill="#00a99d"/>
<path d="M345.7,276.1 L349.2,282.2 L351.5,288.4 L352.5,294.7 L353.4,300.7 L353.1,306.8 L352.2,313.1 L350.7,319.9 L350.7,319.9 L355.8,314.7 L359.1,308.0 L359.6,300.6 L358.5,293.3 L355.7,286.6 L351.5,280.6 L345.7,276.1Z" fill="#e3211b"/>
<path d="M298.4,297.6 L300.1,296.4 L301.9,295.4 L302.8,294.2 L304.3,293.5 L304.9,292.0 L305.3,290.0 L305.8,287.6 L305.8,287.6 L303.0,287.1 L301.1,288.1 L298.8,288.9 L298.1,291.2 L296.7,292.8 L297.0,295.2 L298.4,297.6Z" fill="#ffde17"/>
<path d="M311.9,306.1 L311.8,304.7 L311.4,303.9 L311.7,302.8 L310.7,302.5 L310.9,301.7 L309.9,301.0 L309.0,300.1 L309.0,300.1 L308.1,301.1 L307.3,302.4 L307.9,303.5 L308.6,304.6 L309.3,305.6 L310.4,306.2 L311.9,306.1Z" fill="#662d91"/>
<path d="M310.2,299.2 L312.4,299.5 L313.6,299.8 L313.4,299.0 L314.7,300.0 L314.7,299.1 L314.6,297.2 L315.1,295.6 L315.1,295.6 L313.6,293.4 L312.0,293.0 L310.3,293.0 L309.8,294.8 L308.5,295.5 L309.4,297.7 L310.2,299.2Z" fill="#e3211b"/>
<path d="M343.7,303.3 L340.9,306.9 L339.7,310.6 L336.5,313.2 L334.4,316.6 L331.0,318.9 L327.8,322.0 L324.1,325.0 L324.1,325.0 L329.2,325.0 L333.7,323.0 L338.1,320.7 L340.7,316.4 L342.9,312.3 L344.8,308.0 L343.7,303.3Z" fill="#27aae1"/>
<path d="M348.1,292.3 L348.0,296.9 L347.2,301.2 L346.4,305.3 L345.6,309.4 L344.3,313.5 L342.2,317.5 L340.2,321.9 L340.2,321.9 L344.7,319.4 L347.3,315.2 L350.3,311.1 L351.7,306.3 L351.3,301.3 L350.8,296.5 L348.1,292.3Z" fill="#0072bc"/>
<path d="M309.7,271.6 L315.8,273.3 L321.4,274.9 L327.2,275.2 L332.4,277.4 L336.7,280.9 L341.2,284.0 L345.8,287.6 L345.8,287.6 L344.1,281.6 L340.2,276.6 L335.1,272.5 L328.6,270.9 L322.5,268.2 L315.8,269.2 L309.7,271.6Z" fill="#8dc63f"/>
<path d="M320.5,294.3 L320.8,296.0 L320.4,298.0 L320.7,298.7 L322.3,298.8 L322.1,299.8 L322.7,300.5 L324.6,301.6 L324.6,301.6 L325.8,300.2 L326.6,298.5 L325.8,297.1 L325.8,295.2 L324.6,293.9 L322.6,293.7 L320.5,294.3Z" fill="#27aae1"/>
<path d="M284.5,306.0 L285.6,302.8 L286.8,300.1 L287.2,297.4 L287.6,294.7 L288.0,291.9 L288.6,289.0 L289.0,285.7 L289.0,285.7 L286.1,287.7 L283.9,290.2 L282.6,293.3 L282.3,296.6 L281.6,299.8 L282.4,303.1 L284.5,306.0Z" fill="#f7941d"/>
<path d="M288.0,301.4 L289.8,298.8 L290.6,296.4 L291.9,294.3 L292.1,291.7 L293.9,289.8 L294.4,287.0 L295.3,284.0 L295.3,284.0 L292.3,285.2 L289.6,287.0 L288.9,290.1 L286.6,292.4 L286.6,295.5 L287.1,298.5 L288.0,301.4Z" fill="#f7941d"/>
<path d="M342.4,308.5 L338.7,311.1 L336.3,314.0 L332.8,315.8 L329.9,318.1 L327.3,321.6 L323.5,323.5 L319.5,325.7 L319.5,325.7 L324.4,326.7 L329.3,326.2 L334.0,324.6 L337.4,321.1 L340.4,317.3 L342.2,313.1 L342.4,308.5Z" fill="#fff200"/>
<path d="M296.5,272.0 L299.5,272.6 L301.9,272.5 L304.1,271.8 L306.5,271.9 L308.7,271.3 L310.8,269.8 L312.9,267.2 L312.9,267.2 L310.2,265.5 L307.3,264.4 L304.7,265.1 L301.9,265.1 L300.1,267.8 L297.8,269.0 L296.5,272.0Z" fill="#27aae1"/>
<path d="M302.1,261.6 L305.4,261.7 L308.6,262.3 L311.7,262.3 L314.7,261.2 L317.7,261.5 L320.8,261.4 L324.1,260.3 L324.1,260.3 L321.1,258.5 L317.9,257.7 L314.6,257.8 L311.3,258.5 L308.1,258.8 L305.0,259.7 L302.1,261.6Z" fill="#e3211b"/>
<path d="M346.4,292.5 L345.7,297.3 L345.4,301.5 L343.1,305.3 L341.9,309.0 L342.1,313.6 L339.8,317.5 L337.7,321.9 L337.7,321.9 L342.5,319.7 L346.6,316.4 L349.6,312.0 L350.3,306.7 L351.7,301.7 L349.0,296.8 L346.4,292.5Z" fill="#f7941d"/>
<path d="M284.3,312.7 L284.5,309.8 L284.1,307.2 L284.2,304.6 L284.7,302.1 L283.7,299.6 L283.7,297.1 L282.6,294.2 L282.6,294.2 L280.9,296.7 L280.3,299.5 L279.8,302.3 L280.3,305.2 L281.1,307.9 L282.1,310.6 L284.3,312.7Z" fill="#f7941d"/>
<path d="M307.1,293.2 L308.7,294.0 L309.4,293.7 L310.7,294.4 L311.3,294.3 L311.4,293.1 L311.9,292.3 L312.0,290.4 L312.0,290.4 L310.7,289.3 L309.6,289.0 L308.7,289.4 L307.8,289.7 L306.6,289.7 L306.5,291.3 L307.1,293.2Z" fill="#e3211b"/>
<path d="M309.3,332.7 L305.1,329.5 L300.9,327.4 L296.8,325.3 L293.3,322.5 L290.3,319.3 L286.8,316.5 L283.0,313.5 L283.0,313.5 L284.0,318.4 L286.3,322.9 L289.4,327.1 L294.2,329.4 L298.7,332.3 L303.9,333.2 L309.3,332.7Z" fill="#e3211b"/>
<path d="M343.3,328.7 L338.5,329.9 L334.1,331.5 L329.8,333.3 L325.3,334.5 L320.7,335.8 L315.9,335.9 L310.9,337.7 L310.9,337.7 L315.9,339.3 L321.1,340.1 L326.4,339.7 L331.6,338.7 L336.3,336.3 L340.4,333.1 L343.3,328.7Z" fill="#00a651"/>
<path d="M300.5,319.3 L298.5,316.1 L296.4,313.3 L294.7,310.4 L292.8,307.6 L292.7,304.3 L291.7,301.2 L290.7,297.7 L290.7,297.7 L289.2,301.2 L289.2,304.9 L290.0,308.7 L291.8,312.1 L294.2,315.1 L296.8,317.9 L300.5,319.3Z" fill="#ed1c24"/>
<path d="M299.8,294.3 L302.6,293.2 L305.1,292.4 L307.2,291.6 L308.6,289.9 L310.5,288.4 L312.6,286.8 L315.1,285.0 L315.1,285.0 L311.9,282.8 L308.6,282.8 L305.7,284.2 L302.9,285.7 L300.4,287.6 L299.2,290.7 L299.8,294.3Z" fill="#ffde17"/>
<path d="M295.6,283.5 L298.4,282.8 L300.9,282.0 L303.2,281.1 L305.4,280.0 L307.6,278.3 L310.0,277.1 L312.6,275.8 L312.6,275.8 L309.6,274.9 L306.6,275.2 L303.7,275.7 L301.0,276.8 L299.0,279.2 L297.0,281.1 L295.6,283.5Z" fill="#ec008c"/>
<path d="M307.8,335.6 L301.2,331.5 L294.8,328.4 L290.5,322.9 L286.2,318.0 L281.3,313.3 L279.5,307.0 L276.7,300.6 L276.7,300.6 L275.8,307.8 L277.6,315.0 L280.9,321.9 L286.1,327.5 L292.2,332.6 L299.7,335.5 L307.8,335.6Z" fill="#f7941d"/>
<path d="M297.5,315.0 L297.5,312.6 L296.7,311.2 L296.7,309.3 L296.2,307.8 L294.5,306.8 L294.0,305.3 L292.1,303.9 L292.1,303.9 L290.6,306.1 L290.1,308.3 L291.7,309.8 L291.9,311.9 L293.5,313.3 L295.3,314.4 L297.5,315.0Z" fill="#e3211b"/>
<path d="M311.4,293.6 L312.5,294.5 L313.5,295.7 L313.8,294.9 L314.4,294.8 L314.9,294.5 L315.5,294.0 L316.1,292.5 L316.1,292.5 L315.3,291.1 L314.3,289.8 L313.5,290.5 L312.6,290.3 L311.7,290.5 L311.4,291.9 L311.4,293.6Z" fill="#e3211b"/>
<path d="M297.4,314.9 L296.4,312.1 L295.1,309.8 L295.1,307.0 L293.8,304.8 L293.2,302.3 L293.3,299.7 L292.3,296.9 L292.3,296.9 L290.6,299.6 L290.2,302.5 L290.3,305.5 L291.5,308.3 L292.9,310.9 L294.9,313.2 L297.4,314.9Z" fill="#00a651"/>
<path d="M289.7,294.6 L292.6,292.8 L294.8,291.0 L296.3,289.0 L297.5,286.6 L299.8,285.2 L301.7,283.2 L302.9,279.5 L302.9,279.5 L298.9,278.9 L295.6,280.0 L293.5,282.6 L290.7,284.6 L289.4,287.8 L289.3,291.3 L289.7,294.6Z" fill="#f7941d"/>
<path d="M322.4,281.0 L325.4,283.6 L327.3,287.0 L329.5,289.2 L332.1,290.8 L333.4,293.5 L336.1,295.5 L339.0,298.2 L339.0,298.2 L340.6,294.0 L338.5,290.6 L337.9,286.1 L334.9,283.0 L330.7,281.6 L326.7,280.4 L322.4,281.0Z" fill="#c1161c"/>
<path d="M330.0,274.5 L331.7,276.9 L333.5,278.6 L335.4,280.1 L337.3,281.5 L338.8,283.4 L341.1,284.4 L343.7,285.5 L343.7,285.5 L343.0,282.9 L342.0,280.2 L340.0,278.4 L338.0,276.5 L335.8,274.9 L333.0,274.3 L330.0,274.5Z" fill="#0072bc"/>
<path d="M308.3,313.0 L307.4,310.5 L306.3,308.9 L305.2,307.5 L305.2,305.5 L304.4,304.2 L302.3,303.0 L300.6,301.3 L300.6,301.3 L298.7,303.7 L299.0,306.1 L300.2,308.3 L301.3,310.5 L303.0,312.3 L305.5,313.1 L308.3,313.0Z" fill="#92278f"/>
<path d="M312.4,282.3 L314.9,284.4 L317.0,284.6 L319.1,284.5 L320.8,286.3 L323.1,285.6 L325.4,285.8 L328.1,285.4 L328.1,285.4 L326.9,282.7 L325.1,280.4 L322.5,279.5 L319.8,279.9 L317.2,279.2 L314.6,280.2 L312.4,282.3Z" fill="#ffde17"/>
<path d="M329.9,284.1 L331.1,287.2 L332.1,290.0 L333.2,292.2 L333.9,294.5 L335.8,296.3 L336.6,298.6 L339.3,301.0 L339.3,301.0 L340.9,298.0 L341.6,294.5 L340.1,291.6 L338.9,288.5 L336.7,286.0 L333.4,284.6 L329.9,284.1Z" fill="#662d91"/>
<path d="M322.2,312.9 L320.8,312.1 L319.8,311.9 L318.9,312.3 L318.0,312.8 L317.1,312.4 L316.1,313.3 L315.1,314.1 L315.1,314.1 L316.2,315.3 L317.3,315.4 L318.4,315.6 L319.5,315.2 L320.7,315.2 L321.5,314.1 L322.2,312.9Z" fill="#ed1c24"/>
<path d="M329.7,304.1 L327.5,305.6 L325.8,307.0 L323.7,307.7 L322.1,308.8 L320.8,310.7 L318.7,311.6 L316.5,313.7 L316.5,313.7 L319.4,315.4 L322.5,315.2 L324.9,313.4 L328.0,312.6 L329.6,310.0 L330.4,307.1 L329.7,304.1Z" fill="#00a99d"/>
<path d="M298.1,308.9 L298.5,306.7 L298.0,305.1 L297.8,303.4 L298.6,301.7 L297.6,300.0 L297.6,298.3 L296.8,296.3 L296.8,296.3 L294.8,297.8 L293.7,299.8 L293.7,301.9 L294.4,304.0 L294.4,306.1 L296.2,307.7 L298.1,308.9Z" fill="#27aae1"/>
<path d="M324.8,321.6 L320.9,321.1 L317.4,320.5 L314.0,321.0 L310.7,320.1 L307.3,319.7 L303.9,318.9 L300.3,317.9 L300.3,317.9 L302.8,320.8 L305.8,323.7 L309.8,324.1 L313.7,324.7 L317.7,325.1 L321.5,323.9 L324.8,321.6Z" fill="#c1161c"/>
<path d="M331.7,287.8 L331.9,289.9 L332.3,291.5 L333.6,292.5 L334.0,293.9 L334.7,295.2 L335.9,296.4 L337.1,297.7 L337.1,297.7 L337.9,295.9 L337.8,294.0 L337.1,292.4 L336.2,290.9 L335.4,289.2 L333.6,288.4 L331.7,287.8Z" fill="#fff200"/>
<path d="M316.1,266.1 L321.8,268.1 L327.4,269.5 L332.3,272.3 L337.2,274.7 L341.8,277.5 L345.5,281.4 L350.2,284.7 L350.2,284.7 L348.2,279.2 L344.1,274.9 L339.6,271.0 L334.5,267.3 L328.4,266.0 L322.2,265.4 L316.1,266.1Z" fill="#ed1c24"/>
<path d="M322.5,298.0 L321.3,299.3 L320.6,300.1 L321.1,300.4 L320.0,300.9 L320.1,301.3 L321.8,302.0 L322.9,303.0 L322.9,303.0 L324.3,302.6 L326.2,301.9 L325.5,300.8 L325.6,299.8 L325.2,298.8 L324.6,297.9 L322.5,298.0Z" fill="#ed1c24"/>
<path d="M283.6,306.2 L284.8,300.6 L285.6,295.3 L288.9,291.0 L290.7,286.0 L294.1,281.7 L298.6,278.3 L303.0,273.7 L303.0,273.7 L296.2,274.4 L291.2,278.6 L285.7,282.3 L283.7,288.6 L280.8,294.2 L281.1,300.5 L283.6,306.2Z" fill="#e3211b"/>
<path d="M297.8,305.9 L298.1,304.1 L298.9,302.5 L298.3,301.1 L298.7,299.6 L298.4,298.0 L298.6,296.5 L298.4,294.7 L298.4,294.7 L297.1,296.0 L296.2,297.6 L295.8,299.3 L295.5,301.1 L295.5,302.9 L296.5,304.5 L297.8,305.9Z" fill="#f7941d"/>
<path d="M285.2,286.9 L289.5,284.1 L293.1,281.2 L297.5,279.5 L301.1,276.6 L305.2,274.0 L309.9,272.4 L314.8,269.9 L314.8,269.9 L309.2,268.3 L303.4,268.2 L297.9,269.9 L293.7,273.8 L288.9,276.6 L286.0,281.4 L285.2,286.9Z" fill="#0072bc"/>
<path d="M301.5,273.1 L304.8,273.6 L307.6,273.0 L310.4,272.4 L313.2,272.6 L316.1,271.8 L318.9,271.6 L322.0,270.6 L322.0,270.6 L319.2,269.1 L316.1,268.5 L312.9,267.9 L309.7,268.3 L306.7,269.2 L303.9,270.9 L301.5,273.1Z" fill="#92278f"/>
<path d="M308.9,269.9 L312.0,270.4 L314.9,270.9 L317.7,271.6 L320.6,271.3 L323.5,271.4 L326.4,271.6 L329.5,271.6 L329.5,271.6 L327.0,269.5 L324.0,268.8 L321.1,267.4 L317.9,267.7 L314.8,267.9 L311.8,268.6 L308.9,269.9Z" fill="#f7941d"/>
<path d="M329.8,304.5 L328.2,305.9 L327.1,307.3 L325.7,308.4 L324.5,309.7 L323.0,310.6 L321.5,312.0 L319.9,313.4 L319.9,313.4 L322.2,313.6 L324.3,313.0 L326.6,312.4 L328.1,310.7 L328.9,308.5 L329.9,306.7 L329.8,304.5Z" fill="#fff200"/>
<path d="M317.5,293.5 L318.3,294.5 L318.8,295.7 L319.5,296.1 L320.4,296.1 L320.8,296.8 L321.8,296.9 L323.2,297.0 L323.2,297.0 L323.1,295.8 L322.7,294.7 L321.9,293.9 L321.3,292.8 L319.9,292.9 L318.7,293.1 L317.5,293.5Z" fill="#ed1c24"/>
<path d="M336.5,270.7 L339.7,275.4 L343.5,278.6 L346.4,282.5 L348.9,286.4 L351.7,290.4 L353.0,294.9 L355.4,299.5 L355.4,299.5 L356.6,294.1 L355.5,288.9 L354.5,283.4 L350.5,279.3 L346.6,275.4 L342.3,271.8 L336.5,270.7Z" fill="#e3211b"/>
<path d="M321.1,287.8 L321.7,289.4 L322.5,290.1 L323.6,290.3 L324.1,291.4 L325.0,291.8 L326.2,291.9 L327.7,291.9 L327.7,291.9 L327.8,290.2 L326.8,289.5 L326.0,288.5 L325.1,287.5 L324.0,287.0 L322.5,287.4 L321.1,287.8Z" fill="#00a99d"/>
<path d="M331.0,305.4 L329.4,306.5 L328.1,307.5 L326.9,308.5 L326.0,309.7 L324.8,310.8 L323.8,312.2 L322.6,313.8 L322.6,313.8 L324.6,313.7 L326.4,313.0 L328.4,312.4 L329.4,310.7 L330.7,309.3 L331.3,307.5 L331.0,305.4Z" fill="#ed1c24"/>
<path d="M278.9,312.8 L279.1,307.3 L280.1,302.3 L281.1,297.6 L281.2,292.8 L282.0,287.9 L284.7,283.6 L286.2,277.9 L286.2,277.9 L280.6,280.7 L278.1,286.0 L274.8,290.9 L273.3,296.7 L273.2,302.6 L275.3,308.1 L278.9,312.8Z" fill="#ed1c24"/>
<path d="M311.4,289.3 L313.6,290.2 L315.5,291.4 L317.2,291.6 L318.9,291.8 L320.8,291.5 L322.7,291.6 L325.0,291.6 L325.0,291.6 L323.9,289.4 L322.4,287.3 L320.0,287.1 L317.8,285.8 L315.4,287.0 L313.1,287.0 L311.4,289.3Z" fill="#f26522"/>
<path d="M312.3,308.8 L312.4,306.9 L312.4,305.7 L311.9,305.6 L311.8,304.9 L311.1,305.0 L310.6,304.9 L308.4,306.0 L308.4,306.0 L307.7,307.6 L307.9,308.5 L308.4,309.4 L309.0,310.1 L309.8,310.5 L311.0,309.9 L312.3,308.8Z" fill="#ec008c"/>
<path d="M272.0,270.0 L285.8,260.4 L300.5,254.6 L315.4,252.7 L329.8,251.3 L342.3,254.6 L352.0,259.0 L352.0,259.0 L343.6,251.7 L330.2,246.7 L314.8,248.4 L299.5,251.5 L284.4,258.1 L272.0,270.0Z" fill="#1ba1dc"/>
<path d="M272.0,276.0 L276.3,279.0 L280.0,279.9 L282.1,277.7 L284.2,277.0 L286.7,275.0 L289.0,272.0 L289.0,272.0 L285.9,268.9 L282.9,266.3 L279.8,267.8 L276.3,268.8 L273.9,271.6 L272.0,276.0Z" fill="#c1161c"/>
<path d="M285.0,266.0 L290.7,267.2 L296.0,267.3 L301.8,268.2 L305.8,266.1 L309.3,263.3 L312.0,258.0 L312.0,258.0 L306.9,256.0 L302.4,255.8 L299.0,258.5 L294.1,260.0 L289.3,261.9 L285.0,266.0Z" fill="#e3211b"/>
<path d="M290.0,273.0 L294.5,273.2 L299.1,273.5 L303.1,272.7 L306.6,270.3 L310.4,268.6 L314.0,266.0 L314.0,266.0 L309.4,264.6 L305.3,265.1 L301.1,265.8 L296.8,266.8 L293.3,269.6 L290.0,273.0Z" fill="#2e3192"/>
<path d="M298.0,281.0 L301.5,279.8 L304.5,278.1 L306.3,275.4 L308.9,273.1 L311.4,270.6 L313.0,267.0 L313.0,267.0 L309.4,268.3 L306.4,270.3 L302.9,271.8 L301.1,274.8 L299.5,277.8 L298.0,281.0Z" fill="#27aae1"/>
<path d="M266.0,278.0 L263.5,282.4 L261.1,286.8 L261.5,292.0 L260.4,297.0 L261.2,301.3 L263.2,305.6 L264.1,310.3 L266.7,314.3 L270.0,318.0 L270.0,318.0 L270.2,313.2 L269.7,308.6 L270.2,304.0 L269.4,300.0 L268.8,295.7 L268.1,292.0 L268.2,287.8 L267.7,283.0 L266.0,278.0Z" fill="#c1651b"/>
<path d="M274.0,283.0 L273.9,285.7 L274.6,287.4 L276.6,287.4 L279.0,287.0 L279.0,287.0 L278.7,284.8 L277.6,283.6 L276.6,282.3 L274.0,283.0Z" fill="#ec008c"/>
<path d="M280.0,290.0 L277.8,294.2 L278.5,297.6 L280.6,300.5 L284.0,303.0 L284.0,303.0 L285.1,299.1 L285.7,295.4 L284.1,292.3 L280.0,290.0Z" fill="#92278f"/>
<path d="M282.0,300.0 L280.8,304.2 L280.7,308.0 L282.5,311.0 L287.0,313.0 L287.0,313.0 L288.5,308.7 L288.3,305.0 L285.3,302.5 L282.0,300.0Z" fill="#fff200"/>
<path d="M287.0,300.0 L289.1,304.3 L292.1,306.6 L295.1,308.9 L298.0,309.4 L301.0,309.7 L305.0,307.0 L305.0,307.0 L303.8,302.1 L301.1,301.1 L299.0,298.9 L295.7,297.5 L291.7,298.0 L287.0,300.0Z" fill="#ed1c24"/>
<path d="M287.0,288.0 L287.8,292.3 L289.3,295.1 L292.2,294.4 L296.0,292.0 L296.0,292.0 L295.6,286.9 L293.6,285.4 L291.0,285.1 L287.0,288.0Z" fill="#00a99d"/>
<path d="M304.0,276.0 L302.6,280.8 L303.4,285.0 L305.5,288.7 L309.0,292.0 L309.0,292.0 L310.8,287.1 L309.4,283.1 L307.7,279.2 L304.0,276.0Z" fill="#662d91"/>
<path d="M312.0,258.0 L317.6,261.8 L323.0,262.3 L327.8,260.7 L332.4,261.2 L337.2,263.1 L343.0,260.0 L343.0,260.0 L338.8,255.0 L333.7,254.4 L328.3,253.1 L322.3,251.6 L317.2,255.1 L312.0,258.0Z" fill="#e3211b"/>
<path d="M346.0,262.0 L353.6,274.2 L358.0,289.2 L360.1,304.9 L362.0,322.0 L362.0,322.0 L370.8,305.2 L368.2,286.7 L361.0,269.4 L346.0,262.0Z" fill="#e3211b"/>
<path d="M344.0,264.0 L343.0,267.9 L345.0,269.2 L346.1,271.3 L350.0,271.0 L350.0,271.0 L351.4,266.8 L349.4,265.5 L347.5,264.0 L344.0,264.0Z" fill="#fcd116"/>
<path d="M328.0,279.0 L328.2,282.4 L329.2,282.8 L330.5,281.8 L332.0,280.0 L332.0,280.0 L331.8,276.7 L330.8,276.4 L329.6,276.8 L328.0,279.0Z" fill="#00a651"/>
<path d="M320.0,277.0 L321.6,278.6 L323.0,278.8 L324.2,278.5 L325.0,276.0 L325.0,276.0 L323.3,274.1 L321.9,273.7 L320.9,275.1 L320.0,277.0Z" fill="#662d91"/>
<path d="M321.0,287.0 L324.7,291.8 L329.0,294.4 L334.0,293.9 L338.3,296.1 L343.0,298.1 L349.0,297.0 L349.0,297.0 L345.7,291.9 L341.4,288.9 L336.6,286.5 L331.7,285.0 L326.6,285.2 L321.0,287.0Z" fill="#ed1c24"/>
<path d="M349.0,287.0 L348.6,291.4 L350.3,293.7 L352.9,295.1 L357.0,295.0 L357.0,295.0 L356.7,291.3 L356.0,288.0 L353.2,286.8 L349.0,287.0Z" fill="#fff200"/>
<path d="M314.0,302.0 L318.5,306.6 L323.6,308.7 L328.1,313.2 L333.8,311.9 L339.1,312.1 L345.0,310.0 L345.0,310.0 L341.2,304.1 L336.4,302.0 L331.3,300.8 L326.2,298.6 L320.2,300.0 L314.0,302.0Z" fill="#f7941d"/>
<path d="M325.0,292.0 L328.2,295.2 L332.0,295.9 L335.7,297.2 L340.0,296.0 L340.0,296.0 L336.8,292.9 L333.0,292.2 L329.2,291.5 L325.0,292.0Z" fill="#d4a15a"/>
<path d="M333.0,304.0 L338.4,303.7 L343.2,302.1 L347.7,300.1 L352.1,296.9 L356.4,293.6 L360.0,289.0 L360.0,289.0 L354.0,289.4 L349.1,291.7 L344.1,293.6 L340.5,297.1 L336.2,299.5 L333.0,304.0Z" fill="#26b3c9"/>
<path d="M285.0,312.0 L286.2,316.0 L288.0,319.0 L291.0,320.5 L293.1,323.3 L296.4,324.8 L301.0,325.0 L301.0,325.0 L299.7,321.1 L298.0,317.6 L294.9,315.6 L292.4,313.3 L289.1,312.1 L285.0,312.0Z" fill="#1fb5c4"/>
<path d="M278.0,322.0 L281.5,326.6 L286.0,329.2 L290.8,331.6 L297.1,333.0 L303.2,334.2 L310.0,333.0 L310.0,333.0 L304.8,328.4 L299.5,324.3 L294.0,322.2 L289.2,321.8 L284.3,320.1 L278.0,322.0Z" fill="#f7941d"/>
<path d="M298.0,318.0 L300.4,322.2 L303.2,324.8 L307.1,324.6 L310.2,327.2 L313.9,326.4 L318.0,323.0 L318.0,323.0 L315.3,319.4 L312.4,316.4 L309.5,314.9 L306.1,315.1 L302.2,316.3 L298.0,318.0Z" fill="#ed1c24"/>
<path d="M294.0,335.0 L297.8,337.0 L301.6,338.9 L305.7,338.7 L310.0,337.0 L310.0,337.0 L306.3,334.0 L302.3,333.6 L298.3,333.2 L294.0,335.0Z" fill="#662d91"/>
<path d="M312.0,321.0 L318.0,323.4 L324.0,323.3 L330.3,324.1 L335.5,322.6 L340.9,323.7 L346.3,320.5 L349.9,317.0 L351.5,313.0 L353.0,309.0 L353.0,309.0 L348.8,310.7 L346.1,313.6 L343.5,315.2 L339.3,315.6 L334.3,316.5 L329.7,318.0 L324.0,318.0 L318.0,319.4 L312.0,321.0Z" fill="#ed1c24"/>
<path d="M358.0,300.0 L356.3,306.1 L357.2,311.4 L359.4,315.3 L358.2,318.5 L358.3,323.0 L360.0,328.0 L360.0,328.0 L363.8,324.3 L366.3,320.3 L366.4,314.8 L365.4,308.7 L362.8,303.9 L358.0,300.0Z" fill="#c1161c"/>
<path d="M364.0,300.0 L362.4,304.2 L363.2,308.0 L363.9,311.7 L367.0,315.0 L367.0,315.0 L368.2,310.9 L367.9,307.0 L367.3,303.2 L364.0,300.0Z" fill="#fbb040"/>
<path d="M326.0,330.0 L330.4,332.2 L334.8,334.7 L340.2,335.2 L345.6,334.1 L349.9,331.2 L354.0,328.0 L354.0,328.0 L348.8,328.2 L344.1,329.8 L339.8,330.7 L335.9,329.3 L331.1,329.0 L326.0,330.0Z" fill="#92278f"/>
<path d="M330.0,327.0 L333.1,330.0 L336.8,331.8 L340.7,332.9 L345.0,333.0 L345.0,333.0 L341.7,330.3 L338.1,328.6 L334.5,326.7 L330.0,327.0Z" fill="#f7941d"/>
<path d="M314.0,333.0 L314.9,337.4 L317.5,339.7 L320.0,342.0 L322.3,345.1 L325.6,347.6 L330.0,349.0 L330.0,349.0 L329.2,344.3 L327.0,340.9 L324.5,337.5 L321.7,335.0 L318.6,333.2 L314.0,333.0Z" fill="#1c75bc"/>
<path d="M333.0,338.0 L337.9,339.5 L342.9,340.3 L348.2,342.2 L353.1,340.2 L357.7,338.9 L362.0,336.0 L362.0,336.0 L357.1,335.8 L352.2,335.8 L347.8,336.1 L343.2,336.0 L338.1,336.7 L333.0,338.0Z" fill="#27aae1"/>
<path d="M312.0,344.0 L314.0,346.5 L316.2,348.0 L319.0,347.8 L322.0,347.0 L322.0,347.0 L320.1,344.3 L317.7,343.2 L315.0,343.2 L312.0,344.0Z" fill="#0072bc"/>
<path d="M272.0,318.0 L277.9,300.6 L284.9,287.4 L292.4,281.5 L297.6,285.0 L300.9,292.3 L302.0,298.0 L302.0,298.0 L304.8,291.8 L302.5,280.9 L291.4,275.8 L280.6,284.2 L274.8,299.6 L272.0,318.0Z" fill="#00a651"/>
<path d="M270.0,311.0 L269.2,316.0 L270.4,318.6 L273.4,320.7 L277.0,321.2 L279.6,321.0 L283.0,318.0 L283.0,318.0 L281.9,313.0 L279.3,313.2 L278.9,310.6 L277.8,309.7 L274.8,309.3 L270.0,311.0Z" fill="#00a651"/>
<path d="M271.0,322.0 L277.1,332.9 L287.2,340.7 L299.7,344.9 L312.0,344.6 L315.0,334.0 L315.0,334.0 L310.2,341.7 L300.5,340.3 L288.7,337.5 L279.1,330.9 L271.0,322.0Z" fill="#8dc63f"/>
<path d="M343.5,278.5 C343.3,279.1 343.1,280.8 342.5,281.9 C341.8,282.9 340.8,283.9 339.6,284.7 C338.4,285.5 336.8,286.1 335.3,286.5 C333.7,286.9 331.9,287.1 330.3,287.0 C328.6,286.9 326.9,286.6 325.4,286.1 C323.9,285.6 322.5,284.8 321.4,284.0 C320.4,283.1 319.5,282.0 319.0,280.9 C318.6,279.9 318.4,278.6 318.6,277.5 C318.8,276.4 319.3,275.2 320.2,274.2 C321.0,273.3 322.2,272.4 323.5,271.7 C324.9,271.0 326.5,270.5 328.1,270.2 C329.7,270.0 331.5,269.9 333.2,270.1 C334.8,270.3 336.5,270.8 337.9,271.4 C339.2,272.0 340.5,272.9 341.4,273.8 C342.4,274.8 343.0,276.5 343.3,277.0" fill="none" stroke="#f7a541" stroke-width="3.5"/>
</g>

<g class="t" font-size="24.4">
<text x="309.6" y="65" text-anchor="middle" textLength="75.6" lengthAdjust="spacingAndGlyphs">Thoughts</text>
<text x="309.6" y="94" text-anchor="middle" textLength="53.3" lengthAdjust="spacingAndGlyphs">Create</text>
<text x="309.6" y="123" text-anchor="middle" textLength="65.7" lengthAdjust="spacingAndGlyphs">Feelings</text>
<text x="97.6" y="470.5" text-anchor="middle" textLength="73.5" lengthAdjust="spacingAndGlyphs">Behavior</text>
<text x="97.6" y="499.6" text-anchor="middle" textLength="88.6" lengthAdjust="spacingAndGlyphs">Reinforces</text>
<text x="97.6" y="528.9" text-anchor="middle" textLength="77.7" lengthAdjust="spacingAndGlyphs">Thoughts</text>
<text x="547.3" y="473.5" text-anchor="middle" textLength="68.8" lengthAdjust="spacingAndGlyphs">Feelings</text>
<text x="547.3" y="502.6" text-anchor="middle" textLength="56.2" lengthAdjust="spacingAndGlyphs">Create</text>
<text x="547.3" y="531.8" text-anchor="middle" textLength="82.2" lengthAdjust="spacingAndGlyphs">Behaviors</text>
</g>
<g class="c" font-size="17">
<text x="309" y="370.6" text-anchor="middle" textLength="54.7" lengthAdjust="spacingAndGlyphs">Cognitive</text>
<text x="309" y="391.6" text-anchor="middle" textLength="60.8" lengthAdjust="spacingAndGlyphs">Behavioral</text>
<text x="309" y="412.25" text-anchor="middle" textLength="45.9" lengthAdjust="spacingAndGlyphs">Therapy</text>
</g>
<g fill="#fff">
<path d="M384.5,369.6 C387,369 389.5,370 390.2,372 C390.4,375 389.2,377.2 387,377.6 C385.4,377.6 384.6,376 384.5,369.6Z" opacity="0.3"/>
<path d="M376.6,366.4 C378.6,365.2 381.6,365 384.4,365.6 C385.8,369 385.6,374.6 383.2,377.4 C381.4,379 378.6,379 377.2,377.8Z" opacity="0.55"/>
<path d="M361.6,372.4 C361.6,367.4 365.4,364.8 369.6,364.6 L375.8,364.1 C377.6,368 377.8,374 375.2,377.6 C373.2,380.4 369.6,381.1 366.6,380.5 C363.4,379.5 361.6,376.4 361.6,372.4Z"/>
<g stroke="#36b5e8" stroke-width="0.7" fill="none"><path d="M366.2,378.6 L374.6,365.6 M368.2,375.6 L375.6,376.6 M369.6,373.4 L376.4,373.2 M371,371.2 L376.4,369.8 M372.5,369 L375.8,366.8"/></g>
<text x="362.8" y="391.6" font-family="Liberation Sans, sans-serif" font-weight="bold" font-size="11" textLength="59" lengthAdjust="spacingAndGlyphs">Pathways</text>
</g>
</svg>
</body></html>
